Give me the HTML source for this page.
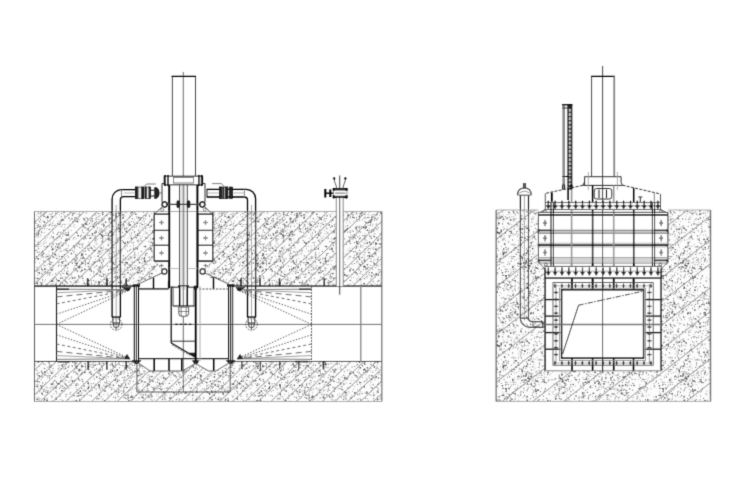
<!DOCTYPE html>
<html><head><meta charset="utf-8"><title>Gate valve sections</title>
<style>html,body{margin:0;padding:0;background:#fff;font-family:"Liberation Sans",sans-serif}svg{display:block}</style></head>
<body><svg width="751" height="484" viewBox="0 0 751 484" shape-rendering="geometricPrecision">
<rect width="751" height="484" fill="#fff"/>
<defs>
<clipPath id="cl"><path d="M34.5 211.5L154.3 211.5L154.3 261.2L163.0 269.5L162.0 273.0L134.3 286.0L34.5 286.0ZM212.7 211.5L381.8 211.5L381.8 286.0L232.7 286.0L205.0 273.0L204.0 269.5L212.7 261.2ZM34.5 361.5L136.5 361.5L150.0 371.0L182.5 371.0L195.5 363.5L208.5 371.0L216.0 371.0L231.0 361.5L381.8 361.5L381.8 401.5L34.5 401.5Z"/></clipPath>
<clipPath id="cr"><path clip-rule="evenodd" d="M496.2 210.0L710.5 210.0L710.5 401.4L496.2 401.4ZM538.4 210.0L667.9 210.0L667.9 262.0L661.2 269.0L661.2 370.8L545.0 370.8L545.0 269.0L538.4 262.0Z"/></clipPath>
<filter id="bl" x="0" y="0" width="100%" height="100%" filterUnits="userSpaceOnUse"><feConvolveMatrix order="3" kernelMatrix="0.019 0.1 0.019 0.1 0.524 0.1 0.019 0.1 0.019" divisor="1" edgeMode="duplicate" preserveAlpha="false"/></filter>
</defs>
<g filter="url(#bl)">
<defs>
<pattern id="dp1" width="181" height="103" patternUnits="userSpaceOnUse">
<path d="M143.5 9.7h0M118.4 63.4h0M2.7 54.4h0M34.4 24.9h0M119.9 47.1h0M128.1 32.5h0M72.5 87.2h0M173.4 87.3h0M38.0 93.8h0M177.4 40.9h0M113.9 80.2h0M137.2 12.2h0M32.2 57.6h0M34.5 75.4h0M116.5 12.0h0M59.5 30.5h0M16.3 60.0h0M108.8 38.3h0M156.8 18.8h0M164.4 84.2h0M109.2 43.4h0M7.0 99.2h0M108.0 30.2h0M130.4 7.1h0M50.7 94.5h0M3.0 27.7h0M10.9 18.2h0M103.6 13.6h0M125.1 60.2h0M126.9 99.2h0M57.7 102.9h0M163.1 89.7h0M79.7 86.4h0M46.3 1.2h0M122.7 20.9h0M163.9 68.0h0M165.5 90.7h0M105.5 32.6h0M128.7 97.9h0M30.6 46.4h0M177.7 46.6h0M5.7 89.9h0M128.3 58.8h0M143.3 2.0h0M43.0 14.5h0M123.9 20.5h0M32.3 1.1h0M129.3 18.4h0M111.2 77.9h0M143.3 93.3h0M168.8 74.4h0M144.2 97.3h0M63.1 8.5h0M5.1 83.3h0M144.8 17.8h0M142.6 14.5h0M171.8 8.9h0M101.4 32.1h0M153.0 92.8h0M91.1 62.3h0M175.5 53.1h0M48.7 48.7h0M86.3 32.7h0M111.8 95.3h0M141.1 2.3h0M41.1 70.8h0M64.3 63.8h0M79.1 38.7h0M95.8 16.5h0M163.4 32.5h0M160.6 13.8h0M131.5 26.7h0M165.0 99.7h0M124.1 19.5h0M93.2 58.6h0M179.2 95.5h0M11.2 98.0h0M138.4 33.7h0M73.4 20.1h0M140.8 83.9h0M138.9 78.8h0M130.8 7.3h0M84.9 1.1h0M115.6 64.3h0M171.0 68.6h0M46.5 41.4h0M35.4 38.7h0M8.2 95.8h0M53.6 1.4h0M13.3 93.3h0M86.4 100.2h0M82.5 21.0h0M95.6 12.8h0M120.9 46.9h0M132.9 24.6h0M136.4 19.6h0M7.2 6.3h0M77.0 64.2h0M98.0 7.5h0M67.5 49.3h0M112.9 79.2h0M166.7 44.0h0M17.6 90.1h0M125.6 29.1h0M64.8 74.8h0M79.3 82.7h0M161.9 25.6h0M66.2 37.4h0M159.4 29.0h0M94.4 78.8h0M128.2 94.2h0M128.5 82.6h0M179.4 38.7h0M37.0 43.8h0M175.5 6.1h0M32.5 6.4h0M105.7 93.7h0M19.7 19.0h0M40.5 19.1h0M31.2 78.0h0M99.2 84.2h0M87.4 22.8h0M171.5 82.5h0M95.5 53.1h0M179.2 67.7h0M2.0 48.7h0M28.5 16.2h0M115.3 102.3h0M148.8 8.5h0M75.5 94.4h0M56.4 32.0h0M65.1 70.8h0M150.2 67.4h0M68.3 73.1h0M102.1 47.2h0M179.5 82.3h0M111.5 29.9h0M97.7 30.7h0M71.0 68.7h0M36.2 75.3h0M60.0 85.2h0M128.2 18.5h0M151.5 61.1h0M41.0 16.2h0M138.8 84.6h0M60.0 42.5h0M3.4 34.1h0M117.8 10.9h0M163.4 56.5h0M113.5 20.4h0M59.6 95.7h0M101.5 57.7h0M52.2 92.4h0M103.8 85.6h0M99.2 7.9h0M145.5 1.7h0M84.7 14.7h0M47.7 58.5h0M154.8 42.1h0M12.6 12.8h0M91.0 40.9h0M125.8 54.2h0M55.4 40.7h0M120.5 89.2h0M102.6 93.1h0M172.1 0.1h0M54.2 33.5h0M162.0 84.0h0M64.5 60.3h0M5.6 92.5h0M85.5 21.3h0M167.0 92.4h0M151.7 36.5h0M36.6 65.1h0M159.3 5.2h0M157.4 73.5h0M126.0 96.6h0M14.3 23.0h0M128.6 20.2h0M106.8 23.6h0M167.7 68.7h0M8.2 61.8h0M45.4 82.7h0M51.6 77.8h0M50.5 56.5h0M162.4 101.7h0M83.6 77.3h0M168.2 51.5h0M100.6 66.4h0M94.2 98.0h0M142.4 81.5h0M32.6 15.6h0M89.8 44.8h0M47.6 82.2h0M143.3 24.5h0M56.3 4.4h0M112.4 54.1h0M31.1 26.2h0M11.1 42.3h0M39.2 100.0h0M25.6 40.5h0M76.8 7.9h0M110.6 4.1h0M117.6 6.0h0M160.4 47.6h0M39.0 35.8h0M99.5 16.9h0M38.8 48.2h0M156.2 21.1h0M13.2 71.2h0M49.7 1.9h0M129.4 27.7h0M27.8 96.5h0M3.7 33.2h0M15.1 90.9h0M139.5 53.5h0M71.3 24.5h0M27.3 61.3h0M24.6 72.8h0M131.3 68.6h0M40.9 30.1h0M39.1 4.2h0M42.5 65.1h0M77.4 40.4h0M50.6 16.3h0M43.4 9.6h0M4.2 40.3h0M11.4 41.6h0M89.7 60.3h0M58.9 26.1h0M47.4 68.8h0M74.4 42.8h0M150.2 90.6h0M164.6 3.9h0M91.8 31.8h0M176.8 15.4h0M41.4 70.1h0M0.2 56.0h0M150.4 99.8h0M62.7 91.3h0M174.5 84.9h0M96.7 24.4h0M22.8 6.5h0M18.5 72.6h0M45.6 73.7h0M150.0 58.4h0M145.0 12.9h0M121.2 23.8h0M75.9 65.0h0M168.9 101.8h0M129.1 12.2h0M21.7 34.0h0M98.2 49.8h0M138.5 101.0h0M26.6 18.0h0M21.8 33.3h0M66.2 26.7h0M11.7 91.9h0M118.9 64.2h0M31.8 2.8h0M21.5 7.7h0M143.4 75.7h0M72.8 72.6h0M41.1 40.0h0M118.9 83.5h0M115.5 36.5h0M163.8 33.1h0M60.6 76.4h0M32.1 10.9h0M63.4 44.4h0M91.0 41.5h0M97.2 98.1h0M19.6 101.7h0M174.2 22.6h0M127.8 18.3h0M122.6 97.6h0M26.8 65.4h0M91.4 58.5h0M151.6 71.1h0M120.4 43.2h0M168.6 15.6h0M179.7 76.0h0M133.4 101.9h0M45.4 83.1h0M97.1 89.2h0M50.6 66.3h0M144.2 15.6h0M18.2 3.8h0M156.5 85.9h0M111.7 92.9h0M158.7 74.9h0M121.0 44.4h0M84.4 13.3h0M170.3 62.8h0M133.3 37.1h0M76.9 84.5h0M62.7 72.5h0M82.3 96.2h0M134.5 61.9h0M11.6 43.2h0M79.8 98.3h0M125.8 69.2h0M45.5 43.3h0M16.0 37.4h0M130.9 68.9h0M162.5 97.8h0M114.6 48.3h0M12.0 47.6h0M37.9 38.1h0M71.4 76.4h0M132.3 79.9h0M171.0 92.3h0M20.1 81.3h0M53.2 80.1h0M74.9 5.6h0M81.8 57.5h0M174.4 42.6h0M5.2 11.4h0M8.3 42.9h0M90.7 93.1h0M54.2 76.2h0M66.6 44.2h0M64.9 44.3h0M9.0 86.1h0M95.5 56.4h0M40.3 10.2h0M56.9 49.9h0M135.7 50.2h0M73.6 99.5h0M107.4 99.0h0M108.2 38.0h0M110.3 60.7h0M9.6 9.6h0M48.9 82.0h0M155.7 41.4h0M150.5 33.8h0M10.3 78.6h0M136.2 59.7h0M178.0 94.4h0M68.4 46.1h0M120.6 56.5h0M101.4 95.0h0M22.3 90.0h0M5.7 44.5h0M19.0 76.5h0M106.0 20.8h0M87.0 101.0h0M126.2 24.1h0M132.2 59.2h0M11.6 85.0h0M82.5 50.1h0M136.3 10.5h0M102.8 56.8h0M131.6 27.3h0M3.7 55.3h0M53.0 26.0h0M87.8 28.1h0M140.3 26.8h0M42.3 46.6h0M102.4 35.9h0M18.5 58.2h0M11.1 68.6h0M33.4 54.3h0M75.5 50.0h0M101.6 13.9h0M155.4 96.3h0M173.2 2.5h0M176.5 85.8h0M60.7 35.7h0M31.8 15.4h0M86.7 80.7h0M43.1 67.4h0M33.4 23.9h0M143.0 55.6h0M138.2 25.2h0M75.0 101.9h0M2.5 51.4h0M11.8 94.2h0M82.1 38.3h0M49.4 96.7h0M33.5 35.8h0M55.6 18.8h0M14.7 23.0h0M91.2 16.5h0M153.1 47.9h0M170.9 100.7h0M138.0 41.3h0M38.3 2.0h0M84.2 18.8h0M55.1 4.3h0M112.0 38.0h0M112.9 32.7h0M160.0 59.8h0M97.8 47.4h0M154.4 90.8h0M92.1 101.4h0M30.9 74.5h0M167.0 53.0h0M0.3 51.1h0M103.9 65.1h0M116.1 99.9h0M88.7 49.7h0M152.2 51.8h0M146.5 82.5h0M147.5 31.2h0M11.7 68.7h0M177.8 89.7h0M178.3 64.2h0M89.0 39.6h0M125.7 53.1h0M124.2 97.0h0M167.8 93.9h0M140.1 34.3h0M94.6 50.2h0M156.1 55.2h0M134.8 25.7h0M105.1 24.9h0M12.7 5.4h0M75.0 41.9h0M85.8 98.8h0M180.5 54.4h0M138.7 5.9h0M117.2 72.7h0M78.3 11.0h0M172.8 91.5h0M79.2 13.2h0M103.7 76.7h0M8.4 73.2h0M9.9 48.8h0M13.2 40.3h0M88.1 60.5h0M178.0 12.4h0M81.2 37.7h0M176.7 80.9h0M121.5 76.3h0M47.0 63.2h0M72.1 102.3h0M148.7 86.2h0M135.1 59.6h0M161.7 68.3h0M145.9 43.3h0M63.8 78.2h0M149.9 39.2h0M64.9 55.3h0M67.8 67.7h0M45.2 18.3h0M61.0 90.5h0M85.8 32.3h0M178.6 23.0h0M61.8 45.3h0M41.0 37.5h0M105.6 9.8h0M156.1 6.5h0M3.8 71.8h0M58.4 48.1h0M101.6 36.7h0M45.0 30.1h0M84.9 52.7h0M142.7 91.9h0M4.0 31.0h0M144.1 63.9h0M151.2 7.7h0M2.4 15.3h0M107.1 60.0h0M18.3 65.6h0M25.4 20.8h0M69.3 84.8h0M175.3 24.7h0M166.1 69.5h0M33.8 24.4h0M121.2 64.7h0M129.8 50.8h0M67.2 34.0h0M107.2 94.2h0M102.3 24.6h0M6.1 19.5h0M137.7 74.4h0M149.4 15.2h0M69.0 8.9h0M6.8 11.6h0M34.6 11.6h0M115.9 17.3h0M96.9 38.7h0M102.8 52.3h0M35.0 34.6h0M160.7 60.5h0M98.1 96.8h0M69.4 72.9h0M127.9 93.5h0M134.0 89.2h0M23.8 80.4h0M113.8 28.8h0M109.8 19.7h0M155.2 101.6h0M66.2 71.5h0M61.4 0.1h0M0.4 33.8h0M179.4 65.7h0M76.2 32.7h0M56.6 76.4h0M29.3 3.6h0M122.1 99.7h0M17.8 3.7h0M155.0 38.3h0M116.1 2.6h0M5.4 16.6h0M149.2 35.5h0M122.6 100.4h0M140.2 65.2h0M1.9 49.1h0M87.6 41.0h0M64.7 103.0h0M27.3 15.4h0M109.0 78.7h0M87.4 13.6h0M161.2 77.2h0M122.2 22.0h0M37.7 66.3h0M137.4 34.7h0M126.1 74.9h0M21.4 9.9h0M66.0 38.0h0M176.4 62.4h0M67.8 42.3h0M117.2 36.3h0M45.5 32.5h0M144.5 94.9h0M68.5 12.1h0M115.5 91.9h0M46.1 78.2h0M158.9 36.3h0M36.5 29.9h0M50.4 75.1h0M115.6 82.7h0M34.7 12.4h0M143.4 62.1h0M82.0 61.7h0M6.3 43.4h0M157.1 59.2h0M17.6 9.5h0M149.4 9.5h0M56.0 45.2h0M0.2 56.4h0M160.0 7.1h0M74.8 53.6h0M19.3 14.2h0M96.5 59.9h0M178.7 86.0h0M169.6 21.5h0M164.7 48.8h0M130.3 79.9h0M82.7 48.2h0M59.1 58.4h0M8.2 39.9h0M5.9 8.2h0M170.6 86.3h0M57.3 38.0h0M69.1 18.2h0M2.7 78.8h0M131.0 81.4h0M133.4 31.2h0M31.0 102.1h0M145.6 12.5h0M92.3 5.2h0M107.7 84.4h0M44.4 75.3h0M41.2 6.5h0M74.6 56.3h0M102.3 30.0h0M68.4 27.8h0M53.7 30.7h0M5.3 49.5h0M159.1 37.1h0M95.1 2.5h0M131.4 69.4h0M148.3 88.4h0M164.4 5.1h0M67.9 97.7h0M88.5 75.7h0M159.9 0.7h0M95.5 3.5h0M169.2 12.8h0M49.5 69.2h0M60.4 42.3h0M41.3 25.2h0M116.4 62.4h0M179.5 32.2h0M152.2 4.3h0M175.8 73.8h0M58.7 65.8h0M175.7 21.8h0M151.3 86.3h0M161.8 102.0h0M66.5 65.9h0M83.7 21.1h0M123.2 56.5h0M0.7 41.0h0M41.0 22.8h0M132.4 63.2h0M83.7 92.4h0M2.0 33.6h0M179.6 40.7h0M125.0 10.0h0M76.6 82.6h0M41.0 1.5h0M11.8 36.0h0M47.0 22.5h0M16.2 59.9h0M17.9 97.7h0M129.8 54.3h0M148.2 51.1h0M5.0 72.1h0M74.9 54.2h0M52.0 91.6h0M139.6 37.8h0M177.7 60.7h0M112.6 98.4h0M42.2 22.8h0M5.2 50.9h0M66.6 98.0h0M149.7 54.8h0M9.1 72.3h0M12.1 30.4h0M159.4 36.4h0M64.5 21.0h0M111.5 67.8h0M96.7 5.8h0M50.9 57.0h0M125.6 42.9h0M37.8 0.4h0M24.8 31.3h0M145.9 22.2h0M10.2 78.7h0M178.5 29.8h0M159.7 95.1h0M172.4 52.1h0M103.0 6.7h0M133.8 87.9h0M103.1 42.0h0M83.0 6.5h0M14.4 43.8h0M100.2 16.4h0M114.5 5.0h0M107.0 26.7h0M37.4 21.1h0M52.4 78.2h0M46.6 66.6h0M25.7 77.7h0M130.4 23.2h0M100.0 24.3h0M15.4 23.5h0M36.8 19.9h0M110.9 30.4h0M99.3 79.1h0M112.5 39.6h0M111.5 80.6h0M30.1 52.7h0M29.9 91.5h0M81.2 65.7h0M29.6 36.6h0M88.3 29.7h0M42.0 45.1h0M79.1 70.4h0M171.9 76.5h0M178.8 1.6h0M148.1 28.4h0M3.6 17.0h0M43.4 38.3h0M49.5 60.5h0M60.3 102.6h0M92.2 18.3h0M116.8 10.6h0M15.2 55.9h0M47.7 79.0h0M44.9 80.3h0M23.2 52.3h0M166.8 70.8h0M95.0 36.7h0M45.9 41.5h0M19.0 50.7h0M53.9 97.7h0M21.4 22.8h0M33.5 7.0h0M94.9 61.4h0M109.9 44.2h0M57.7 32.3h0M175.9 46.2h0M65.9 1.1h0M86.2 98.0h0M32.3 52.0h0M52.4 68.6h0M106.1 73.4h0M158.1 18.5h0M46.3 48.5h0M63.7 59.8h0M45.8 12.2h0M95.1 76.0h0M51.8 92.6h0M28.2 39.7h0M60.6 37.3h0M64.0 73.4h0M74.8 61.1h0M1.4 77.7h0M42.6 63.6h0M173.0 46.3h0M56.1 98.6h0M170.2 8.2h0M122.1 9.5h0M32.1 31.3h0M51.9 11.8h0M94.9 78.1h0M17.1 75.0h0M25.4 50.5h0M70.5 85.2h0M78.2 55.6h0M108.8 49.2h0M7.6 30.3h0M138.1 49.3h0M141.4 53.6h0M71.0 0.2h0M123.4 10.8h0M62.1 67.4h0M175.3 39.9h0M136.6 2.6h0M74.5 18.4h0M143.8 53.1h0M32.6 98.0h0M92.0 47.4h0M48.3 19.2h0M45.5 98.0h0M135.4 61.8h0M112.6 65.6h0M66.1 75.5h0M114.0 23.7h0M37.4 77.3h0M138.0 27.6h0M91.0 100.6h0M106.4 96.9h0M162.3 90.5h0M79.4 22.3h0M11.4 29.0h0M53.8 84.9h0M2.6 46.5h0M94.6 31.4h0M28.2 49.8h0M106.0 69.4h0M178.5 81.6h0M48.2 64.5h0M96.2 35.1h0M68.8 79.8h0M175.3 8.3h0M61.2 69.8h0M30.9 14.7h0M8.8 78.2h0M18.7 95.1h0M107.7 60.2h0M13.7 43.6h0M168.7 64.0h0M56.4 72.4h0M152.3 46.2h0M52.7 64.7h0M165.1 22.8h0M115.8 14.7h0M109.3 24.7h0M154.8 21.9h0M100.1 24.1h0M1.0 39.5h0M55.9 6.9h0M90.4 82.6h0M136.3 80.1h0M134.0 36.2h0M71.7 70.0h0M179.1 89.8h0M180.6 7.4h0M143.2 100.6h0M131.3 28.9h0M58.4 15.3h0M124.1 83.9h0M93.0 101.0h0M96.8 83.5h0M172.4 15.4h0M119.4 5.3h0M106.0 74.6h0M16.4 32.4h0M60.3 17.5h0M24.8 45.1h0M21.3 63.9h0M96.0 9.6h0M167.8 34.5h0M37.9 76.0h0M38.3 19.8h0M85.3 59.9h0M74.1 74.6h0M82.2 26.0h0M7.3 24.5h0M160.7 13.7h0M151.1 88.6h0M4.9 34.7h0M1.1 36.1h0M158.2 21.7h0M31.7 87.4h0M79.6 22.7h0M115.0 23.4h0M180.7 84.1h0M178.2 63.1h0M134.0 68.2h0M166.3 86.0h0M154.3 18.0h0M58.1 4.9h0M86.7 6.3h0M139.8 30.2h0M77.3 59.6h0M73.7 102.1h0M130.4 58.4h0M127.7 22.4h0M160.0 20.0h0M19.0 92.9h0M77.8 16.2h0M57.1 34.2h0M53.6 78.2h0M100.6 73.6h0M110.7 47.8h0M97.6 89.1h0M37.7 64.0h0M158.3 87.4h0M116.0 64.9h0M16.4 33.9h0M164.9 0.1h0M84.7 82.3h0M64.2 82.3h0M112.8 40.1h0M3.2 53.6h0M20.9 12.4h0M86.0 22.5h0M165.4 14.1h0M159.1 1.6h0M103.5 2.6h0M169.1 77.9h0M127.0 89.6h0M2.2 32.9h0M117.6 93.7h0M150.6 16.2h0M128.0 84.0h0M154.0 78.0h0M28.9 93.5h0M150.8 97.4h0M80.3 42.4h0M6.2 91.5h0M131.0 97.8h0M107.0 42.6h0M6.5 16.8h0M147.8 2.4h0M12.7 48.4h0M123.2 19.9h0M49.2 98.0h0M123.9 64.9h0M140.1 21.3h0M155.5 51.8h0M67.4 8.6h0M96.4 17.1h0M123.0 53.1h0M45.3 60.0h0M111.8 52.3h0M132.2 20.3h0M98.9 100.2h0M110.5 52.6h0M98.4 60.9h0M164.2 85.8h0M163.2 69.7h0M161.2 49.5h0M129.4 68.7h0M30.2 30.7h0M127.8 85.2h0M115.8 11.6h0M81.9 70.1h0M84.8 100.0h0M45.5 65.3h0M80.0 59.6h0M11.9 54.7h0M66.9 3.9h0M65.7 54.3h0M55.2 48.9h0M103.8 76.2h0M38.5 97.1h0M55.0 42.9h0M38.2 88.7h0M99.0 62.8h0M157.4 6.9h0M155.4 78.3h0M128.2 53.2h0M42.6 80.0h0M69.3 56.6h0M137.4 67.8h0M35.9 24.5h0M177.8 26.9h0M69.3 102.0h0M3.1 11.0h0M133.5 76.2h0M159.8 16.8h0M124.8 59.2h0M102.0 97.1h0M59.8 31.7h0M139.6 66.8h0M127.5 90.5h0M99.6 52.1h0M139.2 52.4h0M12.9 53.6h0M87.4 85.3h0M96.8 37.4h0M48.9 45.8h0M13.9 37.6h0M52.8 74.5h0M166.7 4.3h0M159.7 70.9h0M156.5 95.3h0M93.8 67.8h0M136.8 11.0h0M144.2 15.2h0M132.4 67.3h0M97.0 1.4h0M101.2 11.9h0M132.3 12.7h0M168.7 42.1h0M32.2 56.3h0M22.2 94.0h0M177.4 70.5h0M120.0 48.3h0M72.6 56.6h0M52.8 39.3h0M7.1 22.1h0M7.7 101.5h0M150.3 36.9h0M110.5 36.7h0M62.0 53.1h0M74.5 94.2h0M76.8 93.6h0M147.1 55.0h0M130.4 67.3h0M130.5 73.1h0M136.3 16.9h0M103.8 29.6h0M165.4 16.6h0M40.7 6.6h0M52.3 19.4h0M169.9 89.5h0M30.3 76.1h0M6.6 67.8h0M79.0 4.9h0M169.3 17.1h0M67.6 33.0h0M24.1 32.3h0M77.8 101.9h0M85.0 98.0h0M95.2 41.7h0M103.4 8.5h0M59.6 8.9h0M66.3 42.5h0M42.1 46.3h0M125.0 37.8h0M7.2 85.1h0M93.9 18.3h0M160.1 52.1h0M6.9 8.8h0M31.8 30.5h0M154.0 37.0h0M144.8 20.0h0M152.5 44.9h0M134.8 13.8h0M48.3 81.8h0M37.5 69.1h0M44.3 80.2h0M80.6 51.6h0M27.9 18.2h0M134.0 67.2h0M103.1 13.7h0M31.8 10.1h0M155.2 55.3h0M64.5 65.0h0M115.6 2.4h0M150.3 87.2h0M168.0 83.8h0M160.2 1.4h0M8.3 99.5h0M101.7 46.4h0M144.7 64.7h0M116.8 74.1h0M139.8 88.6h0M102.3 67.4h0M115.3 88.1h0M30.4 43.2h0M19.1 17.9h0M49.1 28.7h0M125.1 67.6h0M130.1 52.4h0M79.0 2.6h0M141.5 11.5h0M61.8 99.7h0M75.3 54.8h0M101.9 7.2h0M58.4 102.7h0M54.2 33.9h0M63.8 23.6h0M142.5 30.7h0M178.6 72.8h0M98.3 64.5h0M179.6 45.9h0M3.5 16.6h0M180.9 100.8h0M126.2 16.9h0M113.9 7.8h0M145.9 98.7h0M24.6 21.1h0M29.8 65.8h0M34.7 80.6h0M32.0 71.8h0M152.2 91.5h0M48.3 94.1h0M130.3 40.2h0M32.0 64.5h0M64.5 10.2h0M83.1 48.4h0M43.2 19.2h0M98.5 26.6h0M79.4 46.6h0M127.0 6.9h0M49.7 49.6h0M19.5 13.2h0M47.6 31.5h0M43.8 95.0h0M132.0 50.5h0M64.2 52.4h0M93.2 2.6h0M21.6 39.1h0M66.5 55.5h0M163.1 88.0h0M121.6 0.6h0M112.3 84.5h0M150.4 4.6h0M155.9 31.3h0M156.9 95.9h0M39.8 15.1h0M169.8 24.3h0M75.0 6.3h0M99.8 25.3h0M4.5 12.3h0M23.4 15.7h0M14.0 47.3h0M85.2 100.7h0M100.8 94.4h0M117.7 2.4h0M68.8 2.5h0M75.0 21.2h0M70.4 83.4h0M147.2 4.5h0M108.2 48.9h0M128.3 25.2h0M79.7 90.0h0M87.7 27.3h0M104.6 12.8h0M117.4 23.9h0M54.6 79.8h0M15.5 91.6h0M31.5 72.1h0M109.5 45.8h0M172.8 71.4h0M139.7 17.5h0M94.3 45.4h0M178.5 12.6h0M154.1 2.8h0M95.7 24.4h0M4.6 68.9h0M39.4 57.1h0M5.3 1.0h0M125.7 57.3h0M151.0 54.5h0M168.0 79.3h0M99.8 22.0h0M46.2 101.4h0M121.5 31.8h0M129.4 61.6h0M143.9 89.7h0M147.9 86.8h0M158.4 84.7h0M162.6 9.6h0M145.9 17.8h0M142.8 85.5h0M113.7 35.7h0M103.6 54.2h0M29.1 88.5h0M174.4 97.3h0M89.1 64.2h0M107.4 9.8h0M132.8 23.6h0M159.6 73.5h0M13.0 77.8h0M144.2 80.6h0M107.8 45.8h0M167.8 82.5h0M164.7 20.3h0M157.4 100.5h0M108.8 39.7h0M66.0 50.9h0M63.0 55.5h0M151.4 77.9h0M97.8 33.2h0M167.4 8.3h0M3.9 15.4h0M8.4 48.1h0M37.5 36.3h0M58.1 31.3h0M17.6 41.9h0M169.4 26.6h0M11.5 83.7h0M44.6 86.5h0M45.4 56.0h0M46.2 19.4h0M136.0 75.4h0M115.8 82.8h0M57.6 53.1h0M73.1 91.3h0M178.9 67.3h0M153.6 60.1h0M23.1 101.9h0M79.6 62.7h0M142.4 77.3h0M142.6 21.7h0M32.3 93.5h0M34.8 88.5h0M15.0 84.1h0M23.8 0.4h0M107.6 76.3h0M52.5 37.0h0M180.2 39.5h0M15.6 87.3h0M150.0 24.7h0M87.9 79.0h0M179.3 91.3h0M76.4 54.1h0M56.1 37.4h0M99.5 46.1h0M16.2 65.8h0M85.3 21.8h0M40.0 23.1h0M18.4 87.2h0M38.4 79.6h0M66.5 0.1h0M169.7 50.9h0M106.7 9.2h0M156.1 65.0h0M156.1 30.0h0M142.1 87.8h0M177.8 21.6h0M84.6 80.3h0M46.1 36.6h0M88.5 36.2h0M99.4 87.0h0M46.1 85.4h0M53.0 61.6h0M140.1 12.8h0M79.7 6.2h0M8.8 55.4h0M6.8 93.6h0M39.6 99.1h0M91.2 93.6h0M166.3 20.0h0M149.0 42.3h0M45.7 62.6h0M134.4 56.0h0M83.4 86.3h0M50.0 14.8h0M124.1 56.8h0M74.6 59.9h0M135.8 86.6h0M51.0 86.5h0M178.8 20.0h0M1.9 12.2h0M173.8 77.8h0M71.8 56.5h0M10.4 19.7h0M90.6 69.1h0M71.5 67.6h0M132.6 79.9h0M61.4 60.1h0M25.9 21.9h0M51.2 8.2h0M60.5 30.5h0M91.5 77.1h0M178.1 64.1h0M66.2 28.6h0M54.8 51.7h0M105.5 45.4h0M56.2 32.7h0M62.7 94.4h0M130.1 78.2h0M32.2 56.6h0M175.7 66.8h0M176.3 85.4h0M113.3 20.1h0M143.1 95.9h0M36.9 17.5h0M30.8 27.1h0M38.4 10.5h0M61.2 14.4h0M73.0 7.3h0M8.1 76.1h0M176.2 72.6h0M150.9 43.8h0M108.4 27.8h0M42.0 94.4h0M18.7 69.2h0M50.2 32.2h0M45.1 34.3h0M168.3 60.8h0M43.5 54.9h0M42.6 64.5h0M164.3 2.8h0M38.1 6.4h0M120.2 76.6h0M143.9 28.2h0M37.4 65.1h0M83.4 37.8h0M106.8 74.7h0M102.0 53.3h0M58.3 37.5h0M49.6 18.9h0M15.0 14.2h0M25.8 0.5h0M170.2 6.7h0M50.8 2.8h0M103.6 40.2h0M112.3 97.9h0M4.0 65.7h0M34.5 38.3h0M99.3 75.9h0M89.7 57.9h0M147.2 27.0h0M44.7 26.7h0M155.5 73.4h0M118.4 17.1h0M149.9 67.4h0M22.4 50.2h0M123.0 50.0h0M139.3 19.9h0M21.1 17.8h0M49.7 98.2h0M18.7 88.2h0M144.5 95.1h0M62.9 30.6h0M80.2 102.8h0M65.9 71.6h0M116.5 62.1h0M83.7 51.5h0M171.7 24.6h0M145.7 97.5h0M21.5 22.3h0M150.9 85.3h0M63.1 96.7h0M37.3 52.4h0M164.6 82.6h0M26.5 60.0h0M77.2 37.2h0M73.9 53.0h0M6.5 49.9h0M31.3 47.2h0M25.2 60.6h0M22.7 55.1h0M108.3 0.3h0M77.1 49.4h0M77.9 65.9h0M90.0 93.0h0M45.9 16.4h0M56.1 11.3h0M172.5 80.4h0M42.5 51.1h0M138.8 28.9h0M142.6 59.3h0M141.2 65.5h0M138.7 46.9h0M94.2 78.7h0M42.7 26.6h0M130.2 51.6h0M176.6 37.5h0M40.3 28.6h0M92.5 43.2h0M168.5 37.2h0M37.6 84.4h0M52.6 87.3h0M127.3 40.5h0M171.2 88.5h0M23.9 57.2h0M171.2 33.7h0M73.7 46.9h0M165.1 101.2h0M37.1 8.9h0M148.6 35.7h0M35.4 72.2h0M151.8 12.2h0M38.4 52.7h0M162.4 21.6h0M89.2 82.0h0M151.4 85.9h0M169.6 95.5h0M99.7 89.7h0M75.8 54.5h0M132.3 55.1h0M170.1 28.6h0M158.2 16.9h0M61.7 36.7h0M49.5 37.3h0M44.3 6.0h0M106.0 67.8h0M75.2 63.0h0M3.0 83.8h0M145.3 25.8h0M31.1 23.3h0M30.5 87.6h0M124.3 89.0h0M87.0 52.7h0M3.5 61.2h0M120.6 26.5h0M12.6 69.3h0M109.7 72.6h0M69.9 44.1h0M14.6 95.4h0M125.3 58.5h0M159.2 40.3h0M116.5 3.0h0M11.3 51.0h0M114.4 63.3h0M76.9 91.7h0M68.5 25.0h0M27.2 75.5h0M65.9 79.4h0M22.8 80.6h0M116.1 73.5h0M1.1 29.9h0M159.7 27.8h0M37.8 75.3h0M84.3 77.6h0M40.9 52.8h0M131.7 83.8h0M9.1 38.4h0M94.7 60.6h0M53.5 15.2h0M116.7 84.3h0M151.9 90.5h0M150.8 85.5h0M35.3 56.5h0M151.9 96.5h0M32.1 34.9h0M135.5 41.5h0M155.0 37.2h0M60.7 95.4h0M178.9 74.4h0M70.0 78.9h0M25.8 43.8h0M177.0 63.4h0M102.5 4.3h0M84.4 86.5h0M8.9 55.4h0M44.2 99.5h0M150.5 32.0h0M167.5 30.8h0M76.0 78.6h0M159.6 60.7h0M166.3 7.2h0M137.7 63.1h0M9.3 78.8h0M144.1 61.8h0M17.0 45.6h0M10.1 50.0h0M131.3 91.3h0M156.1 34.1h0M161.1 53.2h0M108.5 74.5h0M28.2 33.5h0M25.8 29.0h0M165.2 74.1h0M70.8 83.4h0M128.2 74.0h0M2.5 31.8h0M120.3 7.9h0M67.3 34.6h0M19.7 48.3h0M136.8 92.1h0M9.8 42.1h0M109.1 92.0h0M97.8 47.6h0M34.8 46.5h0M44.1 21.8h0M93.4 65.7h0M76.9 49.5h0M13.5 36.5h0M36.5 51.7h0M61.8 65.5h0M124.5 101.7h0M123.3 82.1h0M110.6 78.4h0M145.9 73.4h0M89.6 77.0h0M25.2 14.3h0M100.0 9.3h0M170.9 8.0h0M48.2 66.6h0M76.3 86.9h0M117.8 95.4h0M88.9 21.4h0M46.8 78.1h0M177.9 21.3h0M115.6 12.8h0M177.8 38.0h0M170.3 71.6h0M68.3 21.9h0M2.5 30.4h0M117.4 94.8h0M67.5 44.7h0M174.0 51.6h0M29.9 42.2h0M33.7 37.3h0M152.7 1.1h0M175.3 7.1h0M145.1 0.4h0M59.7 84.9h0M148.9 72.0h0M176.6 67.9h0M41.4 9.3h0M95.9 75.1h0M37.9 88.1h0M168.6 44.8h0M70.9 71.7h0M2.1 72.9h0M70.1 99.8h0M102.7 54.1h0M116.6 84.2h0M64.7 51.8h0M147.4 32.6h0M66.5 68.1h0M123.9 52.9h0M23.2 25.7h0M97.7 97.5h0M35.1 54.7h0M0.9 52.1h0M117.9 52.5h0M79.7 9.5h0M83.9 94.1h0M88.0 22.6h0M83.2 74.5h0M11.6 75.9h0M98.9 78.9h0M68.5 68.3h0M52.2 20.3h0M77.1 47.4h0M134.7 25.9h0M140.1 2.2h0M74.7 1.9h0M62.5 101.0h0M55.9 49.8h0M32.9 5.9h0M45.4 7.1h0M33.4 6.0h0M151.6 43.8h0M156.8 17.7h0M7.9 86.3h0M93.6 2.6h0M171.5 30.1h0M65.5 26.8h0M166.1 14.3h0M88.2 53.1h0M100.5 32.2h0M84.3 87.4h0M38.6 37.9h0M16.3 82.4h0M166.9 34.9h0M62.5 29.3h0M14.4 17.8h0M116.1 70.5h0M30.9 35.1h0M86.2 7.5h0M180.5 0.8h0M73.0 101.7h0M158.5 71.0h0M163.3 93.5h0M160.1 68.0h0M171.3 42.3h0M58.8 52.3h0M146.3 32.3h0" stroke="#848484" stroke-width="0.85" stroke-linecap="round" fill="none"/>
<path d="M84.3 52.3h0M33.4 52.7h0M16.4 83.4h0M84.0 45.4h0M94.0 66.0h0M180.6 102.6h0M52.3 7.2h0M18.3 6.2h0M145.4 31.3h0M38.1 40.6h0M38.6 26.6h0M173.6 49.8h0M35.6 97.9h0M127.5 26.5h0M101.2 87.8h0M161.3 101.0h0M115.1 49.7h0M133.4 72.5h0M165.6 36.2h0M143.1 88.9h0M113.1 39.4h0M110.2 8.3h0M179.8 90.6h0M70.3 75.7h0M135.8 3.1h0M87.1 23.7h0M161.4 33.7h0M35.9 44.4h0M89.9 86.2h0M38.7 42.6h0M89.4 32.5h0M82.3 2.5h0M113.9 46.0h0M62.6 71.8h0M68.2 58.6h0M117.9 21.1h0M148.1 66.1h0M176.9 55.3h0M58.0 93.7h0M99.6 79.1h0M93.5 74.5h0M124.8 97.4h0M95.3 29.9h0M115.6 53.8h0M154.0 99.7h0M103.7 20.7h0M145.0 58.0h0M125.1 6.8h0M132.3 12.6h0M45.4 20.4h0M114.3 65.8h0M154.1 63.0h0M42.1 76.3h0M150.6 43.4h0M22.8 41.5h0M3.2 20.7h0M91.5 78.1h0M19.2 3.9h0M33.4 21.0h0M93.3 44.3h0M2.4 72.2h0M32.8 46.8h0M92.8 1.6h0M145.1 72.6h0M113.9 41.7h0M91.3 101.2h0M46.7 93.9h0M162.3 90.6h0M119.4 58.7h0M70.5 103.0h0M4.1 63.4h0M45.4 93.3h0M91.9 99.6h0M180.1 65.7h0M13.8 61.5h0M85.4 17.4h0M76.1 54.3h0M66.2 29.4h0M101.5 29.2h0M7.7 16.1h0M70.6 92.4h0M94.7 96.5h0M84.8 100.8h0M109.3 11.9h0M105.4 43.2h0M161.6 80.8h0M65.0 28.0h0M102.2 60.9h0M177.3 94.3h0M122.4 56.7h0M62.2 76.7h0M13.5 12.3h0M76.8 26.6h0M58.9 56.5h0M15.0 58.1h0M124.0 30.8h0M13.8 22.0h0M14.8 31.3h0M21.2 73.1h0M70.2 20.1h0M144.3 55.7h0M101.9 18.2h0M93.3 56.0h0M174.9 67.1h0M11.6 56.3h0M15.2 8.4h0M162.7 8.7h0M26.0 76.8h0M44.4 22.7h0M61.1 99.7h0M89.4 55.3h0M149.5 68.7h0M145.9 85.9h0M173.4 65.9h0M76.1 15.1h0M20.8 66.7h0M42.6 73.9h0M144.2 73.5h0M47.0 89.5h0M96.8 15.5h0M0.2 84.6h0M129.7 10.0h0M84.8 98.4h0M155.2 31.3h0M149.6 21.5h0M95.1 16.2h0M55.3 48.1h0M171.1 58.0h0M25.5 9.7h0M77.3 52.7h0M142.9 68.0h0M92.2 81.2h0M110.7 16.3h0M90.6 14.6h0M178.6 53.2h0M44.3 59.4h0M24.5 93.1h0M164.6 102.2h0M108.9 12.6h0M119.2 31.7h0M133.5 39.3h0M103.1 17.9h0M116.1 3.9h0M26.2 98.8h0M85.1 42.4h0M124.8 78.1h0M87.9 102.4h0M102.4 93.2h0M58.0 5.6h0M162.9 75.4h0M136.1 31.4h0M145.8 22.8h0M143.4 12.8h0M42.6 68.5h0M67.4 68.2h0M79.7 54.4h0M119.1 80.6h0M91.5 87.1h0M141.1 17.0h0M42.6 45.4h0M88.5 22.8h0M90.3 3.6h0M129.4 59.0h0M164.2 58.6h0M106.6 9.1h0M125.0 85.6h0M26.2 46.9h0M7.1 24.8h0M180.3 78.6h0M41.6 26.1h0M125.7 89.0h0M152.6 39.3h0M80.9 102.3h0M56.5 43.7h0M37.1 28.9h0M73.4 39.8h0M114.1 58.3h0M176.6 30.7h0M166.4 22.3h0M120.7 98.4h0M69.4 33.8h0M86.0 17.2h0M76.4 15.5h0M126.9 57.0h0M62.8 91.9h0M139.6 64.6h0M43.3 50.8h0M99.2 64.3h0M129.6 71.6h0M112.5 50.5h0M66.9 29.4h0M58.8 18.3h0M81.7 79.5h0M29.4 89.2h0M9.7 26.2h0M144.2 40.4h0M60.4 78.2h0M128.0 64.2h0M175.6 13.8h0M56.0 82.4h0M51.4 40.3h0M125.6 56.2h0M169.0 25.9h0M102.4 14.8h0M49.6 23.4h0M14.2 18.8h0M180.5 20.8h0M87.7 42.7h0M71.7 5.9h0M80.2 85.9h0M136.4 31.9h0M2.0 54.3h0M145.4 85.2h0M164.6 2.4h0M134.5 56.3h0M159.4 33.1h0M116.5 21.9h0M160.7 88.2h0M41.6 61.9h0M93.3 3.3h0M80.9 61.1h0M88.9 24.1h0M117.5 96.6h0M11.7 89.6h0M100.5 81.1h0M43.8 82.4h0M32.9 40.0h0M178.8 21.3h0M61.5 32.5h0M50.4 62.1h0M32.7 13.2h0M35.5 102.5h0M73.9 15.1h0M104.8 29.3h0M51.9 88.0h0M74.5 13.6h0M148.5 87.6h0M98.8 10.2h0M84.1 32.6h0M179.7 40.7h0M30.2 66.8h0M134.3 26.1h0M84.8 1.6h0M63.6 55.2h0M91.8 12.8h0M23.5 9.1h0M154.0 10.7h0M28.0 99.9h0M73.6 63.1h0M27.8 84.3h0M129.0 16.1h0M174.9 66.2h0M59.5 50.4h0M160.5 97.5h0M90.1 53.2h0M148.3 81.2h0M133.4 43.1h0M141.4 45.4h0M21.4 33.0h0M12.9 11.9h0M75.1 55.2h0M122.1 95.6h0M124.8 40.0h0M29.7 36.0h0M94.1 40.0h0M152.5 36.9h0M129.7 44.6h0M153.4 3.6h0M27.4 97.9h0M145.8 10.1h0M39.5 20.5h0M110.4 12.4h0M130.1 30.0h0M50.2 52.4h0M29.0 88.5h0M110.3 56.0h0M169.5 37.4h0M132.0 97.2h0M179.0 31.9h0M124.0 88.1h0M94.3 8.0h0M90.3 20.3h0M88.6 60.8h0M5.8 11.5h0M150.2 70.9h0M105.0 78.0h0M0.1 7.0h0M139.4 27.0h0M95.2 34.5h0M82.3 24.1h0M94.6 26.3h0M59.7 74.8h0M70.1 14.0h0M141.6 34.8h0M68.7 29.6h0M134.2 49.0h0M34.9 14.0h0M95.4 55.7h0M102.9 30.3h0M176.0 47.4h0M29.5 17.8h0M144.6 51.4h0M51.4 10.0h0M62.8 57.6h0M16.3 51.2h0M80.1 8.7h0M42.4 85.4h0M46.1 93.0h0M35.6 22.2h0M124.0 82.1h0M166.4 2.4h0M62.1 81.6h0M164.9 96.0h0M33.7 71.5h0M131.5 6.0h0M139.1 80.9h0M103.0 97.2h0M4.1 16.6h0M41.4 67.3h0M49.4 19.3h0M95.4 97.7h0M78.4 70.6h0M163.4 25.9h0M99.8 28.1h0M131.5 32.9h0M12.9 27.8h0M117.6 70.2h0M19.1 98.2h0M40.0 89.2h0M74.3 41.1h0M46.6 81.5h0M82.0 32.5h0M74.4 31.3h0M82.4 48.8h0M82.3 38.7h0M131.0 97.8h0M121.1 44.8h0M40.9 79.3h0M177.4 35.2h0M3.0 42.9h0M165.2 6.2h0M106.9 73.3h0M127.6 57.8h0M178.7 14.1h0M49.7 58.4h0M89.6 17.2h0M109.7 47.4h0M54.4 71.3h0M15.5 81.8h0M47.9 50.4h0M5.1 84.3h0M38.2 72.5h0M147.0 58.7h0M149.8 94.3h0M31.0 36.6h0M39.1 90.9h0M130.1 4.9h0M11.3 86.6h0M63.9 101.4h0M49.4 68.7h0M2.9 32.0h0M48.6 11.6h0M160.6 77.7h0M119.4 71.3h0M74.8 40.2h0M84.8 54.5h0M34.6 89.5h0M123.7 71.2h0M82.3 40.9h0M175.8 56.0h0M56.1 88.8h0M115.8 11.4h0M170.0 44.9h0M84.0 92.7h0M39.2 46.0h0M61.0 59.5h0M3.2 22.7h0M38.8 7.5h0M60.4 98.7h0M147.4 74.6h0M10.4 3.5h0M58.2 26.7h0M33.4 65.4h0M169.3 4.5h0M129.4 19.1h0M89.1 39.6h0M90.5 51.5h0M131.2 8.0h0M152.8 63.8h0M6.8 2.9h0M85.8 4.1h0M51.5 30.2h0M33.6 40.5h0M109.6 98.8h0M26.0 41.6h0M153.7 20.5h0M129.6 23.9h0M124.1 15.7h0M175.0 20.9h0M33.2 75.3h0M149.2 70.4h0M96.2 13.2h0M121.5 75.0h0M100.3 60.0h0M108.9 52.5h0M10.6 13.5h0M123.4 102.0h0M52.5 46.9h0M72.3 8.2h0M53.4 37.9h0M38.6 1.2h0M60.7 14.8h0M19.8 3.8h0M85.1 92.8h0M37.4 4.7h0M167.2 97.7h0M143.9 4.2h0M156.6 25.6h0M57.5 17.3h0M149.6 51.1h0M127.2 61.6h0M139.4 62.7h0M175.5 41.9h0M153.3 82.4h0M152.7 39.8h0M146.2 9.3h0M28.3 102.2h0M162.4 98.5h0M116.9 48.7h0M121.2 16.3h0M74.8 53.1h0M124.7 58.7h0M102.2 28.8h0M60.0 87.1h0M139.1 60.9h0M83.7 26.5h0M32.2 77.9h0M63.8 24.8h0M82.4 70.6h0M24.8 60.8h0M34.2 32.5h0M64.3 48.6h0M80.0 86.4h0M36.9 92.5h0M122.1 34.6h0M142.1 57.3h0M62.2 77.4h0M143.4 86.1h0M96.5 59.6h0M136.1 63.5h0M101.9 14.9h0M132.7 90.5h0M49.8 8.3h0M61.2 10.7h0M168.6 93.5h0M16.4 21.6h0M43.9 81.0h0M135.2 79.0h0M49.1 54.1h0M152.3 87.4h0M102.6 7.7h0M11.1 75.3h0M122.3 68.5h0M162.9 74.5h0M125.8 94.0h0M3.7 89.4h0M61.4 7.4h0M120.9 62.4h0M83.2 1.5h0M115.6 88.9h0M65.8 0.5h0M113.1 101.5h0M71.5 12.8h0M176.9 20.2h0M162.1 30.0h0M94.8 27.4h0M147.6 79.3h0M107.7 89.2h0M10.0 13.4h0M152.0 101.9h0M28.6 58.4h0M69.6 7.2h0M109.9 32.9h0M163.9 102.1h0M166.8 26.1h0M143.6 6.3h0M95.2 95.3h0M21.1 74.3h0M59.6 79.5h0M0.3 99.2h0M29.6 5.1h0M5.4 62.8h0M124.4 85.8h0M165.7 95.1h0M146.2 27.0h0M44.2 40.5h0M0.7 57.1h0M129.4 97.6h0M40.5 20.5h0M21.8 96.3h0M15.1 82.8h0M86.2 11.8h0M24.8 13.8h0M116.5 82.5h0M88.9 2.9h0M123.4 83.3h0M165.1 86.0h0M156.8 99.8h0M111.6 6.5h0M14.5 43.0h0M79.8 5.7h0M149.7 62.8h0M152.0 60.2h0M5.2 83.2h0M27.8 1.6h0M135.2 28.8h0M157.4 69.9h0M62.6 98.3h0M20.5 4.1h0M43.8 10.3h0M65.8 96.1h0M151.1 101.0h0M169.3 64.1h0M58.6 39.1h0M44.7 66.1h0M66.4 44.7h0M99.0 53.3h0M100.1 69.8h0M53.1 59.2h0M82.2 18.4h0M94.8 17.7h0M108.6 64.3h0M124.6 22.2h0M106.0 100.4h0M67.4 44.5h0M3.1 60.9h0M134.3 62.2h0M99.3 68.7h0M16.4 69.5h0M77.5 99.9h0M128.9 17.5h0M180.4 9.1h0M157.4 11.8h0M85.3 56.9h0M108.4 27.9h0M157.0 4.8h0M108.9 27.8h0M85.7 81.9h0M42.9 100.6h0M60.6 26.2h0M155.7 27.2h0M79.4 41.3h0M94.6 56.4h0M31.9 51.0h0M9.7 32.5h0M175.3 66.8h0M106.9 93.8h0M19.9 95.2h0M36.2 50.6h0M43.7 19.3h0M124.5 23.4h0M112.6 45.8h0M127.2 86.3h0M81.9 79.2h0M72.3 12.8h0M139.9 0.7h0M92.7 15.1h0M108.1 44.4h0M77.0 80.7h0M133.7 16.1h0M66.6 1.3h0M120.0 4.7h0M12.2 24.0h0M138.9 24.1h0M144.9 62.2h0M115.1 58.1h0M74.4 86.7h0M159.3 101.6h0M139.8 71.1h0M44.8 10.5h0M44.9 63.1h0M55.0 71.8h0M77.7 65.1h0M139.0 83.3h0M117.9 32.3h0M75.6 57.4h0M163.4 100.2h0M50.6 2.0h0M121.9 84.8h0M68.6 51.1h0M46.4 6.0h0M169.6 74.4h0M84.6 21.2h0M113.7 88.0h0M163.3 62.7h0M123.6 18.4h0M72.4 9.6h0M176.4 90.6h0M66.0 33.8h0M76.5 50.0h0M114.5 15.2h0M43.9 55.1h0M130.9 51.0h0M142.1 52.1h0M67.7 2.9h0M181.0 56.1h0M116.2 45.6h0M6.7 99.1h0M98.5 96.9h0M110.6 42.1h0M88.6 44.1h0M10.0 25.0h0M110.4 75.6h0M49.1 57.3h0M155.9 52.2h0M111.4 50.5h0M111.3 85.6h0M7.4 66.5h0M82.6 95.5h0M84.3 76.9h0M55.8 7.2h0M134.7 18.1h0M7.0 42.6h0M151.5 86.8h0M6.4 16.6h0M102.5 8.8h0M117.5 85.6h0M80.7 65.6h0M5.2 61.9h0M173.7 57.5h0M137.5 17.4h0M65.6 75.7h0M58.0 5.7h0M136.4 86.1h0M5.2 62.4h0M98.1 7.2h0M109.9 26.6h0M36.9 61.2h0M32.0 9.7h0M70.1 94.9h0M9.5 11.4h0M14.2 8.9h0M170.5 94.3h0M16.5 80.1h0M141.6 65.3h0M63.3 14.5h0M67.3 61.9h0M83.0 1.5h0M12.6 14.2h0M97.4 21.9h0M33.8 18.4h0M125.7 89.5h0M108.6 63.4h0M15.3 5.9h0M26.5 99.5h0M3.1 46.2h0M41.9 95.2h0M75.9 11.7h0M45.6 51.3h0M108.3 93.6h0M125.4 76.3h0M166.3 61.2h0M54.3 19.6h0M56.4 73.6h0M0.4 21.5h0M16.6 63.5h0M110.9 52.1h0M147.2 68.8h0M41.0 50.0h0M130.8 60.4h0M52.7 63.3h0M31.3 26.7h0M158.0 79.8h0M11.1 8.5h0M83.3 81.3h0M116.8 98.2h0M166.4 13.1h0M66.0 87.2h0M101.4 23.1h0M64.3 0.8h0M22.9 27.7h0M10.3 79.5h0M81.5 56.1h0M151.4 45.1h0M61.2 20.4h0M32.8 85.9h0M56.7 52.4h0M180.0 73.6h0M98.6 50.1h0M37.6 98.7h0M169.6 30.7h0M97.6 50.3h0M0.4 99.8h0M68.2 57.3h0M98.6 17.8h0M159.9 13.4h0M173.6 36.6h0M56.7 84.0h0M171.1 7.0h0M161.7 80.4h0M60.2 45.1h0M16.9 74.4h0M83.8 98.1h0M52.9 51.3h0M179.4 93.8h0M176.6 75.6h0M16.4 42.0h0M44.1 8.4h0M60.9 97.7h0M124.6 63.0h0M10.0 23.8h0M132.0 36.6h0M18.5 32.7h0M18.5 7.6h0M159.6 79.5h0M114.4 67.5h0M132.2 61.7h0M106.8 71.7h0M52.7 23.4h0M15.9 12.1h0M179.2 80.5h0M134.2 21.3h0M152.8 32.7h0M137.9 81.0h0M157.7 73.0h0M169.6 44.5h0M39.4 67.7h0M51.9 41.3h0M133.6 102.1h0M96.0 76.2h0M94.2 70.0h0M28.0 67.8h0M151.9 50.8h0M68.4 39.8h0M155.4 24.7h0M64.7 78.9h0M83.2 57.2h0M72.8 53.5h0M159.2 99.4h0M66.8 76.7h0M172.4 51.6h0M102.9 44.1h0M46.4 99.0h0M81.4 99.4h0M89.3 42.2h0M107.3 5.0h0M137.7 99.3h0M105.7 27.3h0M84.0 33.2h0M79.8 38.2h0M40.8 7.7h0M164.8 88.0h0M29.9 45.6h0M100.3 101.1h0M134.8 43.4h0M92.2 28.8h0M50.8 58.3h0M116.0 66.6h0M70.7 44.1h0M40.5 13.4h0M62.7 18.5h0M97.1 55.3h0M111.6 80.1h0M173.7 29.8h0M169.4 10.9h0M172.1 45.2h0M33.1 53.4h0M78.0 13.7h0M20.5 47.3h0M67.7 97.3h0M126.1 86.3h0M162.8 87.0h0M90.5 31.2h0M76.9 51.9h0M93.8 0.7h0M6.8 61.2h0M103.4 54.9h0M55.9 92.9h0M3.4 62.0h0M102.6 94.0h0M135.0 48.0h0M54.4 100.8h0M160.7 56.3h0M78.7 97.0h0M57.4 28.0h0M116.3 37.1h0M49.7 55.6h0M153.2 26.4h0M102.7 90.0h0M73.5 99.8h0M96.1 80.1h0M68.4 0.9h0M166.9 11.1h0M95.9 19.4h0M1.9 93.3h0M47.8 67.0h0M117.7 36.0h0M66.1 85.4h0M39.5 15.6h0M109.3 76.9h0M118.6 44.4h0M76.8 39.1h0M23.6 69.9h0M179.8 26.1h0M180.6 9.4h0M135.5 4.5h0M156.7 42.0h0M125.9 51.7h0M87.7 12.4h0M151.1 1.4h0M63.5 37.4h0M129.9 71.7h0M152.7 2.0h0M72.9 94.6h0M99.9 48.1h0M11.2 37.0h0M59.6 37.9h0M164.5 98.1h0M160.7 18.6h0M56.0 79.8h0M136.2 0.6h0M83.7 96.7h0M34.1 65.5h0M131.1 52.2h0M60.2 97.7h0M172.1 32.7h0M101.4 56.6h0M153.4 18.7h0M164.6 101.9h0M23.9 98.0h0M87.8 18.2h0M147.5 55.3h0M81.8 84.1h0M41.8 63.4h0M142.0 18.6h0M102.6 31.1h0M90.9 51.3h0M174.0 83.5h0M166.7 19.5h0M101.7 70.4h0M74.9 11.7h0M47.5 10.9h0M56.9 28.5h0M113.4 28.8h0M150.6 0.5h0M98.8 13.5h0M5.1 70.2h0M37.8 21.6h0M101.5 51.1h0M178.9 47.8h0M29.6 37.0h0M8.3 18.8h0M46.9 50.4h0M94.3 18.1h0M113.6 9.1h0M41.8 102.2h0M29.3 32.5h0M153.5 99.8h0M12.5 86.1h0M3.1 29.6h0M38.4 18.6h0M3.7 22.1h0M173.6 11.9h0M56.7 38.6h0M112.6 15.4h0M140.1 66.8h0M176.7 85.4h0M11.6 4.4h0M63.2 27.7h0M90.6 32.5h0M39.7 82.7h0M120.6 78.1h0M125.5 36.9h0M89.7 37.9h0M73.7 86.1h0M72.4 57.5h0M142.4 4.5h0M29.0 89.5h0M37.6 100.8h0M4.3 0.9h0M82.3 56.9h0M178.1 1.3h0M7.9 29.7h0M82.4 72.5h0M107.4 20.4h0M89.6 29.2h0M20.9 49.3h0M164.9 89.9h0M80.5 30.4h0M33.6 86.2h0M98.6 45.7h0M66.5 32.7h0M120.4 63.9h0M125.5 75.1h0M34.0 22.4h0M180.6 51.5h0M110.6 100.7h0M65.1 18.5h0M156.5 55.0h0M49.1 23.5h0M145.8 49.6h0M175.6 11.5h0M147.0 81.0h0M99.5 77.0h0M58.4 59.9h0M55.3 40.7h0M168.3 5.1h0M117.4 33.9h0M177.9 57.7h0M13.2 96.9h0M51.9 56.4h0M167.0 78.9h0M0.3 68.5h0M124.2 68.4h0M132.2 56.3h0M28.2 48.5h0M15.8 75.6h0M161.0 99.5h0M108.9 34.8h0M98.9 44.8h0M128.3 86.1h0M21.8 8.7h0M14.0 48.8h0M162.8 66.4h0M52.4 10.5h0M35.1 30.5h0M11.1 50.5h0M52.7 17.3h0M68.4 26.6h0M75.2 62.7h0M128.7 96.0h0M75.5 48.5h0M78.1 75.8h0M82.9 72.3h0M39.7 20.9h0M121.8 76.9h0M33.9 63.0h0M40.3 76.6h0M2.7 55.4h0M160.6 100.2h0M9.4 5.1h0M28.2 60.0h0M151.5 3.1h0M115.6 55.8h0M91.1 51.2h0M175.3 3.0h0M20.2 51.3h0M14.2 59.6h0M115.3 55.7h0M115.1 81.7h0M133.7 3.4h0M37.1 28.6h0M166.1 48.1h0M13.2 93.0h0M87.4 29.5h0M2.8 11.7h0M81.0 52.8h0M104.7 73.2h0M137.7 28.0h0M34.1 55.9h0M124.3 70.7h0M109.1 15.8h0M50.8 0.6h0M176.4 48.1h0M112.8 3.8h0M96.0 32.9h0M110.1 5.6h0M19.1 89.9h0M102.8 6.4h0M16.4 68.7h0M10.8 63.1h0M3.0 8.6h0M83.5 51.1h0M14.7 0.3h0M76.9 74.5h0M175.8 23.9h0M65.4 34.2h0M155.0 4.2h0M142.8 81.8h0M19.4 69.7h0M68.0 65.1h0M68.0 90.6h0M159.6 58.0h0M108.0 92.4h0M175.4 66.6h0M21.7 25.9h0M93.1 57.9h0M78.7 69.6h0M42.3 85.6h0M102.0 78.9h0M121.1 82.0h0M120.9 65.5h0M63.0 79.8h0M148.9 43.5h0M173.0 6.1h0M106.9 99.6h0M47.4 14.3h0M33.1 21.1h0M85.8 48.4h0M125.0 15.4h0M38.2 31.0h0M23.2 28.1h0M32.0 102.1h0M30.6 0.3h0M7.8 69.0h0M85.5 44.7h0M173.2 28.5h0M175.7 40.9h0M140.9 32.2h0M85.5 58.3h0M37.3 46.1h0M28.1 31.2h0M85.5 55.0h0M65.2 74.7h0M50.7 18.3h0M34.9 95.5h0M3.0 37.4h0M110.6 34.3h0M30.7 77.9h0M93.9 100.8h0M158.5 41.4h0M87.9 73.1h0M118.2 81.8h0M109.0 32.2h0M119.3 55.4h0M27.4 3.4h0M141.1 73.2h0M26.7 36.1h0M84.9 14.1h0M35.3 17.0h0M15.1 78.6h0M63.7 67.2h0M127.7 45.1h0M72.7 44.2h0M124.1 95.7h0M99.1 45.9h0M59.8 18.2h0M109.5 21.1h0M29.4 88.5h0M68.1 33.3h0M79.0 8.0h0M76.3 12.1h0M38.0 19.7h0M4.6 82.9h0M128.9 74.9h0M37.5 95.9h0M1.5 63.6h0M21.7 94.2h0M27.6 48.6h0M112.2 49.7h0M92.0 14.8h0M52.9 1.3h0M23.3 63.3h0M100.7 44.9h0M32.3 97.5h0M156.6 33.3h0M65.1 43.3h0M129.2 81.1h0M101.4 92.2h0M108.1 39.5h0M175.6 48.8h0M67.4 77.0h0M127.9 88.3h0M123.3 81.1h0M149.9 72.6h0M32.6 98.3h0M42.3 5.6h0M78.2 29.2h0M25.3 5.3h0M154.2 5.1h0M133.9 95.0h0M176.3 68.4h0M36.1 77.2h0M92.8 9.6h0M64.9 10.1h0M13.1 68.8h0M49.8 66.9h0M11.8 94.1h0M123.0 11.2h0M146.2 47.5h0M157.7 43.7h0M103.2 80.9h0M26.7 19.4h0M38.9 38.4h0M4.8 17.5h0M11.3 94.0h0M27.0 45.8h0M81.6 86.5h0M0.5 6.5h0M78.4 37.4h0M109.9 94.5h0M117.5 66.3h0M95.5 7.7h0M141.5 97.1h0M82.5 47.6h0M13.9 36.6h0M102.9 32.9h0M137.3 34.7h0M156.0 95.3h0M53.3 27.0h0M142.1 64.9h0M2.5 53.9h0M112.1 28.9h0M102.6 59.0h0M147.1 47.5h0M69.1 11.9h0M73.3 1.8h0M136.2 20.7h0M72.8 15.9h0M151.2 36.1h0M92.5 97.6h0M10.0 50.3h0M23.0 72.2h0M148.6 94.7h0M79.4 35.8h0M27.0 10.6h0M74.2 45.7h0M43.0 94.4h0M98.6 89.8h0M73.3 32.7h0M157.1 31.2h0M68.3 97.2h0M68.7 1.3h0M130.8 43.3h0M77.0 57.1h0M86.9 15.8h0M38.2 29.0h0M22.2 52.0h0M4.0 84.3h0M158.2 4.3h0M81.6 47.8h0M18.2 27.7h0M24.0 52.5h0M153.4 80.4h0M128.8 89.8h0M174.6 32.4h0M53.3 72.9h0M179.1 58.9h0M22.8 88.7h0M152.4 78.6h0M104.0 24.9h0M39.5 73.1h0M39.4 0.7h0M172.3 9.0h0M178.8 73.4h0M91.1 74.7h0M79.9 71.2h0M36.8 39.7h0M44.1 36.8h0M111.6 27.9h0M53.7 99.6h0M142.7 18.6h0M139.0 89.0h0M21.7 6.5h0M178.4 33.1h0M178.1 25.5h0M58.5 1.8h0M9.0 55.5h0M163.8 83.2h0M153.7 98.2h0M97.8 63.3h0M8.9 32.1h0M142.1 101.4h0M59.5 18.5h0M133.8 42.0h0M152.0 27.1h0M29.4 17.3h0M33.1 8.8h0M149.6 10.4h0M128.6 88.1h0M108.1 86.5h0M167.0 93.4h0M33.6 35.0h0M0.7 29.2h0M176.5 50.5h0M55.8 67.6h0M82.4 44.5h0M11.6 25.1h0M92.9 29.5h0M149.7 88.3h0M17.8 63.7h0M120.7 95.6h0M32.0 8.8h0M92.6 12.7h0M40.7 80.7h0M6.9 11.2h0M77.3 27.3h0M9.1 30.2h0M82.5 97.9h0M145.3 96.6h0M122.6 26.3h0M162.4 48.0h0M8.8 59.2h0M175.8 7.3h0M20.3 24.9h0M143.2 94.6h0M81.2 29.1h0M157.0 76.7h0M145.4 48.3h0M118.2 87.6h0M111.9 16.9h0M6.9 26.2h0M130.6 4.1h0M103.1 70.5h0M76.5 64.0h0M122.1 30.3h0M131.6 86.6h0M96.9 11.6h0M114.7 61.8h0M9.0 52.7h0M41.9 46.6h0M158.4 54.8h0M128.2 53.1h0M154.7 11.1h0M172.2 25.2h0M50.2 79.1h0M8.1 19.2h0M60.5 68.3h0M106.7 29.5h0M139.6 3.2h0M38.9 63.7h0M138.6 35.8h0M123.7 49.8h0M10.3 10.7h0M108.1 44.2h0M53.5 50.7h0M132.9 4.2h0M175.2 29.3h0M121.3 2.5h0M107.1 43.7h0M99.8 54.8h0M58.1 40.9h0M109.4 50.8h0M9.3 82.0h0M119.2 23.5h0M13.7 99.8h0M178.8 84.6h0M14.5 13.5h0M132.7 63.2h0M94.8 32.8h0M45.2 65.7h0M114.3 13.9h0M169.9 62.2h0M45.9 2.6h0M108.1 67.7h0M174.2 45.6h0M80.4 1.7h0M0.2 13.8h0M126.4 21.8h0M11.3 100.2h0M105.0 52.7h0M163.2 82.5h0M126.1 22.3h0M178.4 44.1h0M168.9 50.3h0M131.3 15.5h0M96.8 89.9h0M123.9 78.9h0M111.3 84.7h0M19.4 26.7h0M134.5 46.3h0M65.7 53.7h0M24.7 47.4h0M130.8 64.1h0M52.3 50.0h0M148.4 94.2h0M168.6 31.6h0M140.9 85.7h0M165.3 38.2h0M160.5 80.5h0M140.3 11.7h0M100.3 69.8h0M44.1 91.6h0" stroke="#4a4a4a" stroke-width="1.1" stroke-linecap="round" fill="none"/>
<path d="M81.9 57.7h0M7.6 101.2h0M15.8 34.3h0M38.5 27.8h0M116.2 10.3h0M34.4 76.2h0M6.3 1.8h0M98.8 75.9h0M90.0 63.3h0M118.6 83.2h0M82.1 64.4h0M38.6 92.7h0M74.9 98.6h0M78.5 84.0h0M167.0 22.5h0M126.9 78.5h0M110.6 6.0h0M9.1 101.8h0M96.1 102.8h0M66.8 67.3h0M166.3 96.8h0M57.5 41.2h0M47.1 91.4h0M61.9 56.4h0M71.4 47.6h0M73.6 7.5h0M72.5 72.1h0M151.2 20.3h0M83.8 12.8h0M32.6 101.7h0M95.0 44.5h0M12.4 93.9h0M90.2 96.2h0M31.1 90.6h0M131.4 32.2h0M115.8 9.3h0M88.6 78.4h0M43.7 47.5h0M65.9 34.7h0M47.5 40.5h0M138.6 74.5h0M84.9 63.4h0M65.6 59.3h0M2.5 60.3h0M51.8 75.3h0M169.9 89.1h0M1.9 21.6h0M178.5 10.4h0M33.2 36.8h0M157.0 13.0h0M144.4 52.7h0M139.5 56.6h0M82.7 52.2h0M109.6 100.0h0M117.6 72.2h0M118.7 22.5h0M47.2 11.5h0M123.1 8.8h0M113.1 56.9h0M115.6 2.3h0M21.4 31.9h0M101.3 100.5h0M105.4 92.6h0M124.8 37.5h0M96.8 68.0h0M171.9 11.4h0M118.9 7.4h0M5.4 58.8h0M88.1 57.4h0M60.7 72.3h0M176.7 97.8h0M110.9 63.2h0M15.6 53.5h0M64.5 93.8h0M37.2 90.4h0M168.6 35.2h0M25.7 73.6h0M159.7 74.8h0M138.0 54.3h0M56.0 78.3h0M165.4 24.0h0M105.6 16.2h0M77.1 57.2h0M145.4 100.8h0M172.3 63.8h0M100.5 66.0h0M58.8 74.8h0M179.4 58.7h0M56.3 89.9h0M112.2 15.5h0M159.4 102.1h0M179.3 7.8h0M29.6 48.8h0M152.9 72.2h0M8.8 2.9h0M153.2 62.0h0M142.0 72.0h0M138.6 11.6h0M104.5 91.7h0M151.9 67.6h0M130.8 88.2h0M145.5 40.6h0M109.5 5.2h0M85.1 31.0h0M58.0 74.6h0M25.3 56.3h0M176.0 37.1h0M8.5 16.5h0M28.7 85.1h0M29.8 23.8h0M47.4 83.5h0M108.8 98.8h0M52.9 43.1h0M132.4 6.2h0M78.8 61.4h0M47.7 10.5h0M173.8 97.9h0M9.8 70.2h0M173.7 83.7h0M154.3 79.5h0M109.4 13.8h0M92.4 27.7h0M44.3 16.1h0M9.3 38.0h0M159.5 40.1h0M30.8 74.8h0M78.1 87.0h0M101.1 42.1h0M44.6 63.3h0M79.6 91.3h0M130.2 19.1h0M177.8 51.0h0M1.1 100.7h0M108.5 33.3h0M106.1 77.3h0M26.6 70.0h0M101.6 29.2h0M78.4 84.0h0M4.5 93.5h0M12.4 30.7h0M99.8 61.7h0M122.9 4.8h0M153.0 25.1h0M152.2 94.1h0M13.4 96.4h0M30.1 49.1h0M14.3 67.9h0M31.2 33.0h0M154.6 99.9h0M144.7 54.7h0M54.0 0.9h0M117.2 2.5h0M78.2 29.8h0M13.1 47.0h0M15.6 90.3h0M99.5 55.0h0M20.2 71.0h0M42.0 84.3h0M167.2 9.4h0M53.2 31.6h0M113.4 76.2h0M62.1 50.6h0M111.1 94.2h0M64.3 100.7h0M135.8 8.2h0M91.6 42.3h0M69.0 100.3h0M18.1 38.1h0M5.3 37.1h0M67.9 28.7h0M22.0 97.8h0M117.5 99.3h0M169.5 92.7h0M76.5 59.0h0M126.9 56.6h0M153.2 33.0h0M81.6 49.4h0M117.3 60.9h0M100.3 27.7h0M91.3 65.0h0M37.4 77.6h0M159.4 6.7h0M62.1 13.6h0M5.3 24.3h0M132.2 88.0h0M108.4 29.2h0M120.2 9.8h0M149.1 75.8h0M130.0 0.2h0M110.7 6.2h0M76.1 91.6h0M123.1 12.0h0M145.0 55.6h0M168.9 64.7h0M7.4 49.9h0M128.7 91.7h0M31.8 37.2h0M104.0 19.4h0M123.5 36.2h0M46.8 102.6h0M102.2 99.2h0M126.2 25.3h0M86.1 18.2h0M122.2 3.0h0M65.2 1.3h0M79.4 60.8h0M127.9 66.8h0M33.4 67.9h0M151.6 13.9h0M20.0 7.1h0M9.9 66.7h0M147.1 76.7h0M85.6 97.4h0M40.8 95.4h0M161.7 36.1h0M119.6 1.2h0M55.1 48.6h0M118.7 76.5h0M102.1 26.0h0M29.4 72.5h0M12.4 57.9h0M52.5 75.0h0M39.3 24.8h0M105.1 82.1h0M119.4 25.5h0M161.5 0.3h0M31.2 83.5h0M103.8 68.6h0M102.5 35.3h0M134.5 51.6h0M69.3 101.3h0M165.1 83.8h0M74.7 71.7h0M117.5 101.3h0M88.1 79.5h0M138.1 66.6h0M115.3 71.3h0M178.5 53.3h0M27.6 26.3h0M154.2 32.0h0M148.3 19.1h0M4.3 20.9h0M175.6 35.5h0M13.8 38.2h0M109.9 26.3h0M163.8 68.9h0M38.3 52.9h0M7.6 36.4h0M41.6 78.0h0M14.3 37.7h0M93.1 94.4h0M1.7 60.8h0M48.5 52.8h0M29.9 36.1h0M137.3 42.7h0M64.0 6.2h0M26.2 82.9h0M6.8 100.4h0M151.0 42.3h0M173.0 31.3h0M93.8 21.2h0M127.6 36.0h0M14.2 3.1h0M62.5 39.5h0M77.5 15.5h0M37.5 72.5h0M142.4 88.4h0M180.8 6.3h0M143.7 100.7h0M150.5 95.5h0M165.7 69.7h0M99.3 85.4h0M138.1 61.7h0M131.2 95.7h0M19.9 67.8h0M96.1 26.1h0M13.5 43.3h0M51.5 64.0h0M112.6 61.9h0M23.3 44.4h0M124.0 102.4h0M9.0 14.9h0M39.2 66.8h0M172.6 2.4h0M102.5 30.5h0M175.2 22.1h0M52.2 43.8h0M88.3 74.4h0M99.3 77.3h0M83.5 19.7h0M71.7 4.4h0M140.2 13.5h0M34.1 82.5h0M154.8 60.6h0M68.8 98.8h0M102.9 0.9h0M170.7 102.6h0M20.2 55.3h0M30.7 82.0h0M44.6 90.3h0M42.3 49.0h0M112.1 55.1h0M61.7 81.8h0M93.0 20.2h0M80.4 82.1h0M7.0 46.6h0M116.1 7.6h0M86.0 95.5h0M60.7 98.7h0M19.6 66.3h0M155.4 93.4h0M164.2 24.8h0M76.1 76.2h0M2.1 77.6h0M111.2 25.3h0M118.5 19.0h0M137.7 29.4h0" stroke="#202020" stroke-width="1.6" stroke-linecap="round" fill="none"/>
</pattern>
<pattern id="dp2" width="157" height="113" patternUnits="userSpaceOnUse">
<path d="M22.4 1.2h0M22.8 49.7h0M11.7 77.6h0M63.5 95.2h0M17.7 47.8h0M49.1 70.2h0M109.4 5.8h0M128.1 45.3h0M93.6 53.9h0M153.3 75.0h0M17.9 26.6h0M4.4 93.0h0M81.5 25.1h0M61.0 87.2h0M5.8 31.2h0M100.0 5.9h0M32.8 31.9h0M26.3 104.4h0M53.7 27.3h0M156.8 56.9h0M74.9 70.9h0M148.6 101.1h0M45.7 98.7h0M110.6 24.2h0M20.7 100.2h0M151.0 85.9h0M91.1 39.3h0M115.5 63.7h0M123.9 42.9h0M61.9 27.8h0M50.8 77.4h0M53.6 26.9h0M148.2 0.9h0M43.9 22.8h0M109.6 18.3h0M95.2 95.2h0M55.0 82.7h0M78.5 40.8h0M64.8 69.8h0M63.9 42.9h0M62.7 91.2h0M137.1 92.8h0M115.3 34.5h0M135.8 94.1h0M138.1 2.8h0M2.0 19.3h0M112.4 33.5h0M150.1 77.1h0M131.7 14.6h0M17.0 9.5h0M1.3 28.2h0M66.5 61.4h0M146.5 40.9h0M155.4 54.8h0M98.0 60.6h0M117.0 28.5h0M90.6 42.8h0M55.7 112.7h0M78.9 52.0h0M62.8 23.2h0M11.6 75.9h0M105.8 19.4h0M44.4 95.1h0M72.0 105.9h0M96.7 80.7h0M66.1 35.5h0M65.0 5.9h0M18.3 34.7h0M19.1 94.0h0M17.0 69.8h0M56.4 45.2h0M85.4 95.7h0M57.0 32.4h0M22.1 68.1h0M151.7 60.2h0M44.8 85.4h0M49.5 105.9h0M110.9 23.1h0M150.7 7.4h0M156.8 88.1h0M143.1 35.8h0M75.4 23.0h0M10.6 10.6h0M106.4 66.7h0M74.0 50.6h0M31.7 46.5h0M107.4 58.4h0M22.6 61.2h0M50.9 66.3h0M139.7 18.0h0M77.8 102.7h0M43.2 62.0h0M135.0 29.5h0M137.9 75.7h0M6.5 94.0h0M1.3 83.0h0M46.9 23.5h0M13.8 19.9h0M124.7 103.5h0M52.5 108.5h0M41.3 81.5h0M116.6 99.3h0M143.5 112.8h0M40.3 86.8h0M0.6 9.6h0M135.5 103.5h0M14.5 100.4h0M129.7 35.3h0M49.5 44.3h0M112.0 19.7h0M155.3 0.7h0M55.8 35.0h0M17.0 47.9h0M115.9 25.6h0M97.8 10.3h0M117.8 39.8h0M67.1 21.0h0M69.8 12.8h0M26.0 47.7h0M11.4 97.2h0M51.8 81.4h0M11.4 16.6h0M138.4 48.3h0M93.8 46.5h0M28.0 77.1h0M145.1 111.2h0M9.8 101.8h0M60.3 70.3h0M70.2 90.2h0M32.6 55.2h0M98.3 61.1h0M59.0 13.8h0M8.9 25.0h0M52.0 0.1h0M80.8 73.1h0M74.8 77.8h0M28.0 92.1h0M16.4 51.4h0M106.7 13.2h0M21.3 94.1h0M22.2 78.1h0M101.4 36.6h0M140.7 80.9h0M140.4 29.9h0M135.9 29.0h0M31.1 83.8h0M126.8 83.5h0M128.6 92.3h0M51.0 52.2h0M82.1 52.5h0M101.6 50.4h0M122.9 41.4h0M152.0 70.0h0M14.2 64.8h0M141.1 81.0h0M63.9 9.8h0M87.7 99.7h0M151.1 28.9h0M131.8 42.7h0M69.8 69.1h0M21.0 56.0h0M100.2 25.5h0M35.6 63.1h0M122.9 107.9h0M119.5 102.1h0M32.5 1.0h0M3.6 111.9h0M53.2 57.4h0M103.9 3.4h0M102.3 51.6h0M1.9 63.2h0M15.1 57.4h0M125.7 56.7h0M116.4 100.1h0M103.9 63.4h0M43.3 39.2h0M124.6 7.2h0M155.9 110.7h0M116.8 37.4h0M70.9 96.4h0M141.4 84.3h0M17.3 8.3h0M35.6 89.4h0M7.5 91.7h0M34.4 27.5h0M112.0 89.0h0M80.7 28.6h0M77.1 88.5h0M36.5 110.4h0M50.4 38.5h0M135.4 50.3h0M156.7 78.7h0M101.3 12.4h0M52.5 92.1h0M97.6 22.6h0M130.4 34.8h0M27.0 43.9h0M20.4 16.3h0M116.5 50.3h0M104.0 0.1h0M48.7 30.6h0M48.1 57.9h0M1.4 11.1h0M147.2 59.4h0M115.2 105.2h0M8.1 91.2h0M19.9 5.5h0M52.3 2.5h0M64.2 29.1h0M101.5 31.4h0M113.5 83.5h0M108.8 42.4h0M142.5 30.0h0M48.3 12.7h0M82.4 83.5h0M142.1 80.8h0M98.9 76.9h0M59.1 100.5h0M95.9 5.3h0M90.7 54.7h0M87.5 14.6h0M88.6 72.4h0M61.6 12.9h0M155.9 75.7h0M82.4 17.6h0M110.0 81.7h0M91.0 1.0h0M97.3 0.8h0M55.4 98.3h0M32.2 76.8h0M97.1 20.5h0M45.0 94.2h0M104.5 4.7h0M38.8 105.9h0M104.6 81.6h0M44.1 49.3h0M62.2 62.7h0M40.1 62.5h0M34.4 73.1h0M5.7 27.3h0M12.4 106.9h0M144.2 6.3h0M147.9 71.7h0M34.7 7.2h0M135.5 97.7h0M34.7 97.5h0M63.6 100.3h0M55.5 22.5h0M114.6 102.2h0M117.0 77.8h0M15.6 40.7h0M88.1 59.5h0M147.0 103.4h0M42.8 108.2h0M111.7 54.7h0M99.2 91.0h0M100.9 47.4h0M130.0 44.7h0M28.5 92.5h0M22.5 63.6h0M121.7 100.0h0M40.8 94.0h0M18.0 57.0h0M99.5 45.7h0M118.0 100.7h0M33.4 56.5h0M151.0 49.3h0M31.4 24.6h0M95.5 99.4h0M65.3 92.1h0M15.7 26.4h0M134.3 28.7h0M149.3 37.8h0M122.2 36.1h0M151.6 37.3h0M152.4 94.6h0M144.9 111.8h0M45.1 111.2h0M156.0 47.7h0M155.5 64.5h0M87.8 14.7h0M137.9 85.3h0M146.8 24.8h0M9.0 55.2h0M104.2 109.6h0M56.5 44.1h0M113.6 54.9h0M43.8 42.9h0M0.6 77.7h0M78.4 91.4h0M132.0 10.1h0M145.3 87.1h0M95.0 71.6h0M113.1 73.1h0M141.0 41.5h0M123.9 25.8h0M133.4 51.1h0M88.7 8.0h0M18.9 20.0h0M26.9 103.9h0M138.9 62.2h0M113.8 29.4h0M84.5 50.4h0M122.8 75.5h0M4.9 82.3h0M16.1 42.5h0M105.4 29.2h0M21.4 42.4h0M79.1 98.8h0M10.0 94.6h0M83.8 58.0h0M10.3 40.3h0M85.0 14.8h0M112.9 58.9h0M95.6 38.1h0M98.4 101.4h0M28.9 10.5h0M154.4 64.3h0M64.2 20.1h0M45.4 33.5h0M45.7 80.4h0M8.1 74.3h0M135.6 27.0h0M33.2 75.1h0M53.5 32.7h0M20.2 38.9h0M31.8 99.2h0M61.0 12.5h0M94.3 17.9h0M88.2 25.7h0M17.0 12.7h0M143.1 101.4h0M83.1 6.1h0M128.8 50.6h0M4.4 23.9h0M71.1 16.4h0M6.5 80.2h0M70.5 82.9h0M103.9 30.5h0M35.5 23.8h0M70.3 43.4h0M94.0 50.5h0M13.4 71.3h0M98.6 12.6h0M49.9 96.7h0M139.0 36.2h0M28.2 105.9h0M128.9 100.4h0M58.0 68.2h0M36.8 69.2h0M14.5 108.3h0M47.6 8.6h0M100.3 36.2h0M46.0 75.6h0M25.7 2.8h0M146.5 82.7h0M67.7 98.6h0M42.1 105.4h0M51.4 91.0h0M116.9 104.9h0M108.0 93.5h0M99.3 34.0h0M12.4 61.8h0M66.8 72.9h0M108.8 23.3h0M1.2 73.2h0M143.9 50.9h0M82.8 55.3h0M62.8 30.9h0M76.2 23.0h0M68.2 45.7h0M144.9 101.0h0M112.1 111.4h0M79.9 99.0h0M8.8 59.0h0M10.2 34.5h0M130.4 18.7h0M16.4 24.5h0M99.3 55.7h0M5.0 85.0h0M139.7 29.6h0M98.2 50.7h0M156.6 91.4h0M104.0 83.5h0M17.6 61.2h0M67.8 74.3h0M112.0 19.7h0M111.0 103.5h0M59.1 37.7h0M97.6 77.1h0M17.2 83.3h0M40.0 83.9h0M17.3 69.7h0M6.7 46.4h0M68.4 34.6h0M43.4 106.8h0M64.9 45.5h0M108.2 32.8h0M52.0 58.3h0M122.5 82.6h0M149.2 62.5h0M96.7 85.7h0M107.2 42.8h0M146.2 51.4h0M53.2 1.5h0M129.1 108.8h0M154.9 36.2h0M86.7 28.9h0M51.3 70.4h0M134.7 42.2h0M53.1 7.7h0M96.9 2.9h0M39.7 88.8h0M37.5 111.7h0M51.1 34.7h0M72.3 73.4h0M68.3 111.3h0M56.7 32.8h0M74.1 4.5h0M124.9 72.6h0M126.0 98.1h0M88.2 98.2h0M143.3 95.8h0M1.5 103.1h0M88.5 59.8h0M79.8 81.6h0M125.0 70.0h0M47.4 61.4h0M93.6 40.9h0M147.5 42.2h0M136.2 5.2h0M133.6 90.1h0M96.0 94.4h0M105.2 9.6h0M152.8 63.0h0M13.3 42.1h0M152.8 34.4h0M12.4 49.2h0M129.3 45.7h0M88.2 23.1h0M95.3 22.8h0M133.3 49.4h0M34.1 29.6h0M137.4 10.3h0M4.9 33.1h0M143.1 49.9h0M51.9 71.3h0M41.5 41.3h0M134.0 25.3h0M40.8 92.8h0M106.1 22.5h0M18.4 109.2h0M149.3 104.2h0M41.5 79.6h0M32.6 97.2h0M140.5 44.9h0M34.2 62.2h0M45.5 68.6h0M88.1 58.0h0M144.9 88.1h0M34.2 19.1h0M37.4 64.6h0M68.5 105.4h0M59.8 48.0h0M151.1 27.2h0M138.1 84.6h0M119.9 78.8h0M3.8 92.0h0M3.2 98.2h0M147.2 58.3h0M38.3 31.0h0M125.8 111.7h0M140.1 40.5h0M16.1 40.8h0M25.1 70.6h0M110.5 86.0h0M38.4 73.2h0M149.5 111.2h0M21.7 15.1h0M133.2 54.0h0M78.8 104.7h0M16.2 30.9h0M2.9 18.3h0M102.7 82.3h0M85.9 92.9h0M29.7 96.2h0M44.8 43.5h0M88.3 47.4h0M29.0 83.5h0M52.0 71.0h0M118.9 56.0h0M30.1 7.4h0M134.5 49.4h0M80.0 0.0h0M84.5 103.1h0M43.1 105.8h0M22.3 99.5h0M101.4 84.2h0M17.5 42.9h0M89.9 11.2h0M79.4 97.6h0M9.3 57.3h0M147.1 83.1h0M136.9 47.8h0M36.2 78.2h0M37.6 55.4h0M29.3 28.1h0M20.7 31.0h0M85.9 43.9h0M108.6 57.2h0M11.7 47.4h0M112.7 72.9h0M60.5 108.9h0M156.9 21.4h0M111.9 38.6h0M62.7 106.0h0M48.7 4.7h0M4.5 40.4h0M32.0 14.5h0M15.9 80.6h0M92.4 85.4h0M1.3 45.9h0M32.1 55.4h0M132.1 93.3h0M24.0 66.9h0M65.4 41.7h0M93.5 3.9h0M16.1 72.8h0M142.8 88.5h0M60.7 81.1h0M126.4 95.4h0M4.2 58.6h0M155.9 106.7h0M143.3 2.6h0M117.1 42.0h0M6.0 94.9h0M43.6 21.3h0M60.7 34.7h0M79.8 34.9h0M53.7 5.4h0M128.8 85.5h0M3.5 40.0h0M143.5 55.7h0M62.3 20.0h0M0.1 19.5h0M102.1 91.9h0M99.6 109.1h0M113.6 32.9h0M59.6 97.3h0M49.8 10.1h0M64.7 49.6h0M113.6 9.4h0M49.3 39.1h0M136.6 92.8h0M82.1 8.1h0M143.8 17.1h0M2.0 97.4h0M108.8 58.7h0M44.0 50.5h0M70.6 49.1h0M108.5 13.9h0M146.3 103.8h0M156.1 58.1h0M103.4 18.0h0M25.4 44.9h0M147.8 61.6h0M154.0 89.0h0M113.6 32.5h0M75.6 26.9h0M6.1 2.0h0M120.1 35.4h0M69.6 10.2h0M11.9 45.5h0M132.5 60.8h0M32.8 80.4h0M62.2 53.6h0M36.1 54.7h0M50.5 64.0h0M122.7 87.2h0M20.5 15.8h0M143.1 92.9h0M119.0 98.4h0M151.4 10.1h0M127.2 40.7h0M59.5 21.2h0M57.9 103.0h0M145.4 84.3h0M88.1 0.5h0M21.6 6.4h0M55.1 27.5h0M129.1 23.5h0M48.8 3.0h0M47.2 68.1h0M66.0 66.4h0M25.5 38.1h0M87.3 69.6h0M81.1 98.3h0M61.4 54.3h0M133.9 68.3h0M80.6 75.8h0M20.1 111.6h0M11.4 81.5h0M106.7 20.1h0M15.9 1.7h0M154.4 51.5h0M121.7 72.3h0M6.4 46.9h0M151.1 69.6h0M41.6 42.2h0M98.3 81.1h0M126.6 61.8h0M45.7 108.8h0M146.7 35.6h0M75.8 104.8h0M42.9 103.5h0M106.1 93.9h0M6.7 109.7h0M51.9 88.1h0M126.2 79.5h0M82.3 102.4h0M144.9 49.0h0M40.3 18.5h0M13.0 66.8h0M0.7 22.6h0M47.3 62.5h0M26.6 30.0h0M37.6 36.0h0M152.4 50.7h0M102.5 5.8h0M6.3 85.9h0M1.2 22.2h0M91.7 1.3h0M50.0 71.9h0M84.2 48.4h0M57.4 73.9h0M123.2 26.0h0M115.5 9.0h0M148.2 9.7h0M110.1 25.3h0M16.3 107.5h0M153.0 40.2h0M80.3 22.0h0M95.6 45.8h0M32.4 30.8h0M134.5 0.6h0M32.5 62.4h0M40.9 46.0h0M139.2 95.1h0M17.3 11.5h0M119.6 69.9h0M65.1 110.7h0M126.0 51.3h0M140.9 55.1h0M107.5 44.0h0M120.5 30.4h0M131.6 13.0h0M156.0 34.1h0M154.2 106.4h0M36.9 101.6h0M52.1 15.9h0M154.6 83.3h0M56.5 93.6h0M51.3 86.2h0M55.5 23.3h0M52.8 97.8h0M145.9 50.9h0M156.4 35.4h0M3.3 111.6h0M145.3 73.5h0M47.0 46.4h0M96.9 37.9h0M68.2 36.6h0M2.6 101.7h0M5.7 67.7h0M22.9 111.2h0M3.0 87.0h0M23.9 70.8h0M10.2 25.4h0M21.5 110.1h0M32.1 101.9h0M95.8 9.9h0M112.8 88.1h0M15.0 7.2h0M47.9 32.6h0M23.2 36.6h0M63.2 52.7h0M22.0 28.8h0M132.3 56.7h0M6.8 0.5h0M19.2 16.0h0M155.2 71.7h0M54.4 105.9h0M81.1 87.4h0M20.1 70.2h0M53.2 87.2h0M55.9 32.8h0M25.9 58.0h0M114.6 101.7h0M60.4 38.4h0M81.3 32.8h0M104.3 20.6h0M68.4 56.8h0M87.9 9.0h0M144.0 93.7h0M29.1 77.7h0M77.3 42.1h0M137.1 108.9h0M41.8 40.0h0M22.6 100.8h0M152.9 83.4h0M49.4 77.9h0M103.8 20.2h0M13.0 32.2h0M60.3 34.4h0M40.3 55.4h0M56.3 44.4h0M117.7 58.7h0M104.5 67.8h0M58.3 4.5h0M156.7 30.8h0M62.7 57.7h0M40.8 103.7h0M29.3 66.9h0M68.7 24.0h0M20.5 96.8h0M91.4 65.2h0M47.0 80.6h0M134.4 108.5h0M136.8 65.3h0M56.8 33.5h0M111.0 58.4h0M44.4 57.5h0M126.6 34.9h0M67.4 64.0h0M19.0 9.1h0M79.5 83.1h0M8.6 55.7h0M1.2 69.5h0M6.3 64.3h0M20.1 23.6h0M119.0 5.7h0M118.9 104.6h0M123.8 37.1h0M47.3 37.7h0M78.8 55.8h0M146.1 45.0h0M65.9 32.2h0M14.0 15.9h0M109.1 26.5h0M17.6 47.7h0M125.2 88.0h0M54.1 87.2h0M8.8 67.8h0M43.0 41.3h0M16.1 93.1h0M65.6 99.4h0M58.9 82.9h0M127.2 72.1h0M52.1 72.9h0M62.1 65.9h0M75.4 23.9h0M38.7 93.3h0M79.3 66.0h0M38.8 63.2h0M5.7 58.3h0M100.3 102.1h0M152.2 41.5h0M123.9 106.6h0M35.3 89.5h0M151.8 13.5h0M75.5 76.3h0M89.2 23.0h0M111.4 55.8h0M89.7 60.7h0M52.0 72.1h0M147.6 34.7h0M73.8 5.6h0M139.5 47.0h0M50.8 106.8h0M86.8 24.1h0M114.7 85.5h0M83.7 29.5h0M55.2 59.6h0M72.4 8.1h0M112.4 110.0h0M66.2 108.1h0M95.8 10.1h0M98.1 70.5h0M96.8 64.8h0M15.5 56.7h0M122.7 86.9h0M89.7 85.9h0M111.3 25.3h0M112.4 103.1h0M13.1 97.6h0M18.0 7.1h0M144.5 81.9h0M129.9 30.4h0M78.4 73.0h0M143.9 59.9h0M100.0 69.7h0M151.5 55.5h0M80.3 76.7h0M80.7 16.6h0M97.2 7.4h0M132.5 103.8h0M16.1 48.8h0M91.0 77.9h0M42.1 32.5h0M72.6 53.4h0M42.9 22.8h0M37.3 59.4h0M16.6 27.6h0M62.5 62.7h0M21.3 88.1h0M135.1 84.7h0M105.4 73.0h0M116.6 40.9h0M88.4 112.4h0M26.0 30.1h0M20.4 93.2h0M58.6 3.6h0M51.3 21.3h0M134.0 27.3h0M61.4 104.4h0M28.0 60.5h0M155.7 94.1h0M65.6 75.4h0M125.6 62.4h0M42.1 9.6h0M104.4 29.8h0M121.5 57.7h0M47.2 14.8h0M97.7 111.8h0M22.5 18.9h0M87.2 103.3h0M95.4 63.8h0M150.5 48.7h0M41.3 65.4h0M117.7 3.0h0M114.4 99.5h0M30.6 20.7h0M117.9 94.4h0M89.0 82.0h0M155.5 54.9h0M113.5 33.4h0M90.7 64.9h0M109.3 24.3h0M87.1 75.9h0M73.6 40.9h0M53.7 14.8h0M139.0 96.4h0M138.2 20.8h0M104.4 19.9h0M83.8 70.6h0M101.6 24.9h0M32.8 104.2h0M23.4 12.4h0M84.7 56.7h0M40.7 70.5h0M55.8 52.0h0M2.4 71.3h0M92.3 43.7h0M47.4 19.2h0M54.3 27.5h0M103.4 80.1h0M147.7 90.1h0M125.9 111.4h0M129.9 101.4h0M36.6 24.0h0M88.8 48.0h0M42.6 67.3h0M155.5 51.8h0M23.9 39.4h0M111.9 87.5h0M0.1 56.8h0M147.9 67.2h0M61.7 94.1h0M31.0 105.1h0M6.5 23.5h0M18.2 86.2h0M76.2 88.7h0M72.1 89.0h0M128.9 45.1h0M60.5 18.8h0M117.6 90.4h0M37.5 24.3h0M2.9 66.7h0M120.4 40.5h0M34.9 21.5h0M138.9 60.9h0M11.7 85.9h0M50.0 36.0h0M54.9 32.8h0M111.9 84.7h0M75.3 9.1h0M40.9 112.0h0M73.6 20.3h0M27.0 112.2h0M22.3 75.5h0M87.6 24.3h0M48.4 0.8h0M64.9 52.9h0M142.5 8.4h0M107.7 103.0h0M114.7 11.8h0M55.6 84.0h0M111.6 65.1h0M69.5 62.9h0M98.2 4.3h0M60.3 43.8h0M107.9 59.5h0M82.1 40.9h0M32.9 93.6h0M80.8 77.3h0M55.6 34.6h0M24.2 102.9h0M55.9 6.4h0M84.8 88.9h0M96.7 55.4h0M7.1 21.3h0M94.4 62.9h0M92.3 14.4h0M101.7 18.6h0M39.1 101.1h0M5.8 22.2h0M59.3 98.6h0M90.7 33.9h0M53.2 51.0h0M92.5 53.4h0M151.3 70.2h0M137.1 84.2h0M50.2 103.3h0M26.5 2.0h0M121.5 54.8h0M11.9 21.8h0M127.9 2.3h0M81.5 86.3h0M110.4 27.5h0M100.2 16.3h0M86.8 112.0h0M140.4 107.1h0M47.4 100.0h0M156.8 44.1h0M70.6 91.2h0M102.3 8.9h0M39.0 86.8h0M17.7 40.2h0M18.9 65.6h0M7.4 65.1h0M139.0 103.3h0M63.1 25.6h0M79.0 10.6h0M107.7 91.3h0M155.4 100.3h0M51.4 65.7h0M17.2 65.8h0M16.0 96.7h0M37.8 72.2h0M23.5 99.3h0M40.7 4.8h0M81.8 53.9h0M83.6 100.3h0M15.2 99.6h0M13.4 48.9h0M135.1 4.6h0M107.9 68.2h0M68.8 112.1h0M73.3 6.5h0M86.4 106.3h0M81.3 77.8h0M126.7 35.3h0M26.3 7.0h0M130.5 38.0h0M58.2 62.7h0M74.2 49.3h0M0.8 1.4h0M114.5 69.7h0M23.5 42.4h0M129.3 54.5h0M89.9 50.3h0M23.9 78.0h0M140.3 64.3h0M71.1 109.8h0M28.3 43.0h0M66.9 99.2h0M103.8 1.8h0M95.5 57.4h0M141.5 17.7h0M141.4 86.7h0M3.5 2.2h0M133.6 89.0h0M18.3 2.1h0M124.4 31.3h0M111.6 110.4h0M76.9 87.8h0M21.3 88.4h0M14.8 35.6h0M148.3 106.3h0M7.6 107.6h0M20.2 110.0h0M4.9 87.0h0M91.0 7.5h0M18.6 75.1h0M11.3 37.9h0M63.5 98.3h0M27.3 111.6h0M91.0 33.0h0M137.1 48.6h0M152.6 104.0h0M35.2 23.2h0M87.7 51.2h0M133.6 6.6h0M49.8 71.2h0M147.6 86.1h0M22.3 108.8h0M153.4 39.4h0M53.9 37.7h0M12.6 52.6h0M150.5 102.8h0M92.8 70.5h0M73.3 35.2h0M112.8 79.4h0M69.0 90.1h0M26.9 103.8h0M99.0 12.5h0M113.8 85.6h0M101.8 4.9h0M143.9 21.5h0M37.9 69.4h0M122.3 46.3h0M108.9 104.5h0M4.7 15.3h0M90.0 78.1h0M29.1 84.4h0M64.3 60.0h0M83.2 65.0h0M153.6 71.5h0M44.6 27.3h0M146.6 28.1h0M150.2 64.7h0M127.4 41.8h0M49.8 13.1h0M31.6 91.5h0M107.4 30.8h0M124.1 20.9h0M148.2 37.5h0M111.2 15.5h0M105.3 67.8h0M88.6 81.3h0M64.3 42.1h0M25.0 18.3h0M41.4 18.6h0M23.5 6.7h0M14.6 32.7h0M123.1 111.7h0M62.1 92.3h0M60.9 64.4h0M82.9 88.6h0M64.4 40.0h0M88.8 37.1h0M100.7 72.3h0M2.7 65.4h0M7.0 24.1h0M80.4 110.7h0M12.0 33.3h0M47.3 18.4h0M11.0 37.0h0M53.4 12.0h0M110.7 78.7h0M57.2 6.8h0M127.4 93.8h0M100.3 41.9h0M143.2 54.7h0M38.4 50.7h0M149.7 54.9h0M25.2 20.7h0M83.3 112.8h0M26.9 33.5h0M10.6 32.3h0M42.7 17.9h0M65.4 99.9h0M146.6 49.9h0M119.3 48.9h0M5.0 61.3h0M30.4 10.3h0M78.1 89.6h0M156.7 89.6h0M9.8 101.9h0M38.0 87.5h0M117.4 110.8h0M146.5 9.0h0M36.2 105.7h0M58.0 83.4h0M13.1 4.1h0M24.6 68.1h0M73.9 100.3h0M137.7 20.3h0M71.7 100.7h0M132.8 81.6h0M69.7 64.7h0M40.9 86.8h0M94.1 48.7h0M106.9 20.9h0M149.6 93.4h0M60.9 92.1h0M138.6 20.3h0M67.7 43.5h0M19.8 107.6h0M116.0 39.2h0M71.5 81.1h0M0.6 29.2h0M47.4 23.9h0M33.8 106.7h0M112.4 44.2h0M5.4 5.7h0M81.2 103.5h0M4.9 94.5h0M132.0 111.4h0M43.4 0.8h0M75.4 38.3h0M63.6 36.8h0M94.2 1.5h0M96.1 73.2h0M30.2 30.9h0M3.3 111.8h0M62.9 71.1h0M14.3 27.3h0M60.9 105.7h0M49.3 17.8h0M9.7 23.3h0M116.5 93.0h0M22.5 109.3h0M88.7 18.9h0M144.9 56.7h0M31.7 25.1h0M111.0 82.6h0M26.4 28.8h0M88.9 42.8h0M143.8 61.4h0M86.9 55.1h0M141.3 10.8h0M99.1 34.8h0M19.4 41.3h0M63.7 111.6h0M101.4 64.7h0M84.5 23.5h0M117.4 99.0h0M133.8 69.3h0M1.7 0.5h0M107.3 68.7h0M11.8 33.2h0M96.3 104.0h0M28.4 69.6h0M63.1 8.0h0M18.9 83.0h0M48.9 80.0h0M1.1 42.1h0M91.3 8.0h0M57.9 10.1h0M155.3 11.6h0M123.6 66.2h0M45.8 99.2h0M86.3 89.2h0M72.3 41.4h0M116.5 109.8h0M137.0 12.6h0M40.7 46.2h0M94.9 53.2h0M15.2 34.1h0M133.8 42.8h0M124.8 59.3h0M55.5 45.4h0M107.7 103.9h0M44.9 92.0h0M57.6 34.4h0M50.9 79.0h0M114.1 6.9h0M141.4 109.3h0M66.5 6.7h0M13.8 106.4h0M69.6 106.4h0M98.3 48.1h0M74.3 29.6h0M8.1 7.0h0M61.1 71.3h0M33.9 58.3h0M106.9 37.3h0M137.1 5.8h0M41.8 64.4h0M69.2 21.3h0M7.0 32.4h0M94.6 93.3h0M11.8 97.6h0M56.9 91.5h0M81.1 20.4h0M141.2 70.3h0M145.1 6.5h0M98.8 37.4h0M33.4 76.1h0M69.8 75.0h0M134.1 100.8h0M105.2 83.6h0M81.1 112.5h0M81.4 4.2h0M61.2 50.3h0M29.9 11.6h0M14.6 2.7h0M107.4 64.3h0M121.8 71.5h0M96.6 109.0h0M82.0 96.4h0M44.5 45.4h0M135.3 87.4h0M103.2 89.1h0M49.7 47.4h0M123.7 42.8h0M137.4 33.4h0M67.5 74.8h0M85.5 99.4h0M106.6 72.9h0M72.7 17.2h0M47.3 112.7h0M154.7 91.0h0M11.7 90.3h0M154.6 111.5h0M31.4 52.9h0M81.2 75.6h0M35.2 45.1h0M34.8 14.6h0M88.3 26.8h0M17.5 45.6h0M11.7 60.7h0M145.2 83.5h0M50.0 13.1h0M23.8 98.7h0M62.5 40.1h0M49.8 24.4h0M147.1 90.9h0M99.4 47.9h0M88.3 75.2h0M92.0 109.6h0M32.3 91.6h0M25.7 75.5h0M71.2 10.0h0M30.5 36.9h0M113.6 57.2h0M75.2 69.4h0M121.9 9.3h0M48.9 91.8h0M14.3 56.3h0M144.0 63.9h0M134.5 37.0h0M32.9 54.7h0M49.9 48.2h0M135.7 29.7h0M100.7 18.5h0M65.4 90.5h0M99.7 64.7h0M89.7 105.1h0M13.1 111.6h0M10.4 10.3h0M30.9 10.6h0M88.7 52.5h0M28.1 60.4h0M135.2 43.3h0M84.9 110.8h0M22.9 10.0h0M97.1 92.2h0M63.6 112.5h0M43.8 34.2h0M134.8 9.7h0M61.5 11.3h0M31.7 104.0h0M143.8 18.8h0M152.0 0.9h0M94.5 45.6h0M85.8 17.5h0M102.1 5.2h0M139.3 101.2h0M103.3 111.4h0M44.0 85.4h0M88.3 107.7h0M141.6 12.0h0M150.4 46.4h0M33.2 10.0h0M154.5 61.1h0M14.4 18.3h0M150.1 24.9h0M65.7 74.8h0M64.3 44.0h0M117.8 82.5h0M56.3 76.7h0M138.9 19.4h0M59.0 28.4h0M52.6 40.7h0M132.3 33.8h0M148.1 80.0h0M118.4 24.0h0M18.4 2.4h0M72.9 33.7h0M17.9 53.1h0M125.0 48.8h0M104.3 47.1h0M154.4 53.5h0M47.1 25.9h0M90.8 88.2h0M32.1 108.3h0M106.2 80.7h0M52.1 43.4h0M85.5 92.2h0M128.6 66.6h0M28.1 61.0h0M132.0 107.4h0M13.5 18.8h0M61.3 109.4h0M10.3 95.3h0M151.0 83.8h0M35.9 0.0h0M96.0 34.0h0M97.5 31.0h0M101.8 99.0h0M60.3 20.2h0M104.5 29.7h0M156.2 90.3h0M46.6 39.7h0M108.7 72.6h0M66.2 18.5h0M37.3 92.3h0M100.6 72.0h0M19.3 108.8h0M118.6 28.1h0M1.1 8.1h0M14.7 22.0h0M48.4 78.6h0M64.9 13.4h0M124.3 108.3h0M16.6 25.6h0M34.6 49.8h0M128.2 79.9h0M111.0 94.7h0M63.0 103.9h0M88.8 57.3h0M143.4 80.3h0M42.6 19.5h0M139.1 89.6h0M148.0 63.4h0M136.3 51.1h0M75.5 104.3h0M93.8 96.2h0M27.7 107.4h0M105.6 91.4h0M26.8 48.0h0M36.7 77.0h0M28.1 8.5h0M36.6 110.5h0M11.6 36.0h0M78.2 36.1h0M113.1 27.8h0M77.5 9.1h0M80.4 105.4h0M137.1 90.2h0M81.3 70.7h0M12.8 50.1h0M121.4 106.8h0M87.2 71.8h0M86.2 68.1h0M64.8 101.7h0M26.0 13.8h0M151.9 15.8h0M31.5 62.3h0M39.7 43.3h0M47.6 40.5h0M72.8 41.8h0M124.4 58.9h0M2.4 38.5h0M137.2 60.0h0M40.0 80.4h0M96.9 83.4h0M0.9 73.4h0M11.4 33.7h0M54.2 80.0h0" stroke="#848484" stroke-width="0.85" stroke-linecap="round" fill="none"/>
<path d="M74.5 74.3h0M43.0 91.6h0M94.4 63.1h0M142.2 6.6h0M9.5 103.4h0M57.0 78.0h0M80.3 91.5h0M86.3 20.1h0M1.0 30.3h0M50.6 89.0h0M100.4 25.9h0M148.2 58.2h0M40.0 77.2h0M92.4 101.8h0M111.5 102.1h0M140.9 102.9h0M108.2 61.2h0M19.6 60.4h0M14.2 35.3h0M57.4 3.4h0M69.7 20.3h0M34.6 103.8h0M72.2 96.6h0M35.7 60.8h0M62.1 76.1h0M152.7 62.6h0M21.3 25.5h0M39.5 5.2h0M44.8 105.8h0M61.1 98.7h0M50.4 14.2h0M132.3 68.8h0M82.1 6.0h0M28.9 35.3h0M95.3 11.6h0M84.2 50.7h0M102.3 90.5h0M99.8 52.8h0M61.0 46.9h0M77.2 96.7h0M63.7 68.7h0M74.6 23.3h0M38.0 9.9h0M149.6 111.5h0M145.0 67.8h0M2.0 25.8h0M114.8 93.3h0M53.3 43.1h0M36.2 43.5h0M16.1 83.3h0M27.1 61.9h0M46.6 37.6h0M62.4 58.3h0M30.8 72.1h0M73.1 40.6h0M118.0 27.0h0M114.1 56.7h0M48.1 2.8h0M141.7 17.1h0M22.9 25.8h0M142.8 105.3h0M120.2 62.3h0M131.5 94.8h0M68.4 2.4h0M144.5 59.0h0M132.2 101.3h0M141.4 2.8h0M34.5 46.0h0M117.2 59.2h0M106.3 98.2h0M35.1 45.5h0M44.4 64.3h0M118.0 93.1h0M26.6 2.3h0M56.2 10.6h0M65.1 36.8h0M142.0 33.8h0M49.9 105.3h0M67.6 92.6h0M150.6 99.6h0M140.7 105.3h0M105.7 52.9h0M110.9 111.3h0M143.4 73.5h0M36.6 82.5h0M147.3 68.8h0M31.4 49.2h0M144.7 94.9h0M12.5 30.0h0M103.3 19.1h0M42.9 78.7h0M35.9 105.4h0M109.3 74.0h0M69.9 77.7h0M114.2 5.3h0M10.4 14.8h0M112.8 111.1h0M154.5 77.4h0M22.5 89.5h0M21.5 20.1h0M74.3 5.8h0M122.2 65.5h0M75.6 96.4h0M86.0 45.8h0M92.1 106.2h0M75.6 59.4h0M97.3 19.3h0M154.7 56.1h0M123.8 29.0h0M88.4 51.1h0M71.7 74.3h0M0.9 72.2h0M136.1 60.6h0M22.8 22.1h0M16.4 75.7h0M43.9 63.0h0M122.1 96.9h0M90.1 48.9h0M130.5 56.1h0M78.8 69.6h0M13.6 109.7h0M139.8 50.4h0M118.4 19.8h0M97.8 95.8h0M124.6 47.4h0M124.2 84.3h0M91.6 13.9h0M42.1 54.3h0M106.7 96.3h0M23.3 99.7h0M97.6 1.2h0M117.8 57.1h0M18.5 51.7h0M58.6 84.0h0M112.8 46.8h0M140.4 69.3h0M80.5 14.8h0M16.7 67.5h0M88.0 18.1h0M67.5 61.3h0M145.6 98.4h0M63.8 93.2h0M53.7 3.6h0M131.2 77.3h0M66.8 64.4h0M72.1 104.8h0M82.5 91.6h0M57.2 38.3h0M129.6 66.8h0M82.6 25.3h0M24.8 37.0h0M3.4 46.6h0M94.1 52.5h0M61.3 56.4h0M130.8 112.7h0M83.5 48.6h0M97.4 1.2h0M105.0 40.5h0M46.7 10.0h0M87.4 55.9h0M12.5 38.8h0M3.8 19.2h0M8.4 34.7h0M57.3 45.7h0M152.4 62.8h0M80.8 75.7h0M135.3 13.0h0M33.6 59.8h0M20.3 68.6h0M61.8 15.8h0M108.6 20.8h0M127.0 79.9h0M88.1 39.6h0M80.9 93.2h0M90.8 47.2h0M86.2 15.5h0M58.8 33.9h0M80.0 73.3h0M156.4 61.8h0M18.0 88.9h0M130.4 109.0h0M77.5 41.0h0M118.6 73.0h0M60.4 86.2h0M71.1 21.0h0M84.0 40.1h0M155.7 86.4h0M34.7 50.1h0M127.3 6.1h0M110.9 58.4h0M145.1 36.6h0M96.2 72.2h0M23.9 30.9h0M65.9 3.7h0M52.4 29.1h0M98.8 102.9h0M11.1 92.7h0M112.2 49.6h0M32.8 64.3h0M11.3 22.3h0M114.4 97.9h0M7.7 90.1h0M39.5 47.7h0M96.9 7.7h0M48.3 37.9h0M14.0 23.4h0M53.4 40.9h0M146.8 108.3h0M133.0 42.6h0M133.3 21.5h0M148.8 84.1h0M28.3 42.1h0M126.4 26.9h0M25.1 41.3h0M9.0 59.7h0M98.4 49.9h0M51.5 7.8h0M87.9 49.2h0M92.2 26.3h0M15.6 90.3h0M61.7 41.8h0M86.3 108.1h0M59.6 98.5h0M17.1 90.4h0M28.6 85.0h0M132.4 107.2h0M14.3 96.0h0M90.2 60.1h0M73.4 38.3h0M142.2 49.7h0M156.9 58.4h0M147.4 15.1h0M32.0 36.6h0M12.1 103.5h0M145.5 95.7h0M36.1 80.0h0M42.0 76.8h0M104.6 18.4h0M16.2 11.9h0M141.7 77.9h0M45.2 50.8h0M73.1 100.7h0M59.8 19.6h0M138.8 35.1h0M130.9 13.0h0M32.9 96.8h0M25.2 62.2h0M0.3 17.6h0M53.4 11.9h0M31.5 27.0h0M41.3 53.6h0M19.7 112.9h0M40.3 7.4h0M122.8 67.6h0M47.2 23.6h0M132.5 7.3h0M156.1 90.4h0M129.5 104.5h0M50.6 37.6h0M127.4 44.9h0M38.8 57.1h0M43.1 2.9h0M56.0 79.9h0M130.7 99.9h0M142.2 68.8h0M100.4 36.2h0M114.6 80.9h0M15.8 40.2h0M136.2 22.1h0M78.9 17.7h0M101.4 97.0h0M109.2 28.4h0M144.6 67.5h0M16.7 111.3h0M39.7 77.3h0M10.3 22.1h0M92.6 70.8h0M134.3 69.4h0M45.6 21.7h0M104.4 88.7h0M29.5 88.0h0M22.8 112.8h0M123.5 64.4h0M108.0 105.8h0M77.2 100.0h0M149.9 72.9h0M128.0 64.4h0M70.5 96.1h0M35.4 3.7h0M56.2 72.1h0M145.5 105.6h0M38.6 37.9h0M99.1 64.0h0M60.6 45.1h0M24.7 90.8h0M53.5 93.7h0M26.7 22.2h0M153.1 99.1h0M119.4 23.1h0M150.3 5.5h0M64.3 46.2h0M67.3 78.4h0M19.0 16.7h0M117.4 107.9h0M141.6 100.8h0M142.3 45.3h0M107.1 109.9h0M44.1 59.9h0M38.5 11.1h0M151.0 81.3h0M91.6 95.4h0M51.5 111.2h0M87.6 25.9h0M38.9 111.0h0M141.4 76.8h0M88.9 38.6h0M113.7 79.3h0M127.6 50.2h0M149.4 24.6h0M79.3 107.2h0M50.5 18.9h0M128.3 19.5h0M22.4 28.3h0M117.5 74.8h0M130.4 12.3h0M27.7 91.2h0M77.5 83.2h0M112.1 45.2h0M88.0 53.9h0M111.0 106.5h0M21.2 30.7h0M118.4 68.8h0M60.9 106.3h0M120.3 84.0h0M73.6 111.1h0M17.6 98.0h0M15.0 76.7h0M1.4 35.2h0M42.1 7.8h0M116.1 0.9h0M13.1 105.2h0M64.7 82.6h0M85.9 29.3h0M98.1 88.6h0M141.3 21.3h0M84.7 9.0h0M141.3 47.7h0M128.2 48.0h0M22.2 112.8h0M117.5 19.8h0M145.5 106.9h0M53.6 6.2h0M70.1 111.6h0M17.5 60.7h0M63.4 44.4h0M150.3 22.6h0M37.5 99.4h0M76.6 17.9h0M134.4 82.3h0M1.5 49.5h0M119.2 47.6h0M4.0 88.2h0M29.8 9.6h0M91.0 7.2h0M5.9 6.4h0M31.9 95.7h0M35.8 91.4h0M22.6 97.8h0M65.5 42.1h0M10.2 17.1h0M74.8 78.5h0M124.1 20.0h0M148.5 81.9h0M119.2 3.0h0M15.9 49.8h0M50.7 6.2h0M66.8 110.7h0M141.4 30.8h0M26.2 5.3h0M87.0 27.2h0M141.6 30.6h0M18.8 104.7h0M73.0 80.0h0M84.5 92.3h0M44.2 83.9h0M116.5 90.2h0M55.3 2.0h0M112.9 53.6h0M86.2 46.6h0M143.3 111.3h0M26.7 105.5h0M152.0 13.5h0M51.5 3.5h0M93.2 75.0h0M37.8 72.7h0M135.1 35.1h0M32.6 71.5h0M98.7 97.1h0M86.3 90.7h0M68.5 26.0h0M59.3 37.8h0M90.0 21.1h0M140.4 102.9h0M39.5 9.2h0M12.4 67.5h0M73.8 21.2h0M22.9 90.2h0M3.0 72.0h0M154.8 76.5h0M56.0 41.7h0M99.9 52.5h0M34.6 30.6h0M141.7 94.4h0M153.7 26.3h0M34.6 95.3h0M12.1 32.8h0M135.2 56.1h0M108.8 103.7h0M154.1 14.1h0M118.9 83.0h0M43.0 24.3h0M37.4 45.6h0M91.8 48.2h0M141.4 26.5h0M111.0 89.9h0M107.7 25.0h0M131.2 38.8h0M90.7 63.4h0M116.9 43.9h0M93.9 82.6h0M115.4 65.0h0M55.0 29.0h0M19.6 62.2h0M84.6 28.9h0M145.1 22.2h0M36.8 63.4h0M151.3 53.7h0M120.8 94.3h0M86.9 102.5h0M69.1 101.8h0M108.7 8.3h0M106.9 88.2h0M34.4 43.1h0M24.2 14.2h0M38.9 56.0h0M130.1 65.0h0M80.8 95.0h0M39.8 84.1h0M127.4 88.3h0M0.3 103.6h0M85.2 59.2h0M57.6 106.2h0M51.8 97.7h0M127.9 11.2h0M134.9 49.5h0M137.5 109.1h0M84.7 6.2h0M117.3 106.0h0M49.7 55.1h0M73.7 2.6h0M92.6 67.8h0M90.0 39.7h0M84.1 110.5h0M49.5 56.2h0M119.7 80.1h0M99.2 68.1h0M45.7 7.0h0M126.2 51.4h0M20.5 110.6h0M20.7 76.7h0M3.0 89.2h0M29.5 83.1h0M145.2 7.2h0M43.1 100.1h0M118.6 90.6h0M143.4 108.8h0M83.1 45.0h0M64.9 100.2h0M55.0 34.5h0M146.5 54.0h0M136.3 58.4h0M14.0 5.5h0M108.5 103.8h0M76.5 13.5h0M142.5 65.4h0M117.9 64.6h0M35.0 49.2h0M130.1 69.7h0M113.5 105.5h0M128.2 37.5h0M142.6 44.5h0M126.9 88.9h0M46.2 0.0h0M109.7 24.8h0M22.5 100.2h0M100.0 105.3h0M67.4 50.7h0M38.6 5.4h0M142.7 20.7h0M48.8 29.3h0M6.7 64.6h0M84.5 85.5h0M142.5 18.4h0M24.3 100.5h0M6.3 73.8h0M72.9 71.3h0M155.1 43.4h0M112.3 105.7h0M78.0 54.7h0M58.3 21.1h0M110.5 84.5h0M30.9 56.4h0M24.4 88.3h0M13.1 48.8h0M113.0 104.1h0M149.7 26.3h0M144.4 65.3h0M145.0 65.6h0M113.9 95.2h0M116.9 91.2h0M135.1 93.2h0M20.3 35.7h0M107.9 77.8h0M97.9 72.6h0M68.6 24.0h0M137.5 96.1h0M28.0 15.3h0M0.7 84.6h0M3.9 64.9h0M147.3 50.9h0M114.6 51.3h0M42.6 99.9h0M99.4 15.0h0M117.1 112.3h0M90.9 96.1h0M54.3 12.0h0M113.0 40.4h0M122.9 83.5h0M141.6 75.6h0M80.5 20.3h0M119.4 55.5h0M129.2 31.9h0M4.2 98.0h0M69.8 38.8h0M145.3 57.5h0M107.2 18.6h0M120.9 65.0h0M105.7 4.8h0M32.2 12.7h0M152.8 95.7h0M89.8 10.5h0M116.4 0.4h0M151.6 85.2h0M28.2 38.4h0M87.6 23.7h0M132.4 47.7h0M102.9 74.6h0M53.3 70.0h0M107.3 36.3h0M153.8 50.5h0M147.5 72.1h0M17.4 89.1h0M132.3 83.9h0M21.4 24.8h0M6.6 65.5h0M117.5 59.8h0M115.1 13.0h0M131.9 105.3h0M95.9 49.5h0M70.5 106.4h0M156.4 25.6h0M80.9 40.7h0M38.0 91.3h0M96.6 26.3h0M103.6 38.7h0M86.3 14.5h0M2.0 50.0h0M57.0 71.0h0M99.9 63.0h0M0.8 101.7h0M154.8 17.8h0M83.8 12.9h0M125.7 88.9h0M92.2 84.8h0M77.6 23.3h0M145.4 70.3h0M37.4 109.9h0M72.3 87.4h0M115.5 38.3h0M100.8 80.2h0M35.3 90.8h0M96.4 51.5h0M12.0 15.2h0M57.5 37.0h0M39.2 61.4h0M42.4 106.9h0M27.1 99.8h0M123.6 16.8h0M92.1 79.3h0M76.8 72.9h0M28.8 102.9h0M133.7 52.5h0M41.3 88.4h0M117.6 109.0h0M80.2 22.2h0M34.8 21.5h0M81.8 91.7h0M75.6 43.6h0M105.7 74.4h0M76.3 70.0h0M43.1 52.4h0M80.4 11.6h0M155.7 51.6h0M56.2 99.1h0M156.8 35.7h0M74.4 50.1h0M79.1 96.2h0M116.6 53.3h0M31.6 110.9h0M36.4 104.9h0M125.4 78.7h0M72.1 60.8h0M149.5 101.3h0M61.6 64.1h0M22.9 84.0h0M133.8 22.3h0M32.5 92.8h0M84.7 80.7h0M88.2 36.1h0M108.3 111.4h0M100.7 7.1h0M68.2 31.3h0M127.7 57.3h0M90.9 36.0h0M118.5 43.0h0M3.8 79.8h0M59.4 59.6h0M54.7 105.9h0M65.2 69.5h0M26.6 46.7h0M121.2 86.7h0M72.6 69.2h0M121.6 31.3h0M37.6 15.9h0M64.1 100.7h0M116.6 11.5h0M64.7 41.4h0M71.3 27.3h0M118.6 3.4h0M76.3 79.0h0M71.2 12.9h0M69.3 9.8h0M116.6 90.9h0M62.4 87.7h0M33.1 40.5h0M7.5 100.8h0M148.2 52.6h0M48.1 109.0h0M70.2 34.8h0M104.8 88.6h0M118.0 14.6h0M79.3 61.3h0M146.0 25.3h0M112.2 57.4h0M91.2 42.3h0M97.7 42.3h0M4.1 35.3h0M79.3 105.2h0M59.7 75.4h0M86.9 104.1h0M108.5 34.9h0M110.3 69.8h0M86.2 45.1h0M68.0 93.4h0M131.8 81.3h0M153.1 65.3h0M40.9 32.4h0M60.2 0.2h0M8.5 27.2h0M27.5 24.5h0M85.4 13.1h0M23.9 21.2h0M109.7 1.1h0M66.3 92.7h0M1.0 110.8h0M47.7 88.3h0M64.3 2.5h0M120.2 100.2h0M0.7 43.1h0M105.8 107.1h0M24.0 68.8h0M89.0 82.7h0M47.9 26.5h0M42.3 30.6h0M140.1 86.1h0M14.3 24.5h0M154.0 81.9h0M57.7 71.2h0M134.3 92.6h0M155.8 40.1h0M134.6 19.1h0M7.1 40.5h0M81.3 79.0h0M18.7 78.5h0M46.9 67.8h0M112.4 56.1h0M129.2 76.8h0M14.5 47.8h0M124.3 57.4h0M20.2 3.5h0M27.4 109.9h0M13.1 25.6h0M109.7 46.9h0M114.7 9.6h0M72.5 57.0h0M53.0 45.7h0M29.0 36.0h0M117.1 66.8h0M66.9 38.7h0M24.8 105.8h0M68.1 20.7h0M140.0 41.1h0M48.1 66.5h0M139.1 45.6h0M116.1 90.7h0M18.4 33.6h0M6.2 46.6h0M155.5 76.0h0M52.3 71.0h0M141.1 81.7h0M87.0 104.8h0M156.1 88.7h0M14.3 109.0h0M75.6 31.3h0M32.9 49.2h0M62.3 86.4h0M113.2 31.1h0M36.3 28.7h0M77.3 32.1h0M111.8 44.1h0M112.9 0.2h0M144.8 23.1h0M129.5 3.1h0M4.6 110.7h0M73.2 17.6h0M135.3 100.1h0M9.7 66.2h0M122.4 82.6h0M141.4 37.3h0M22.3 22.1h0M10.0 58.0h0M88.3 50.1h0M49.7 104.6h0M46.7 26.0h0M153.9 27.5h0M142.4 16.1h0M33.4 72.8h0M6.2 14.9h0M17.2 88.4h0M152.3 51.0h0M105.8 4.6h0M58.7 69.7h0M65.3 54.8h0M123.8 79.2h0M143.7 41.2h0M131.4 70.5h0M94.5 25.3h0M88.2 37.7h0M119.6 108.5h0M44.8 85.4h0M146.0 69.0h0M137.7 93.7h0M152.2 22.3h0M146.4 22.7h0M52.9 68.1h0M146.1 93.5h0M75.5 100.1h0M122.4 24.3h0M46.4 89.3h0M129.9 58.7h0M143.4 96.7h0M21.0 25.4h0M42.9 76.4h0M107.7 0.2h0M6.2 94.7h0M131.1 40.3h0M79.1 12.9h0M46.3 99.8h0M49.4 3.6h0M147.1 95.6h0M13.0 21.4h0M6.5 19.9h0M106.1 87.5h0M93.1 8.3h0M84.6 18.9h0M39.7 61.6h0M152.1 55.3h0M137.3 18.8h0M53.7 83.3h0M112.3 75.5h0M18.9 48.3h0M76.5 35.4h0M88.0 70.5h0M11.6 10.1h0M42.3 43.5h0M38.1 55.3h0M15.3 33.4h0M154.7 87.7h0M134.1 11.3h0M42.8 98.2h0M143.3 78.4h0M5.7 46.1h0M86.6 6.3h0M27.2 63.3h0M15.5 75.5h0M88.9 45.0h0M129.7 46.0h0M20.9 96.4h0M123.0 39.4h0M0.8 93.1h0M20.9 17.9h0M67.8 28.4h0M46.6 48.9h0M8.7 15.0h0M95.3 100.9h0M88.6 103.9h0M71.5 14.6h0M140.4 111.8h0M121.2 104.6h0M124.4 37.0h0M46.0 88.0h0M77.0 5.0h0M113.2 43.5h0M59.1 35.5h0M30.5 44.5h0M151.0 72.9h0M50.4 30.1h0M137.4 43.3h0M10.0 110.2h0M131.1 39.0h0M96.4 18.2h0M103.2 66.3h0M149.6 17.8h0M85.4 17.0h0M81.0 29.1h0M67.6 106.2h0M5.6 12.9h0M152.0 19.1h0M44.5 80.1h0M94.0 33.8h0M87.3 68.2h0M117.7 36.0h0M32.3 3.8h0M1.3 107.5h0M52.4 28.1h0M133.8 7.9h0M91.0 85.1h0M60.4 30.9h0M70.3 74.4h0M32.5 49.3h0M52.8 82.1h0M11.1 54.3h0M54.9 0.6h0M3.5 34.1h0M110.6 19.2h0M71.9 40.3h0M24.5 86.1h0M26.7 39.2h0M18.9 19.3h0M119.0 17.5h0M66.5 70.0h0M45.7 94.0h0M70.3 32.8h0M139.5 14.9h0M50.8 102.8h0M153.3 56.4h0M17.6 103.7h0M119.6 28.4h0M4.4 35.9h0M82.4 98.4h0M23.2 7.8h0M134.3 62.5h0M59.2 65.4h0M57.2 48.9h0M119.4 46.7h0M151.5 112.1h0M33.6 12.8h0M147.0 36.1h0M55.6 79.3h0M10.8 95.0h0M1.9 8.9h0M62.6 51.8h0M145.1 70.1h0M49.3 16.1h0M143.3 83.6h0M118.9 63.0h0M111.3 61.9h0M127.2 80.6h0M82.8 10.9h0M53.6 56.4h0M19.4 111.9h0M37.5 79.5h0M61.3 78.8h0M132.5 107.9h0M49.9 52.9h0M97.4 25.0h0M106.7 25.1h0M44.2 8.5h0M127.8 86.3h0M129.6 19.9h0M33.6 92.5h0M36.5 3.0h0M59.4 25.0h0M156.7 46.4h0M25.5 14.6h0M128.2 37.6h0M79.1 95.0h0M119.1 37.5h0M44.1 18.8h0M37.3 22.4h0M87.4 101.1h0M132.6 14.5h0M149.6 13.6h0M49.4 94.1h0M43.8 30.6h0M42.7 82.6h0M78.6 84.1h0M108.6 18.8h0M102.6 18.8h0M127.0 57.7h0M113.8 69.2h0M16.3 17.3h0M118.7 71.1h0M120.9 48.2h0M115.5 14.8h0M21.8 68.4h0M14.5 86.6h0M74.3 43.7h0M152.7 80.5h0M24.5 74.2h0M58.1 65.0h0M17.6 1.4h0M99.7 45.2h0M108.5 2.2h0M47.4 36.9h0M119.0 48.3h0M142.9 54.9h0M89.9 26.6h0M51.2 81.1h0M130.7 92.5h0M141.2 54.9h0M69.6 75.9h0M44.9 78.6h0M33.1 64.3h0M12.1 5.9h0M66.4 80.6h0M56.6 44.6h0M40.3 1.4h0M149.3 110.1h0M12.3 87.1h0M138.6 17.6h0M111.9 21.0h0M17.3 25.6h0M78.0 109.5h0M128.4 60.2h0M64.6 41.3h0M94.4 46.5h0M5.0 44.4h0M68.2 100.5h0M150.5 78.8h0M62.7 5.9h0M123.6 63.8h0M85.6 102.9h0M93.5 102.2h0M111.6 105.6h0M109.6 28.6h0M139.8 57.2h0M73.4 52.3h0M75.8 86.9h0M40.2 35.1h0M41.6 13.9h0M125.8 13.8h0M119.2 111.9h0M131.4 2.8h0M74.3 66.2h0M72.7 105.0h0M40.8 30.2h0M50.2 62.5h0M133.0 14.9h0M86.6 29.2h0M118.0 33.2h0M100.1 10.8h0M104.9 87.6h0M129.7 6.1h0M42.0 98.1h0M77.8 15.9h0M146.1 2.3h0M134.0 23.2h0M70.2 13.8h0M141.2 92.8h0M136.3 91.8h0M92.3 101.2h0M56.2 57.4h0M130.3 12.4h0M151.7 75.8h0M13.9 57.1h0M145.5 14.2h0M10.2 53.3h0M110.9 93.3h0M12.5 7.7h0M136.7 33.3h0M62.6 87.5h0M112.2 2.1h0M45.2 112.0h0M58.9 69.4h0M141.0 43.2h0M136.7 22.5h0M68.3 60.5h0M39.2 70.0h0M126.7 15.8h0M14.1 54.8h0M61.1 67.7h0M141.5 38.1h0M107.9 107.5h0M56.6 39.4h0M15.1 11.7h0M63.4 10.3h0M39.5 87.0h0M143.1 3.8h0M70.9 91.5h0M152.9 33.2h0M6.1 102.3h0M123.8 102.6h0M15.8 13.6h0M25.1 100.2h0M99.1 83.5h0M146.1 90.1h0M45.6 72.6h0M96.7 6.5h0M66.1 6.4h0M27.1 88.1h0M77.0 87.1h0M109.0 7.3h0M77.6 65.7h0M96.4 62.5h0M128.3 14.8h0M129.5 85.3h0M42.6 45.2h0M144.1 68.9h0M144.3 108.1h0M0.8 53.7h0M43.1 76.3h0M19.1 22.2h0M155.7 105.8h0M116.9 42.3h0M35.2 57.7h0M22.6 4.0h0M76.7 28.8h0M96.6 103.3h0M15.3 68.8h0M58.2 4.6h0M128.5 43.7h0M56.4 50.9h0M119.7 94.6h0M52.8 49.2h0M71.4 42.5h0M149.1 89.3h0M18.3 10.3h0M17.1 11.2h0M83.5 70.5h0M117.0 13.8h0M116.9 69.5h0M112.0 4.4h0M152.8 95.9h0M23.3 7.3h0M96.5 67.2h0M134.2 73.8h0M3.3 22.8h0M120.3 86.5h0M19.7 50.0h0M45.7 74.8h0M65.1 57.3h0M119.1 109.0h0M104.7 56.9h0M73.7 0.0h0M28.9 80.0h0M129.0 32.4h0M138.1 111.2h0M124.5 4.4h0M33.5 2.7h0M119.7 15.3h0M14.2 40.1h0M61.2 34.8h0M17.5 69.9h0M3.4 78.8h0M86.2 66.9h0M74.8 67.0h0M27.0 105.6h0M84.7 39.8h0M39.5 59.0h0M85.7 55.1h0M46.1 111.3h0M118.8 16.3h0M92.9 93.1h0M138.1 95.8h0M118.7 18.8h0M38.3 99.4h0M128.2 42.6h0M142.2 108.7h0M141.2 33.3h0M1.3 38.1h0M154.2 26.4h0M153.4 64.0h0M38.4 104.0h0M115.4 95.2h0M142.0 84.1h0M146.0 109.8h0M98.0 79.3h0M25.5 87.3h0M9.0 13.1h0M65.1 32.9h0M116.3 53.4h0M41.9 85.7h0M92.2 0.3h0M56.5 14.0h0M12.3 48.8h0M135.2 97.3h0M60.3 37.1h0M120.1 104.3h0M0.5 56.5h0M6.0 29.4h0M151.4 43.2h0M84.8 74.4h0M97.8 15.1h0M121.3 81.7h0M70.1 4.8h0M104.0 38.8h0M35.3 72.5h0M52.5 53.4h0M88.8 59.5h0M47.0 56.3h0M71.0 36.6h0M114.3 72.1h0M117.6 72.9h0M153.5 91.4h0M23.9 27.5h0M143.1 40.8h0M152.9 1.1h0M83.3 30.7h0M128.1 12.7h0M116.2 104.8h0M85.9 71.7h0M100.9 4.9h0M38.8 94.7h0M92.2 68.0h0M142.1 43.4h0M154.7 81.4h0M65.8 111.0h0M40.4 26.2h0M56.4 24.4h0M12.2 74.2h0M142.5 23.1h0M62.6 99.7h0M135.9 5.9h0M97.3 59.1h0M105.4 57.1h0M27.5 16.3h0M76.0 78.1h0M56.8 25.4h0M44.4 101.8h0M34.4 73.2h0M73.8 78.5h0M99.4 13.7h0M102.7 108.8h0M10.4 72.5h0M104.3 40.5h0M47.7 82.8h0M4.7 51.1h0M67.6 51.5h0M137.6 6.5h0M50.6 105.5h0M8.3 1.8h0M41.1 89.9h0M137.6 22.0h0M45.6 28.4h0M25.7 19.2h0M63.9 79.1h0M104.1 67.1h0M80.7 106.6h0M74.5 107.7h0M64.2 12.6h0M36.4 38.2h0M146.6 38.6h0M109.5 17.1h0M28.5 10.6h0M118.6 107.2h0M95.5 1.2h0M31.8 13.7h0M89.9 4.0h0M55.7 90.3h0M24.1 11.5h0M149.0 47.2h0M103.4 59.9h0M73.8 32.1h0M18.7 24.6h0M146.7 86.9h0M58.2 76.8h0M131.9 87.3h0M137.4 33.9h0M64.2 97.1h0M29.3 94.1h0M25.9 30.9h0M95.7 61.6h0M112.3 58.7h0M149.0 69.7h0M114.3 85.0h0M94.9 15.0h0M129.4 106.1h0M108.4 40.4h0M17.7 101.2h0M72.9 26.8h0M88.6 30.0h0M61.9 27.8h0M144.5 72.0h0M9.2 1.1h0M120.0 62.4h0M130.7 20.8h0M69.2 33.8h0M76.4 83.0h0M26.1 60.9h0M85.2 57.4h0M48.5 65.1h0M14.9 71.1h0M4.6 99.7h0M147.9 39.4h0M25.1 97.5h0M146.9 30.3h0M130.3 41.0h0M124.1 82.1h0M11.9 26.9h0M69.4 52.6h0M9.9 27.0h0M29.2 61.4h0M46.1 5.4h0M53.0 42.7h0M116.1 35.6h0M54.2 81.7h0M91.0 42.0h0M23.2 103.6h0M6.7 19.5h0M75.8 72.1h0M130.9 48.2h0M55.5 91.3h0M81.3 84.0h0" stroke="#4a4a4a" stroke-width="1.1" stroke-linecap="round" fill="none"/>
<path d="M14.3 111.5h0M4.8 82.1h0M150.5 54.4h0M29.7 84.6h0M6.3 70.0h0M37.9 49.2h0M87.9 70.6h0M55.4 35.3h0M119.3 74.5h0M32.2 28.8h0M112.3 31.5h0M107.6 69.6h0M150.8 84.4h0M4.4 25.8h0M19.9 61.1h0M57.6 39.5h0M39.3 91.5h0M92.6 54.1h0M124.0 44.1h0M77.0 67.9h0M57.6 21.3h0M40.9 60.3h0M82.9 70.3h0M19.4 4.8h0M129.8 97.2h0M84.6 59.9h0M98.0 37.1h0M61.5 22.6h0M87.3 16.8h0M25.6 30.7h0M28.7 7.1h0M154.6 45.9h0M9.4 15.2h0M13.8 23.8h0M120.5 79.7h0M154.3 76.4h0M9.4 101.0h0M145.6 11.7h0M27.6 6.7h0M32.7 27.6h0M76.0 13.4h0M23.4 1.2h0M88.4 90.4h0M133.0 44.9h0M47.2 81.0h0M17.4 65.5h0M80.9 77.2h0M104.3 11.5h0M136.8 91.2h0M114.7 43.3h0M127.7 44.3h0M155.1 101.5h0M91.0 15.0h0M91.2 73.7h0M87.4 19.0h0M140.8 14.2h0M22.9 21.9h0M16.2 105.3h0M96.7 95.2h0M28.2 57.8h0M29.1 104.9h0M6.8 34.4h0M153.8 104.2h0M127.5 91.9h0M154.5 21.3h0M56.2 2.3h0M63.1 10.9h0M134.3 75.6h0M71.9 98.0h0M10.1 97.4h0M30.3 5.6h0M46.0 76.8h0M57.9 42.3h0M92.0 62.7h0M90.9 35.5h0M29.2 32.9h0M126.3 84.8h0M52.6 36.9h0M135.2 84.7h0M114.6 64.0h0M123.3 28.0h0M83.5 92.1h0M145.5 109.1h0M125.6 16.8h0M113.7 70.6h0M26.3 66.1h0M59.0 67.2h0M10.8 110.0h0M46.8 78.0h0M156.8 74.7h0M32.4 106.3h0M125.3 86.9h0M83.8 30.7h0M77.1 86.6h0M0.5 29.9h0M77.2 21.5h0M115.8 91.3h0M73.3 42.9h0M105.6 79.0h0M26.5 6.2h0M22.6 32.0h0M127.5 88.8h0M127.2 15.5h0M121.6 89.8h0M76.9 61.5h0M51.3 31.4h0M46.4 88.2h0M154.0 37.9h0M60.2 16.9h0M59.7 87.3h0M142.2 75.5h0M137.0 56.2h0M101.0 100.4h0M31.4 46.7h0M82.0 106.6h0M66.9 64.3h0M129.9 21.3h0M102.3 45.5h0M155.7 86.3h0M22.6 97.5h0M149.1 16.5h0M77.4 88.9h0M142.0 17.1h0M18.2 43.9h0M122.3 62.3h0M122.5 54.2h0M30.8 103.6h0M81.3 1.2h0M103.1 5.0h0M11.4 35.8h0M31.6 85.2h0M66.6 42.3h0M131.5 68.4h0M84.2 89.7h0M58.9 40.1h0M66.9 51.2h0M131.7 3.1h0M36.7 58.8h0M55.1 74.3h0M33.9 78.7h0M11.2 49.7h0M51.4 32.8h0M91.9 42.8h0M100.3 109.9h0M111.6 54.1h0M83.5 103.2h0M77.4 15.6h0M141.8 34.2h0M139.8 39.1h0M33.6 17.9h0M134.0 109.9h0M54.9 85.7h0M27.0 6.7h0M96.4 6.3h0M111.6 28.1h0M34.3 6.6h0M126.1 42.3h0M66.9 84.1h0M151.8 46.6h0M104.8 77.8h0M111.9 75.5h0M116.5 75.6h0M145.8 67.4h0M64.6 50.8h0M72.0 101.4h0M39.9 73.5h0M16.6 18.3h0M38.0 89.7h0M70.4 95.1h0M32.7 23.1h0M24.1 90.3h0M44.0 86.9h0M110.0 2.5h0M93.8 44.4h0M87.7 3.5h0M140.5 78.4h0M137.2 9.6h0M41.8 40.9h0M155.5 27.6h0M60.0 45.3h0M102.3 78.7h0M89.4 8.2h0M87.2 11.1h0M39.8 107.1h0M156.0 54.0h0M26.5 2.5h0M53.2 71.7h0M83.6 75.7h0M87.5 63.3h0M99.4 85.5h0M136.3 93.9h0M96.5 8.8h0M34.9 84.1h0M120.1 0.8h0M3.0 16.2h0M15.3 27.1h0M148.3 46.5h0M128.7 56.3h0M51.1 11.3h0M11.7 70.9h0M35.3 52.4h0M25.1 12.3h0M11.9 90.7h0M71.5 80.6h0M86.8 105.5h0M56.1 62.2h0M65.2 52.4h0M56.4 61.3h0M24.2 73.7h0M94.4 109.6h0M119.8 104.1h0M53.7 12.3h0M134.4 111.1h0M54.8 41.0h0M93.1 48.2h0M95.1 41.4h0M30.2 4.2h0M105.6 82.0h0M124.1 33.4h0M97.0 40.4h0M79.4 13.4h0M110.7 74.8h0M104.6 7.4h0M98.2 106.4h0M91.1 35.6h0M83.6 18.3h0M156.5 81.9h0M89.9 39.6h0M102.4 32.5h0M129.9 8.5h0M31.2 96.4h0M92.0 54.2h0M82.5 101.5h0M152.3 38.3h0M139.1 49.5h0M60.6 37.3h0M33.0 81.3h0M91.7 41.1h0M8.7 89.9h0M98.1 27.7h0M88.0 14.7h0M28.0 110.4h0M44.9 21.7h0M116.6 32.3h0M118.3 43.1h0M124.8 106.7h0M55.8 27.1h0M40.3 6.0h0M146.6 2.6h0M56.1 57.8h0M25.0 71.0h0M35.2 26.3h0M104.0 32.6h0M136.5 14.2h0M51.0 3.0h0M88.3 4.5h0M86.6 73.2h0M10.2 72.2h0M23.5 6.8h0M124.3 89.1h0M138.6 87.0h0M35.4 50.1h0M11.1 16.9h0M44.2 54.9h0M20.3 16.5h0M150.1 51.4h0M32.0 56.5h0M77.0 33.8h0M115.1 40.2h0M16.8 112.9h0M125.4 67.0h0M99.7 66.2h0M113.6 107.3h0M117.9 2.8h0M137.3 74.5h0M133.3 14.0h0M78.7 77.2h0M51.0 41.5h0M33.0 26.3h0M54.9 36.9h0M111.6 29.1h0M17.7 6.6h0M141.1 86.2h0M134.9 39.1h0M105.2 40.8h0M63.1 47.6h0M59.8 87.8h0M98.8 16.3h0M42.1 69.1h0M1.2 33.6h0M120.3 20.1h0" stroke="#202020" stroke-width="1.6" stroke-linecap="round" fill="none"/>
</pattern>
</defs>
<g clip-path="url(#cl)">
<rect x="34" y="211" width="348" height="191" fill="#fcfcfc"/>
<rect x="34" y="211" width="348" height="191" fill="url(#dp1)"/>
<path d="M34.0 223.1L382.0 -111.0M34.0 235.4L382.0 -98.7M34.0 247.7L382.0 -86.4M34.0 260.0L382.0 -74.1M34.0 272.3L382.0 -61.8M34.0 284.6L382.0 -49.5M34.0 296.9L382.0 -37.2M34.0 309.2L382.0 -24.9M34.0 321.5L382.0 -12.6M34.0 333.8L382.0 -0.3M34.0 346.1L382.0 12.0M34.0 358.4L382.0 24.3M34.0 370.7L382.0 36.6M34.0 383.0L382.0 48.9M34.0 395.3L382.0 61.2M34.0 407.5L382.0 73.5M34.0 419.8L382.0 85.8M34.0 432.1L382.0 98.1M34.0 444.4L382.0 110.4M34.0 456.7L382.0 122.7M34.0 469.0L382.0 135.0M34.0 481.3L382.0 147.3M34.0 493.6L382.0 159.6M34.0 505.9L382.0 171.8M34.0 518.2L382.0 184.1M34.0 530.5L382.0 196.4M34.0 542.8L382.0 208.7M34.0 555.1L382.0 221.0M34.0 567.4L382.0 233.3M34.0 579.7L382.0 245.6M34.0 592.0L382.0 257.9M34.0 604.3L382.0 270.2M34.0 616.6L382.0 282.5M34.0 628.9L382.0 294.8M34.0 641.2L382.0 307.1M34.0 653.5L382.0 319.4M34.0 665.8L382.0 331.7M34.0 678.1L382.0 344.0M34.0 690.4L382.0 356.3M34.0 702.7L382.0 368.6M34.0 715.0L382.0 380.9M34.0 727.3L382.0 393.2" stroke="#868686" stroke-width="0.95" fill="none"/>
</g>
<g clip-path="url(#cr)">
<rect x="496" y="209" width="215" height="193" fill="#fcfcfc"/>
<rect x="496" y="209" width="215" height="193" fill="url(#dp2)"/>
<path d="M496.0 215.8L711.0 49.2M496.0 239.6L711.0 73.0M496.0 263.4L711.0 96.8M496.0 287.2L711.0 120.6M496.0 311.0L711.0 144.4M496.0 334.8L711.0 168.1M496.0 358.6L711.0 191.9M496.0 382.4L711.0 215.7M496.0 406.1L711.0 239.5M496.0 429.9L711.0 263.3M496.0 453.7L711.0 287.1M496.0 477.5L711.0 310.9M496.0 501.3L711.0 334.7M496.0 525.1L711.0 358.5M496.0 548.9L711.0 382.3" stroke="#868686" stroke-width="0.95" fill="none"/>
</g>
<path d="M34.5 211.5H381.8" stroke="#acacac" stroke-width="1" fill="none" />
<path d="M381.8 211.5V401.5" stroke="#6e6e6e" stroke-width="1.2" fill="none" />
<path d="M34.5 401.5H381.8" stroke="#acacac" stroke-width="1" fill="none" />
<path d="M34.5 211.5V401.5" stroke="#595959" stroke-width="1.0" fill="none" />
<path d="M496.2 210H538.4M667.9 210H710.5M496.2 401.4H710.5" stroke="#acacac" stroke-width="1" fill="none" />
<line x1="710.5" y1="210.0" x2="710.5" y2="401.4" stroke="#6e6e6e" stroke-width="1.4" />
<line x1="496.2" y1="210.0" x2="496.2" y2="401.4" stroke="#6e6e6e" stroke-width="1.3" />
<g fill="none" stroke-linecap="butt">
<line x1="183.3" y1="72.0" x2="183.3" y2="392.0" stroke="#444444" stroke-width="0.8" />
<line x1="34.5" y1="324.4" x2="381.8" y2="324.4" stroke="#707070" stroke-width="1.0" />
<path d="M172.4 176.5V76.4H195.5V176.5" stroke="#494949" stroke-width="1" fill="none" />
<line x1="171.5" y1="76.4" x2="196.0" y2="76.4" stroke="#060606" stroke-width="1.2" />
<rect x="164.2" y="176.2" width="38.4" height="8.6" stroke="#1b1b1b" stroke-width="1" fill="#fff" />
<rect x="173.5" y="177.5" width="20.0" height="5.5" stroke="#595959" stroke-width="0.8" fill="none" />
<line x1="165.2" y1="175.0" x2="165.2" y2="186.0" stroke="#000000" stroke-width="1.6" />
<line x1="168.0" y1="175.0" x2="168.0" y2="186.0" stroke="#000000" stroke-width="1.6" />
<line x1="198.8" y1="175.0" x2="198.8" y2="186.0" stroke="#000000" stroke-width="1.6" />
<line x1="201.6" y1="175.0" x2="201.6" y2="186.0" stroke="#000000" stroke-width="1.6" />
<path d="M162 183.5V202M205 183.5V202" stroke="#303030" stroke-width="1" fill="none" />
<path d="M162 183.5H164.2M202.6 183.5H205" stroke="#303030" stroke-width="1" fill="none" />
<line x1="169.2" y1="185.0" x2="169.2" y2="288.0" stroke="#060606" stroke-width="1.9" />
<line x1="197.4" y1="185.0" x2="197.4" y2="288.0" stroke="#060606" stroke-width="1.9" />
<line x1="179.6" y1="185.0" x2="179.6" y2="306.0" stroke="#444444" stroke-width="1" />
<line x1="187.3" y1="185.0" x2="187.3" y2="306.0" stroke="#444444" stroke-width="1" />
<line x1="182.0" y1="185.0" x2="182.0" y2="290.0" stroke="#acacac" stroke-width="0.7" />
<line x1="184.7" y1="185.0" x2="184.7" y2="290.0" stroke="#acacac" stroke-width="0.7" />
<line x1="166.0" y1="204.3" x2="201.0" y2="204.3" stroke="#444444" stroke-width="1.2" />
<rect x="176.9" y="200.8" width="2.6" height="6.8" stroke="#000000" stroke-width="0.5" fill="#222" rx="1"/>
<rect x="187.3" y="200.8" width="2.6" height="6.8" stroke="#000000" stroke-width="0.5" fill="#222" rx="1"/>
<circle cx="164.6" cy="204.5" r="2.4" stroke="#000000" stroke-width="1.5" fill="#fff" />
<circle cx="202.4" cy="204.5" r="2.4" stroke="#000000" stroke-width="1.5" fill="#fff" />
<path d="M163.3 205.8L154.3 214.3M203.7 205.8L212.7 214.3" stroke="#444444" stroke-width="0.9" fill="none" />
<circle cx="162.2" cy="209.8" r="1.5" stroke="#595959" stroke-width="0.7" fill="none" />
<circle cx="204.8" cy="209.8" r="1.5" stroke="#595959" stroke-width="0.7" fill="none" />
<rect x="154.3" y="214.3" width="14.4" height="46.7" stroke="#1b1b1b" stroke-width="1" fill="#fff" />
<line x1="154.3" y1="214.3" x2="168.7" y2="214.3" stroke="#1b1b1b" stroke-width="1.3" />
<line x1="154.3" y1="230.4" x2="168.7" y2="230.4" stroke="#1b1b1b" stroke-width="1.3" />
<line x1="154.3" y1="245.3" x2="168.7" y2="245.3" stroke="#1b1b1b" stroke-width="1.3" />
<line x1="154.3" y1="260.9" x2="168.7" y2="260.9" stroke="#1b1b1b" stroke-width="1.3" />
<line x1="154.3" y1="212.0" x2="154.3" y2="261.2" stroke="#1b1b1b" stroke-width="1.1" />
<path d="M159.1 222.5H163.9M161.5 220.1V224.9" stroke="#595959" stroke-width="0.9" fill="none" />
<polygon points="159.9,222.5 161.5,221.1 163.1,222.5 161.5,223.9" stroke="#6e6e6e" stroke-width="0.5" fill="#999" />
<path d="M159.1 238H163.9M161.5 235.6V240.4" stroke="#595959" stroke-width="0.9" fill="none" />
<polygon points="159.9,238.0 161.5,236.6 163.1,238.0 161.5,239.4" stroke="#6e6e6e" stroke-width="0.5" fill="#999" />
<path d="M159.1 253H163.9M161.5 250.6V255.4" stroke="#595959" stroke-width="0.9" fill="none" />
<polygon points="159.9,253.0 161.5,251.6 163.1,253.0 161.5,254.4" stroke="#6e6e6e" stroke-width="0.5" fill="#999" />
<line x1="154.3" y1="261.2" x2="162.8" y2="269.5" stroke="#595959" stroke-width="0.9" stroke-dasharray="2 1.2"/>
<circle cx="164.3" cy="271.4" r="2.5" stroke="#060606" stroke-width="1.3" fill="#fff" />
<path d="M159.5 265.5H163.5M161.5 263.8V267.2" stroke="#6e6e6e" stroke-width="0.9" fill="none" />
<line x1="162.0" y1="273.0" x2="134.3" y2="286.0" stroke="#444444" stroke-width="0.9" />
<line x1="153.5" y1="277.5" x2="153.5" y2="288.8" stroke="#000000" stroke-width="1.4" />
<rect x="198.3" y="214.3" width="14.4" height="46.7" stroke="#1b1b1b" stroke-width="1" fill="#fff" />
<line x1="198.3" y1="214.3" x2="212.7" y2="214.3" stroke="#1b1b1b" stroke-width="1.3" />
<line x1="198.3" y1="230.4" x2="212.7" y2="230.4" stroke="#1b1b1b" stroke-width="1.3" />
<line x1="198.3" y1="245.3" x2="212.7" y2="245.3" stroke="#1b1b1b" stroke-width="1.3" />
<line x1="198.3" y1="260.9" x2="212.7" y2="260.9" stroke="#1b1b1b" stroke-width="1.3" />
<line x1="212.7" y1="212.0" x2="212.7" y2="261.2" stroke="#1b1b1b" stroke-width="1.1" />
<path d="M203.1 222.5H207.9M205.5 220.1V224.9" stroke="#595959" stroke-width="0.9" fill="none" />
<polygon points="203.9,222.5 205.5,221.1 207.1,222.5 205.5,223.9" stroke="#6e6e6e" stroke-width="0.5" fill="#999" />
<path d="M203.1 238H207.9M205.5 235.6V240.4" stroke="#595959" stroke-width="0.9" fill="none" />
<polygon points="203.9,238.0 205.5,236.6 207.1,238.0 205.5,239.4" stroke="#6e6e6e" stroke-width="0.5" fill="#999" />
<path d="M203.1 253H207.9M205.5 250.6V255.4" stroke="#595959" stroke-width="0.9" fill="none" />
<polygon points="203.9,253.0 205.5,251.6 207.1,253.0 205.5,254.4" stroke="#6e6e6e" stroke-width="0.5" fill="#999" />
<line x1="212.7" y1="261.2" x2="204.2" y2="269.5" stroke="#595959" stroke-width="0.9" stroke-dasharray="2 1.2"/>
<circle cx="202.7" cy="271.4" r="2.5" stroke="#060606" stroke-width="1.3" fill="#fff" />
<path d="M203.5 265.5H207.5M205.5 263.8V267.2" stroke="#6e6e6e" stroke-width="0.9" fill="none" />
<line x1="205.0" y1="273.0" x2="232.7" y2="286.0" stroke="#444444" stroke-width="0.9" />
<line x1="213.5" y1="277.5" x2="213.5" y2="288.8" stroke="#000000" stroke-width="1.4" />
<circle cx="214.2" cy="262.2" r="1.4" stroke="#444444" stroke-width="0.7" fill="#fff" />
<line x1="210.5" y1="277.3" x2="217.0" y2="277.3" stroke="#303030" stroke-width="0.9" />
<line x1="170.0" y1="268.5" x2="179.0" y2="268.5" stroke="#acacac" stroke-width="0.8" />
<line x1="188.0" y1="268.5" x2="197.0" y2="268.5" stroke="#acacac" stroke-width="0.8" />
<path d="M135.3 189.6H121.5A9.4 9.4 0 0 0 112.1 199V317.2" stroke="#060606" stroke-width="1.3" fill="none" />
<path d="M135.3 196.6H123.6A3.2 3.2 0 0 0 120.4 199.8V317.2" stroke="#060606" stroke-width="1.3" fill="none" />
<line x1="116.2" y1="205.0" x2="116.2" y2="317.0" stroke="#838383" stroke-width="0.7" />
<line x1="124.0" y1="193.0" x2="135.0" y2="193.0" stroke="#979797" stroke-width="0.7" />
<path d="M207 189.3H246.2A9.4 9.4 0 0 1 255.6 198.7V317.2" stroke="#060606" stroke-width="1.3" fill="none" />
<path d="M207 197H244.3A3.2 3.2 0 0 1 247.5 200.2V317.2" stroke="#060606" stroke-width="1.3" fill="none" />
<line x1="207.0" y1="188.8" x2="207.0" y2="197.5" stroke="#060606" stroke-width="1" />
<line x1="251.5" y1="205.0" x2="251.5" y2="317.0" stroke="#838383" stroke-width="0.7" />
<line x1="208.0" y1="193.0" x2="244.0" y2="193.0" stroke="#979797" stroke-width="0.7" />
<path d="M244.4 189.3V197" stroke="#6e6e6e" stroke-width="0.8" fill="none" />
<path d="M121.5 189.6V196.6" stroke="#6e6e6e" stroke-width="0.8" fill="none" />
<rect x="135.3" y="187.0" width="8.7" height="11.6" stroke="#000000" stroke-width="0.6" fill="#e8e8e8" />
<rect x="135.3" y="187.0" width="2.8" height="11.6" stroke="#000000" stroke-width="0.3" fill="#222" />
<rect x="141.2" y="187.0" width="2.8" height="11.6" stroke="#000000" stroke-width="0.3" fill="#222" />
<rect x="145.2" y="187.0" width="5.2" height="11.6" stroke="#000000" stroke-width="0.6" fill="#e8e8e8" />
<rect x="145.2" y="187.0" width="1.6" height="11.6" stroke="#000000" stroke-width="0.3" fill="#222" />
<rect x="148.8" y="187.0" width="1.6" height="11.6" stroke="#000000" stroke-width="0.3" fill="#222" />
<line x1="150.4" y1="190.2" x2="154.6" y2="190.2" stroke="#060606" stroke-width="0.9" />
<line x1="150.4" y1="196.0" x2="154.6" y2="196.0" stroke="#060606" stroke-width="0.9" />
<path d="M154.6 187.6H156.3Q159.2 188.8 159.2 193T156.3 198.4H154.6Z" stroke="#000000" stroke-width="0.5" fill="#222" />
<line x1="159.2" y1="193.0" x2="162.0" y2="193.0" stroke="#595959" stroke-width="0.8" />
<path d="M144 187L146.5 184H155.8" stroke="#6e6e6e" stroke-width="0.9" fill="none" />
<rect x="219.6" y="187.0" width="8.3" height="11.6" stroke="#000000" stroke-width="0.6" fill="#e8e8e8" />
<rect x="219.6" y="187.0" width="2.9" height="11.6" stroke="#000000" stroke-width="0.3" fill="#222" />
<rect x="225.0" y="187.0" width="2.9" height="11.6" stroke="#000000" stroke-width="0.3" fill="#222" />
<rect x="229.4" y="187.0" width="3.3" height="11.6" stroke="#000000" stroke-width="0.5" fill="#222" />
<line x1="223.6" y1="187.0" x2="223.6" y2="198.6" stroke="#000000" stroke-width="1.2" />
<path d="M212 183.6H221.5L224.6 187.3" stroke="#6e6e6e" stroke-width="0.9" fill="none" />
<rect x="112.9" y="317.2" width="6.6" height="5.8" stroke="#1b1b1b" stroke-width="1" fill="#fff" />
<line x1="112.1" y1="317.2" x2="120.3" y2="317.2" stroke="#060606" stroke-width="1.2" />
<path d="M113.6 323V326.5Q116.2 329.5 118.8 326.5V323" stroke="#303030" stroke-width="0.9" fill="none" />
<line x1="116.2" y1="319.0" x2="116.2" y2="330.0" stroke="#444444" stroke-width="0.7" />
<circle cx="116.2" cy="324.4" r="5.8" stroke="#303030" stroke-width="0.8" fill="none" stroke-dasharray="1.6 1.2"/>
<rect x="248.2" y="317.2" width="6.6" height="5.8" stroke="#1b1b1b" stroke-width="1" fill="#fff" />
<line x1="247.4" y1="317.2" x2="255.6" y2="317.2" stroke="#060606" stroke-width="1.2" />
<path d="M248.9 323V326.5Q251.5 329.5 254.1 326.5V323" stroke="#303030" stroke-width="0.9" fill="none" />
<line x1="251.5" y1="319.0" x2="251.5" y2="330.0" stroke="#444444" stroke-width="0.7" />
<circle cx="251.5" cy="324.4" r="5.8" stroke="#303030" stroke-width="0.8" fill="none" stroke-dasharray="1.6 1.2"/>
<line x1="34.5" y1="286.0" x2="134.3" y2="286.0" stroke="#1b1b1b" stroke-width="1.4" />
<line x1="232.7" y1="286.0" x2="381.8" y2="286.0" stroke="#303030" stroke-width="1.3" />
<line x1="34.5" y1="361.5" x2="136.5" y2="361.5" stroke="#303030" stroke-width="1.2" />
<line x1="231.0" y1="361.5" x2="381.8" y2="361.5" stroke="#444444" stroke-width="1.1" />
<line x1="56.5" y1="286.0" x2="56.5" y2="361.5" stroke="#1b1b1b" stroke-width="1.1" />
<line x1="311.5" y1="286.0" x2="311.5" y2="361.5" stroke="#444444" stroke-width="0.8" stroke-dasharray="2 1"/>
<line x1="360.8" y1="286.0" x2="360.8" y2="361.5" stroke="#838383" stroke-width="1.3" />
<line x1="56.5" y1="289.2" x2="130.0" y2="289.6" stroke="#595959" stroke-width="0.8" />
<line x1="56.5" y1="292.7" x2="130.0" y2="289.6" stroke="#979797" stroke-width="0.9" />
<line x1="56.5" y1="296.9" x2="130.0" y2="289.6" stroke="#595959" stroke-width="0.9" stroke-dasharray="6 4"/>
<line x1="56.5" y1="303.9" x2="130.0" y2="289.6" stroke="#595959" stroke-width="0.9" stroke-dasharray="3 2.5"/>
<line x1="56.5" y1="314.2" x2="130.0" y2="289.6" stroke="#444444" stroke-width="0.9" stroke-dasharray="1.4 1.6"/>
<line x1="56.5" y1="324.4" x2="130.0" y2="289.6" stroke="#444444" stroke-width="0.9" stroke-dasharray="1.4 1.6"/>
<line x1="56.5" y1="324.4" x2="130.0" y2="358.8" stroke="#444444" stroke-width="0.9" stroke-dasharray="1.4 1.6"/>
<line x1="56.5" y1="334.8" x2="130.0" y2="358.8" stroke="#444444" stroke-width="0.9" stroke-dasharray="1.4 1.6"/>
<line x1="56.5" y1="344.0" x2="130.0" y2="358.8" stroke="#595959" stroke-width="0.9" stroke-dasharray="3 2.5"/>
<line x1="56.5" y1="351.4" x2="130.0" y2="358.8" stroke="#595959" stroke-width="0.9" stroke-dasharray="6 4"/>
<line x1="56.5" y1="355.6" x2="130.0" y2="358.8" stroke="#979797" stroke-width="0.9" />
<line x1="56.5" y1="359.4" x2="130.0" y2="358.8" stroke="#595959" stroke-width="0.8" />
<line x1="311.5" y1="289.2" x2="237.0" y2="289.6" stroke="#595959" stroke-width="0.8" />
<line x1="311.5" y1="292.7" x2="237.0" y2="289.6" stroke="#979797" stroke-width="0.9" />
<line x1="311.5" y1="296.9" x2="237.0" y2="289.6" stroke="#595959" stroke-width="0.9" stroke-dasharray="6 4"/>
<line x1="311.5" y1="303.9" x2="237.0" y2="289.6" stroke="#595959" stroke-width="0.9" stroke-dasharray="3 2.5"/>
<line x1="311.5" y1="314.2" x2="237.0" y2="289.6" stroke="#444444" stroke-width="0.9" stroke-dasharray="1.4 1.6"/>
<line x1="311.5" y1="324.4" x2="237.0" y2="289.6" stroke="#444444" stroke-width="0.9" stroke-dasharray="1.4 1.6"/>
<line x1="311.5" y1="324.4" x2="237.0" y2="358.8" stroke="#444444" stroke-width="0.9" stroke-dasharray="1.4 1.6"/>
<line x1="311.5" y1="334.8" x2="237.0" y2="358.8" stroke="#444444" stroke-width="0.9" stroke-dasharray="1.4 1.6"/>
<line x1="311.5" y1="344.0" x2="237.0" y2="358.8" stroke="#595959" stroke-width="0.9" stroke-dasharray="3 2.5"/>
<line x1="311.5" y1="351.4" x2="237.0" y2="358.8" stroke="#595959" stroke-width="0.9" stroke-dasharray="6 4"/>
<line x1="311.5" y1="355.6" x2="237.0" y2="358.8" stroke="#979797" stroke-width="0.9" />
<line x1="311.5" y1="359.4" x2="237.0" y2="358.8" stroke="#595959" stroke-width="0.8" />
<line x1="56.5" y1="289.2" x2="69.0" y2="289.2" stroke="#1b1b1b" stroke-width="1.3" />
<line x1="299.0" y1="289.2" x2="311.5" y2="289.2" stroke="#303030" stroke-width="1.3" />
<line x1="58.0" y1="361.8" x2="70.0" y2="361.8" stroke="#1b1b1b" stroke-width="1.3" />
<line x1="295.0" y1="361.6" x2="308.0" y2="361.6" stroke="#1b1b1b" stroke-width="1.5" />
<polygon points="124.5,358.6 127.0,354.5 129.5,358.6" stroke="#000000" stroke-width="0.5" fill="#222" />
<polygon points="237.5,358.6 240.0,354.5 242.5,358.6" stroke="#000000" stroke-width="0.5" fill="#222" />
<polygon points="122.0,287.5 131.0,287.5 128.0,291.0" stroke="#000000" stroke-width="0.5" fill="#222" />
<polygon points="236.0,287.5 245.0,287.5 239.0,291.0" stroke="#000000" stroke-width="0.5" fill="#222" />
<line x1="87.6" y1="278.3" x2="87.6" y2="286.0" stroke="#000000" stroke-width="1.5" />
<line x1="107.0" y1="278.3" x2="107.0" y2="286.0" stroke="#000000" stroke-width="1.5" />
<line x1="126.3" y1="278.3" x2="126.3" y2="286.0" stroke="#000000" stroke-width="1.5" />
<line x1="241.0" y1="278.3" x2="241.0" y2="286.0" stroke="#000000" stroke-width="1.5" />
<line x1="260.0" y1="278.3" x2="260.0" y2="286.0" stroke="#000000" stroke-width="1.5" />
<line x1="279.5" y1="278.3" x2="279.5" y2="286.0" stroke="#000000" stroke-width="1.5" />
<line x1="324.3" y1="278.3" x2="324.3" y2="286.0" stroke="#000000" stroke-width="1.5" />
<line x1="88.2" y1="361.5" x2="88.2" y2="369.5" stroke="#000000" stroke-width="1.4" />
<line x1="106.8" y1="361.5" x2="106.8" y2="369.5" stroke="#000000" stroke-width="1.4" />
<line x1="126.3" y1="361.5" x2="126.3" y2="369.5" stroke="#000000" stroke-width="1.4" />
<line x1="241.8" y1="361.5" x2="241.8" y2="369.0" stroke="#303030" stroke-width="1.3" />
<line x1="260.4" y1="361.5" x2="260.4" y2="369.0" stroke="#303030" stroke-width="1.3" />
<line x1="279.6" y1="361.5" x2="279.6" y2="369.0" stroke="#303030" stroke-width="1.3" />
<line x1="298.8" y1="361.5" x2="298.8" y2="369.0" stroke="#303030" stroke-width="1.3" />
<line x1="323.5" y1="361.5" x2="323.5" y2="369.0" stroke="#303030" stroke-width="1.3" />
<line x1="323.5" y1="361.5" x2="323.5" y2="369.5" stroke="#000000" stroke-width="1.4" />
<line x1="134.3" y1="285.0" x2="134.3" y2="362.5" stroke="#060606" stroke-width="1.0" />
<line x1="136.4" y1="285.0" x2="136.4" y2="362.5" stroke="#303030" stroke-width="1.0" />
<line x1="138.5" y1="285.0" x2="138.5" y2="362.5" stroke="#060606" stroke-width="1.0" />
<line x1="228.6" y1="285.0" x2="228.6" y2="362.5" stroke="#060606" stroke-width="1.0" />
<line x1="230.7" y1="285.0" x2="230.7" y2="362.5" stroke="#060606" stroke-width="1.0" />
<line x1="232.7" y1="285.0" x2="232.7" y2="362.5" stroke="#303030" stroke-width="1.0" />
<rect x="133.0" y="284.2" width="6.8" height="2.2" stroke="#000000" stroke-width="0.4" fill="#222" />
<path d="M131.9 360.6H140.9L137.6 364H135.2Z" stroke="#000000" stroke-width="0.4" fill="#222" />
<rect x="227.3" y="284.2" width="6.8" height="2.2" stroke="#000000" stroke-width="0.4" fill="#222" />
<path d="M226.2 360.6H235.2L231.9 364H229.5Z" stroke="#000000" stroke-width="0.4" fill="#222" />
<line x1="138.5" y1="288.9" x2="168.5" y2="288.9" stroke="#1b1b1b" stroke-width="1.3" />
<line x1="199.0" y1="289.0" x2="228.6" y2="289.0" stroke="#444444" stroke-width="0.9" stroke-dasharray="2.2 1.2"/>
<line x1="138.5" y1="358.7" x2="228.6" y2="358.7" stroke="#303030" stroke-width="1.2" />
<line x1="171.2" y1="286.5" x2="171.2" y2="343.0" stroke="#060606" stroke-width="1.2" />
<line x1="195.7" y1="286.5" x2="195.7" y2="362.0" stroke="#000000" stroke-width="1.8" />
<line x1="200.0" y1="286.0" x2="200.0" y2="361.0" stroke="#acacac" stroke-width="1.0" />
<path d="M168.4 281V289M171.2 287.2H178.5V285.8H188.5V287.2H195" stroke="#1b1b1b" stroke-width="1" fill="none" />
<line x1="173.0" y1="286.5" x2="173.0" y2="306.0" stroke="#303030" stroke-width="0.9" />
<line x1="194.0" y1="286.5" x2="194.0" y2="306.0" stroke="#303030" stroke-width="0.9" />
<line x1="173.0" y1="306.0" x2="194.5" y2="306.0" stroke="#1b1b1b" stroke-width="1.1" />
<line x1="179.6" y1="286.0" x2="179.6" y2="306.0" stroke="#060606" stroke-width="1.3" />
<line x1="187.3" y1="286.0" x2="187.3" y2="306.0" stroke="#060606" stroke-width="1.3" />
<rect x="194.2" y="286.0" width="2.8" height="3.4" stroke="#000000" stroke-width="0.4" fill="#222" />
<path d="M178.8 307H188.6V313.5Q188.6 316.3 185.5 316.3H181.9Q178.8 316.3 178.8 313.5Z" stroke="#303030" stroke-width="0.9" fill="#fff" />
<path d="M181.2 307V316M186.2 307V316M178.8 311.5H188.6" stroke="#595959" stroke-width="0.8" fill="none" />
<line x1="171.2" y1="341.2" x2="195.0" y2="341.2" stroke="#303030" stroke-width="1.0" />
<line x1="171.2" y1="343.0" x2="194.6" y2="356.8" stroke="#060606" stroke-width="1.1" />
<line x1="172.0" y1="345.0" x2="190.0" y2="355.6" stroke="#595959" stroke-width="0.8" stroke-dasharray="2 1.2"/>
<polygon points="189.0,353.0 195.0,353.0 195.0,357.4" stroke="#000000" stroke-width="0.4" fill="#222" />
<path d="M192.5 360.6H199L197 364H194.5Z" stroke="#000000" stroke-width="0.4" fill="#222" />
<line x1="175.0" y1="324.4" x2="193.0" y2="324.4" stroke="#1b1b1b" stroke-width="1.1" stroke-dasharray="3 1.5"/>
<path d="M136.5 361.8L150 371H182.5L195.5 363.5L208.5 371H216L231 361.8" stroke="#444444" stroke-width="0.9" fill="none" />
<line x1="154.2" y1="358.7" x2="154.2" y2="371.0" stroke="#000000" stroke-width="1.5" />
<line x1="169.0" y1="358.7" x2="169.0" y2="371.0" stroke="#000000" stroke-width="1.5" />
<line x1="181.8" y1="358.7" x2="181.8" y2="371.0" stroke="#000000" stroke-width="1.5" />
<line x1="213.7" y1="358.7" x2="213.7" y2="371.0" stroke="#000000" stroke-width="1.5" />
<path d="M136.9 362V392H230.2V362" stroke="#515151" stroke-width="1.0" fill="none" />
<line x1="160.0" y1="388.6" x2="172.0" y2="388.6" stroke="#979797" stroke-width="0.8" stroke-dasharray="1 1"/>
<line x1="202.0" y1="388.6" x2="214.0" y2="388.6" stroke="#979797" stroke-width="0.8" stroke-dasharray="1 1"/>
<rect x="336.3" y="198.0" width="6.9" height="88.0" stroke="none" stroke-width="0" fill="#fff" />
<line x1="336.3" y1="198.0" x2="336.3" y2="286.0" stroke="#838383" stroke-width="1.0" />
<line x1="343.2" y1="198.0" x2="343.2" y2="286.0" stroke="#838383" stroke-width="1.0" />
<line x1="339.7" y1="175.5" x2="339.7" y2="294.7" stroke="#303030" stroke-width="0.9" />
<rect x="333.3" y="188.4" width="13.7" height="9.4" stroke="#000000" stroke-width="0.5" fill="#fff" />
<line x1="333.3" y1="189.4" x2="347.0" y2="189.4" stroke="#000000" stroke-width="2.0" />
<line x1="333.3" y1="196.8" x2="347.0" y2="196.8" stroke="#000000" stroke-width="2.0" />
<line x1="335.0" y1="193.1" x2="345.5" y2="193.1" stroke="#595959" stroke-width="0.9" />
<rect x="332.9" y="188.2" width="1.8" height="2.6" stroke="#000000" stroke-width="0.3" fill="#111" />
<rect x="332.9" y="195.6" width="1.8" height="2.6" stroke="#000000" stroke-width="0.3" fill="#111" />
<rect x="345.6" y="188.2" width="1.8" height="2.6" stroke="#000000" stroke-width="0.3" fill="#111" />
<rect x="345.6" y="195.6" width="1.8" height="2.6" stroke="#000000" stroke-width="0.3" fill="#111" />
<path d="M325.3 189V197.6M330.3 189.6V197" stroke="#000000" stroke-width="2.0" fill="none" />
<line x1="325.3" y1="193.2" x2="333.3" y2="193.2" stroke="#060606" stroke-width="1.4" />
<path d="M336.6 188.4C336.4 184 334.2 183 334.2 178.6M343 188.4C343.2 184 345.4 183 345.4 178.6" stroke="#444444" stroke-width="0.9" fill="none" />
<circle cx="334.2" cy="178.4" r="0.9" stroke="#000000" stroke-width="0.5" fill="#222" />
<circle cx="345.4" cy="178.4" r="0.9" stroke="#000000" stroke-width="0.5" fill="#222" />
</g>
<g fill="none">
<line x1="602.6" y1="66.0" x2="602.6" y2="373.0" stroke="#303030" stroke-width="0.9" />
<path d="M591.6 176.7V76.4H614.3V176.7" stroke="#494949" stroke-width="1" fill="none" />
<line x1="591.0" y1="76.4" x2="615.0" y2="76.4" stroke="#060606" stroke-width="1.2" />
<line x1="614.3" y1="76.4" x2="614.3" y2="176.7" stroke="#838383" stroke-width="1.6" />
<path d="M584.6 185.4V176.7H621.1V182.5L622.6 185.4" stroke="#303030" stroke-width="1" fill="none" />
<path d="M584.6 182L582.7 185.4" stroke="#303030" stroke-width="1" fill="none" />
<line x1="582.7" y1="185.4" x2="622.6" y2="185.4" stroke="#303030" stroke-width="1.0" />
<line x1="588.3" y1="172.0" x2="588.3" y2="190.0" stroke="#979797" stroke-width="0.8" />
<line x1="617.4" y1="172.0" x2="617.4" y2="190.0" stroke="#979797" stroke-width="0.8" />
<line x1="582.7" y1="185.4" x2="545.3" y2="193.4" stroke="#303030" stroke-width="1.0" stroke-dasharray="3 1.3"/>
<line x1="622.5" y1="185.2" x2="660.5" y2="194.0" stroke="#303030" stroke-width="1.0" stroke-dasharray="3 1.3"/>
<line x1="545.3" y1="193.4" x2="545.3" y2="202.6" stroke="#595959" stroke-width="1.0" />
<line x1="660.5" y1="194.0" x2="660.5" y2="202.6" stroke="#595959" stroke-width="1.0" />
<rect x="594.2" y="188.5" width="17.6" height="10.5" stroke="#303030" stroke-width="1.0" fill="none" rx="2.5"/>
<line x1="599.0" y1="189.5" x2="599.0" y2="198.0" stroke="#1b1b1b" stroke-width="1.0" />
<line x1="606.5" y1="189.5" x2="606.5" y2="198.0" stroke="#1b1b1b" stroke-width="1.0" />
<line x1="592.6" y1="185.4" x2="592.6" y2="289.5" stroke="#000000" stroke-width="1.5" />
<line x1="633.7" y1="188.0" x2="633.7" y2="289.5" stroke="#000000" stroke-width="1.5" />
<line x1="571.6" y1="188.0" x2="571.6" y2="289.5" stroke="#979797" stroke-width="1.6" />
<line x1="613.7" y1="185.4" x2="613.7" y2="289.5" stroke="#979797" stroke-width="1.6" />
<line x1="551.8" y1="192.6" x2="551.8" y2="201.8" stroke="#060606" stroke-width="1.8" />
<line x1="654.3" y1="192.6" x2="654.3" y2="202.0" stroke="#838383" stroke-width="1.0" />
<path d="M638.3 197H642.3M640.3 197V202" stroke="#303030" stroke-width="1.0" fill="none" />
<rect x="545.3" y="202.6" width="115.2" height="6.8" stroke="#444444" stroke-width="0.9" fill="#fff" />
<line x1="545.3" y1="206.0" x2="660.5" y2="206.0" stroke="#838383" stroke-width="0.9" />
<line x1="548.3" y1="200.8" x2="548.3" y2="208.0" stroke="#000000" stroke-width="1.2" />
<polygon points="546.2,205.4 550.4,205.4 548.3,209.0" stroke="#000000" stroke-width="0.3" fill="#222" />
<line x1="555.1" y1="200.8" x2="555.1" y2="208.0" stroke="#000000" stroke-width="1.2" />
<polygon points="553.0,205.4 557.2,205.4 555.1,209.0" stroke="#000000" stroke-width="0.3" fill="#222" />
<line x1="562.0" y1="200.8" x2="562.0" y2="208.0" stroke="#000000" stroke-width="1.2" />
<polygon points="559.9,205.4 564.1,205.4 562.0,209.0" stroke="#000000" stroke-width="0.3" fill="#222" />
<line x1="568.8" y1="200.8" x2="568.8" y2="208.0" stroke="#000000" stroke-width="1.2" />
<polygon points="566.7,205.4 570.9,205.4 568.8,209.0" stroke="#000000" stroke-width="0.3" fill="#222" />
<line x1="575.7" y1="200.8" x2="575.7" y2="208.0" stroke="#000000" stroke-width="1.2" />
<polygon points="573.6,205.4 577.8,205.4 575.7,209.0" stroke="#000000" stroke-width="0.3" fill="#222" />
<line x1="582.5" y1="200.8" x2="582.5" y2="208.0" stroke="#000000" stroke-width="1.2" />
<polygon points="580.4,205.4 584.6,205.4 582.5,209.0" stroke="#000000" stroke-width="0.3" fill="#222" />
<line x1="589.4" y1="200.8" x2="589.4" y2="208.0" stroke="#000000" stroke-width="1.2" />
<polygon points="587.3,205.4 591.5,205.4 589.4,209.0" stroke="#000000" stroke-width="0.3" fill="#222" />
<line x1="596.2" y1="200.8" x2="596.2" y2="208.0" stroke="#000000" stroke-width="1.2" />
<polygon points="594.1,205.4 598.4,205.4 596.2,209.0" stroke="#000000" stroke-width="0.3" fill="#222" />
<line x1="603.1" y1="200.8" x2="603.1" y2="208.0" stroke="#000000" stroke-width="1.2" />
<polygon points="601.0,205.4 605.2,205.4 603.1,209.0" stroke="#000000" stroke-width="0.3" fill="#222" />
<line x1="609.9" y1="200.8" x2="609.9" y2="208.0" stroke="#000000" stroke-width="1.2" />
<polygon points="607.8,205.4 612.0,205.4 609.9,209.0" stroke="#000000" stroke-width="0.3" fill="#222" />
<line x1="616.8" y1="200.8" x2="616.8" y2="208.0" stroke="#000000" stroke-width="1.2" />
<polygon points="614.7,205.4 618.9,205.4 616.8,209.0" stroke="#000000" stroke-width="0.3" fill="#222" />
<line x1="623.6" y1="200.8" x2="623.6" y2="208.0" stroke="#000000" stroke-width="1.2" />
<polygon points="621.5,205.4 625.8,205.4 623.6,209.0" stroke="#000000" stroke-width="0.3" fill="#222" />
<line x1="630.5" y1="200.8" x2="630.5" y2="208.0" stroke="#000000" stroke-width="1.2" />
<polygon points="628.4,205.4 632.6,205.4 630.5,209.0" stroke="#000000" stroke-width="0.3" fill="#222" />
<line x1="637.3" y1="200.8" x2="637.3" y2="208.0" stroke="#000000" stroke-width="1.2" />
<polygon points="635.2,205.4 639.4,205.4 637.3,209.0" stroke="#000000" stroke-width="0.3" fill="#222" />
<line x1="644.2" y1="200.8" x2="644.2" y2="208.0" stroke="#000000" stroke-width="1.2" />
<polygon points="642.1,205.4 646.3,205.4 644.2,209.0" stroke="#000000" stroke-width="0.3" fill="#222" />
<line x1="651.0" y1="200.8" x2="651.0" y2="208.0" stroke="#000000" stroke-width="1.2" />
<polygon points="648.9,205.4 653.1,205.4 651.0,209.0" stroke="#000000" stroke-width="0.3" fill="#222" />
<line x1="657.9" y1="200.8" x2="657.9" y2="208.0" stroke="#000000" stroke-width="1.2" />
<polygon points="655.8,205.4 660.0,205.4 657.9,209.0" stroke="#000000" stroke-width="0.3" fill="#222" />
<path d="M545.3 209.4L538.4 213.5M660.5 209.4L667.9 213.5" stroke="#444444" stroke-width="0.9" fill="none" />
<circle cx="545.0" cy="211.4" r="1.4" stroke="#444444" stroke-width="0.7" fill="none" />
<circle cx="661.0" cy="211.4" r="1.4" stroke="#444444" stroke-width="0.7" fill="none" />
<rect x="538.4" y="212.4" width="129.5" height="49.6" stroke="#303030" stroke-width="1.0" fill="#fff" />
<line x1="538.4" y1="214.9" x2="667.9" y2="214.9" stroke="#060606" stroke-width="1.6" />
<rect x="538.4" y="230.2" width="129.5" height="3.0" stroke="#595959" stroke-width="0.8" fill="#ccc" />
<rect x="538.4" y="242.6" width="129.5" height="5.0" stroke="none" stroke-width="0" fill="#ccc" />
<line x1="538.4" y1="245.3" x2="667.9" y2="245.3" stroke="#000000" stroke-width="1.4" />
<rect x="538.4" y="257.6" width="129.5" height="5.6" stroke="#838383" stroke-width="0.7" fill="#d4d4d4" />
<line x1="592.6" y1="213.0" x2="592.6" y2="268.0" stroke="#000000" stroke-width="1.5" />
<line x1="633.7" y1="213.0" x2="633.7" y2="268.0" stroke="#000000" stroke-width="1.5" />
<line x1="571.6" y1="213.0" x2="571.6" y2="268.0" stroke="#979797" stroke-width="1.6" />
<line x1="613.7" y1="213.0" x2="613.7" y2="268.0" stroke="#979797" stroke-width="1.6" />
<line x1="602.6" y1="213.0" x2="602.6" y2="268.0" stroke="#303030" stroke-width="0.9" />
<line x1="551.0" y1="202.6" x2="551.0" y2="278.0" stroke="#060606" stroke-width="1.0" />
<line x1="553.4" y1="202.6" x2="553.4" y2="278.0" stroke="#060606" stroke-width="1.0" />
<line x1="652.4" y1="202.6" x2="652.4" y2="278.0" stroke="#060606" stroke-width="1.0" />
<line x1="654.6" y1="202.6" x2="654.6" y2="278.0" stroke="#060606" stroke-width="1.0" />
<line x1="538.4" y1="230.4" x2="551.0" y2="230.4" stroke="#060606" stroke-width="1.3" />
<line x1="654.6" y1="230.4" x2="667.9" y2="230.4" stroke="#060606" stroke-width="1.3" />
<line x1="538.4" y1="245.3" x2="551.0" y2="245.3" stroke="#060606" stroke-width="1.3" />
<line x1="654.6" y1="245.3" x2="667.9" y2="245.3" stroke="#060606" stroke-width="1.3" />
<line x1="538.4" y1="260.4" x2="551.0" y2="260.4" stroke="#060606" stroke-width="1.3" />
<line x1="654.6" y1="260.4" x2="667.9" y2="260.4" stroke="#060606" stroke-width="1.3" />
<path d="M543.2 223H546.8M545.0 219.8V226.2" stroke="#303030" stroke-width="0.9" fill="none" />
<polygon points="543.1,223.0 545.0,221.5 546.9,223.0 545.0,224.5" stroke="#595959" stroke-width="0.4" fill="#888" />
<path d="M543.2 238.2H546.8M545.0 235.0V241.39999999999998" stroke="#303030" stroke-width="0.9" fill="none" />
<polygon points="543.1,238.2 545.0,236.7 546.9,238.2 545.0,239.7" stroke="#595959" stroke-width="0.4" fill="#888" />
<path d="M543.2 252.5H546.8M545.0 249.3V255.7" stroke="#303030" stroke-width="0.9" fill="none" />
<polygon points="543.1,252.5 545.0,251.0 546.9,252.5 545.0,254.0" stroke="#595959" stroke-width="0.4" fill="#888" />
<circle cx="545.9" cy="264.6" r="1.5" stroke="#444444" stroke-width="0.8" fill="none" />
<path d="M659.4 223H663.0M661.2 219.8V226.2" stroke="#303030" stroke-width="0.9" fill="none" />
<polygon points="659.3,223.0 661.2,221.5 663.1,223.0 661.2,224.5" stroke="#595959" stroke-width="0.4" fill="#888" />
<path d="M659.4 238.2H663.0M661.2 235.0V241.39999999999998" stroke="#303030" stroke-width="0.9" fill="none" />
<polygon points="659.3,238.2 661.2,236.7 663.1,238.2 661.2,239.7" stroke="#595959" stroke-width="0.4" fill="#888" />
<path d="M659.4 252.5H663.0M661.2 249.3V255.7" stroke="#303030" stroke-width="0.9" fill="none" />
<polygon points="659.3,252.5 661.2,251.0 663.1,252.5 661.2,254.0" stroke="#595959" stroke-width="0.4" fill="#888" />
<circle cx="660.3" cy="264.6" r="1.5" stroke="#444444" stroke-width="0.8" fill="none" />
<polygon points="538.0,228.8 540.6,230.4 538.0,232.0" stroke="#000000" stroke-width="0.3" fill="#222" />
<polygon points="667.5,228.8 665.7,230.4 667.5,232.0" stroke="#000000" stroke-width="0.3" fill="#222" />
<polygon points="538.0,243.7 540.6,245.3 538.0,246.9" stroke="#000000" stroke-width="0.3" fill="#222" />
<polygon points="667.5,243.7 665.7,245.3 667.5,246.9" stroke="#000000" stroke-width="0.3" fill="#222" />
<polygon points="538.0,259.0 540.6,260.6 538.0,262.2" stroke="#000000" stroke-width="0.3" fill="#222" />
<polygon points="667.5,259.0 665.7,260.6 667.5,262.2" stroke="#000000" stroke-width="0.3" fill="#222" />
<path d="M538.4 262L545 269M667.9 262L661.2 269" stroke="#444444" stroke-width="0.9" fill="none" />
<rect x="545.0" y="266.4" width="116.2" height="11.5" stroke="#444444" stroke-width="0.9" fill="#fff" />
<line x1="545.0" y1="271.2" x2="661.2" y2="271.2" stroke="#979797" stroke-width="0.8" />
<line x1="548.3" y1="267.6" x2="548.3" y2="274.6" stroke="#000000" stroke-width="1.2" />
<polygon points="546.2,272.0 550.4,272.0 548.3,275.6" stroke="#000000" stroke-width="0.3" fill="#222" />
<line x1="555.1" y1="267.6" x2="555.1" y2="274.6" stroke="#000000" stroke-width="1.2" />
<polygon points="553.0,272.0 557.2,272.0 555.1,275.6" stroke="#000000" stroke-width="0.3" fill="#222" />
<line x1="562.0" y1="267.6" x2="562.0" y2="274.6" stroke="#000000" stroke-width="1.2" />
<polygon points="559.9,272.0 564.1,272.0 562.0,275.6" stroke="#000000" stroke-width="0.3" fill="#222" />
<line x1="568.8" y1="267.6" x2="568.8" y2="274.6" stroke="#000000" stroke-width="1.2" />
<polygon points="566.7,272.0 570.9,272.0 568.8,275.6" stroke="#000000" stroke-width="0.3" fill="#222" />
<line x1="575.7" y1="267.6" x2="575.7" y2="274.6" stroke="#000000" stroke-width="1.2" />
<polygon points="573.6,272.0 577.8,272.0 575.7,275.6" stroke="#000000" stroke-width="0.3" fill="#222" />
<line x1="582.5" y1="267.6" x2="582.5" y2="274.6" stroke="#000000" stroke-width="1.2" />
<polygon points="580.4,272.0 584.6,272.0 582.5,275.6" stroke="#000000" stroke-width="0.3" fill="#222" />
<line x1="589.4" y1="267.6" x2="589.4" y2="274.6" stroke="#000000" stroke-width="1.2" />
<polygon points="587.3,272.0 591.5,272.0 589.4,275.6" stroke="#000000" stroke-width="0.3" fill="#222" />
<line x1="596.2" y1="267.6" x2="596.2" y2="274.6" stroke="#000000" stroke-width="1.2" />
<polygon points="594.1,272.0 598.4,272.0 596.2,275.6" stroke="#000000" stroke-width="0.3" fill="#222" />
<line x1="603.1" y1="267.6" x2="603.1" y2="274.6" stroke="#000000" stroke-width="1.2" />
<polygon points="601.0,272.0 605.2,272.0 603.1,275.6" stroke="#000000" stroke-width="0.3" fill="#222" />
<line x1="609.9" y1="267.6" x2="609.9" y2="274.6" stroke="#000000" stroke-width="1.2" />
<polygon points="607.8,272.0 612.0,272.0 609.9,275.6" stroke="#000000" stroke-width="0.3" fill="#222" />
<line x1="616.8" y1="267.6" x2="616.8" y2="274.6" stroke="#000000" stroke-width="1.2" />
<polygon points="614.7,272.0 618.9,272.0 616.8,275.6" stroke="#000000" stroke-width="0.3" fill="#222" />
<line x1="623.6" y1="267.6" x2="623.6" y2="274.6" stroke="#000000" stroke-width="1.2" />
<polygon points="621.5,272.0 625.8,272.0 623.6,275.6" stroke="#000000" stroke-width="0.3" fill="#222" />
<line x1="630.5" y1="267.6" x2="630.5" y2="274.6" stroke="#000000" stroke-width="1.2" />
<polygon points="628.4,272.0 632.6,272.0 630.5,275.6" stroke="#000000" stroke-width="0.3" fill="#222" />
<line x1="637.3" y1="267.6" x2="637.3" y2="274.6" stroke="#000000" stroke-width="1.2" />
<polygon points="635.2,272.0 639.4,272.0 637.3,275.6" stroke="#000000" stroke-width="0.3" fill="#222" />
<line x1="644.2" y1="267.6" x2="644.2" y2="274.6" stroke="#000000" stroke-width="1.2" />
<polygon points="642.1,272.0 646.3,272.0 644.2,275.6" stroke="#000000" stroke-width="0.3" fill="#222" />
<line x1="651.0" y1="267.6" x2="651.0" y2="274.6" stroke="#000000" stroke-width="1.2" />
<polygon points="648.9,272.0 653.1,272.0 651.0,275.6" stroke="#000000" stroke-width="0.3" fill="#222" />
<line x1="657.9" y1="267.6" x2="657.9" y2="274.6" stroke="#000000" stroke-width="1.2" />
<polygon points="655.8,272.0 660.0,272.0 657.9,275.6" stroke="#000000" stroke-width="0.3" fill="#222" />
<line x1="545.0" y1="277.9" x2="661.2" y2="277.9" stroke="#444444" stroke-width="1.5" />
<path d="M545 268.6V370.8M661.2 370.8V268.6" stroke="#1b1b1b" stroke-width="1.5" fill="none" />
<line x1="545.0" y1="370.8" x2="661.2" y2="370.8" stroke="#838383" stroke-width="1.0" />
<line x1="572.0" y1="278.0" x2="572.0" y2="289.5" stroke="#060606" stroke-width="1.6" />
<line x1="572.0" y1="358.0" x2="572.0" y2="371.0" stroke="#000000" stroke-width="1.6" />
<line x1="592.6" y1="278.0" x2="592.6" y2="289.5" stroke="#060606" stroke-width="1.6" />
<line x1="592.6" y1="358.0" x2="592.6" y2="371.0" stroke="#000000" stroke-width="1.6" />
<line x1="613.7" y1="278.0" x2="613.7" y2="289.5" stroke="#060606" stroke-width="1.6" />
<line x1="613.7" y1="358.0" x2="613.7" y2="371.0" stroke="#000000" stroke-width="1.6" />
<line x1="633.5" y1="278.0" x2="633.5" y2="289.5" stroke="#060606" stroke-width="1.6" />
<line x1="633.5" y1="358.0" x2="633.5" y2="371.0" stroke="#000000" stroke-width="1.6" />
<line x1="545.0" y1="299.6" x2="560.5" y2="299.6" stroke="#1b1b1b" stroke-width="1.3" />
<line x1="644.8" y1="299.6" x2="661.2" y2="299.6" stroke="#1b1b1b" stroke-width="1.3" />
<line x1="545.0" y1="316.1" x2="560.5" y2="316.1" stroke="#1b1b1b" stroke-width="1.3" />
<line x1="644.8" y1="316.1" x2="661.2" y2="316.1" stroke="#1b1b1b" stroke-width="1.3" />
<line x1="545.0" y1="332.6" x2="560.5" y2="332.6" stroke="#1b1b1b" stroke-width="1.3" />
<line x1="644.8" y1="332.6" x2="661.2" y2="332.6" stroke="#1b1b1b" stroke-width="1.3" />
<line x1="545.0" y1="349.2" x2="560.5" y2="349.2" stroke="#1b1b1b" stroke-width="1.3" />
<line x1="644.8" y1="349.2" x2="661.2" y2="349.2" stroke="#1b1b1b" stroke-width="1.3" />
<rect x="553.0" y="282.6" width="100.2" height="82.6" stroke="#444444" stroke-width="0.8" fill="none" />
<rect x="559.6" y="288.2" width="86.0" height="72.4" stroke="#838383" stroke-width="0.8" fill="none" />
<line x1="555.0" y1="283.6" x2="555.0" y2="288.0" stroke="#1b1b1b" stroke-width="0.8" />
<circle cx="555.0" cy="285.8" r="0.9" stroke="#000000" stroke-width="0.3" fill="#222" />
<line x1="555.0" y1="360.8" x2="555.0" y2="365.2" stroke="#1b1b1b" stroke-width="0.8" />
<circle cx="555.0" cy="363.0" r="0.9" stroke="#000000" stroke-width="0.3" fill="#222" />
<line x1="561.9" y1="283.6" x2="561.9" y2="288.0" stroke="#1b1b1b" stroke-width="0.8" />
<circle cx="561.9" cy="285.8" r="0.9" stroke="#000000" stroke-width="0.3" fill="#222" />
<line x1="561.9" y1="360.8" x2="561.9" y2="365.2" stroke="#1b1b1b" stroke-width="0.8" />
<circle cx="561.9" cy="363.0" r="0.9" stroke="#000000" stroke-width="0.3" fill="#222" />
<line x1="568.7" y1="283.6" x2="568.7" y2="288.0" stroke="#1b1b1b" stroke-width="0.8" />
<circle cx="568.7" cy="285.8" r="0.9" stroke="#000000" stroke-width="0.3" fill="#222" />
<line x1="568.7" y1="360.8" x2="568.7" y2="365.2" stroke="#1b1b1b" stroke-width="0.8" />
<circle cx="568.7" cy="363.0" r="0.9" stroke="#000000" stroke-width="0.3" fill="#222" />
<line x1="575.5" y1="283.6" x2="575.5" y2="288.0" stroke="#1b1b1b" stroke-width="0.8" />
<circle cx="575.5" cy="285.8" r="0.9" stroke="#000000" stroke-width="0.3" fill="#222" />
<line x1="575.5" y1="360.8" x2="575.5" y2="365.2" stroke="#1b1b1b" stroke-width="0.8" />
<circle cx="575.5" cy="363.0" r="0.9" stroke="#000000" stroke-width="0.3" fill="#222" />
<line x1="582.4" y1="283.6" x2="582.4" y2="288.0" stroke="#1b1b1b" stroke-width="0.8" />
<circle cx="582.4" cy="285.8" r="0.9" stroke="#000000" stroke-width="0.3" fill="#222" />
<line x1="582.4" y1="360.8" x2="582.4" y2="365.2" stroke="#1b1b1b" stroke-width="0.8" />
<circle cx="582.4" cy="363.0" r="0.9" stroke="#000000" stroke-width="0.3" fill="#222" />
<line x1="589.2" y1="283.6" x2="589.2" y2="288.0" stroke="#1b1b1b" stroke-width="0.8" />
<circle cx="589.2" cy="285.8" r="0.9" stroke="#000000" stroke-width="0.3" fill="#222" />
<line x1="589.2" y1="360.8" x2="589.2" y2="365.2" stroke="#1b1b1b" stroke-width="0.8" />
<circle cx="589.2" cy="363.0" r="0.9" stroke="#000000" stroke-width="0.3" fill="#222" />
<line x1="596.1" y1="283.6" x2="596.1" y2="288.0" stroke="#1b1b1b" stroke-width="0.8" />
<circle cx="596.1" cy="285.8" r="0.9" stroke="#000000" stroke-width="0.3" fill="#222" />
<line x1="596.1" y1="360.8" x2="596.1" y2="365.2" stroke="#1b1b1b" stroke-width="0.8" />
<circle cx="596.1" cy="363.0" r="0.9" stroke="#000000" stroke-width="0.3" fill="#222" />
<line x1="603.0" y1="283.6" x2="603.0" y2="288.0" stroke="#1b1b1b" stroke-width="0.8" />
<circle cx="603.0" cy="285.8" r="0.9" stroke="#000000" stroke-width="0.3" fill="#222" />
<line x1="603.0" y1="360.8" x2="603.0" y2="365.2" stroke="#1b1b1b" stroke-width="0.8" />
<circle cx="603.0" cy="363.0" r="0.9" stroke="#000000" stroke-width="0.3" fill="#222" />
<line x1="609.8" y1="283.6" x2="609.8" y2="288.0" stroke="#1b1b1b" stroke-width="0.8" />
<circle cx="609.8" cy="285.8" r="0.9" stroke="#000000" stroke-width="0.3" fill="#222" />
<line x1="609.8" y1="360.8" x2="609.8" y2="365.2" stroke="#1b1b1b" stroke-width="0.8" />
<circle cx="609.8" cy="363.0" r="0.9" stroke="#000000" stroke-width="0.3" fill="#222" />
<line x1="616.6" y1="283.6" x2="616.6" y2="288.0" stroke="#1b1b1b" stroke-width="0.8" />
<circle cx="616.6" cy="285.8" r="0.9" stroke="#000000" stroke-width="0.3" fill="#222" />
<line x1="616.6" y1="360.8" x2="616.6" y2="365.2" stroke="#1b1b1b" stroke-width="0.8" />
<circle cx="616.6" cy="363.0" r="0.9" stroke="#000000" stroke-width="0.3" fill="#222" />
<line x1="623.5" y1="283.6" x2="623.5" y2="288.0" stroke="#1b1b1b" stroke-width="0.8" />
<circle cx="623.5" cy="285.8" r="0.9" stroke="#000000" stroke-width="0.3" fill="#222" />
<line x1="623.5" y1="360.8" x2="623.5" y2="365.2" stroke="#1b1b1b" stroke-width="0.8" />
<circle cx="623.5" cy="363.0" r="0.9" stroke="#000000" stroke-width="0.3" fill="#222" />
<line x1="630.4" y1="283.6" x2="630.4" y2="288.0" stroke="#1b1b1b" stroke-width="0.8" />
<circle cx="630.4" cy="285.8" r="0.9" stroke="#000000" stroke-width="0.3" fill="#222" />
<line x1="630.4" y1="360.8" x2="630.4" y2="365.2" stroke="#1b1b1b" stroke-width="0.8" />
<circle cx="630.4" cy="363.0" r="0.9" stroke="#000000" stroke-width="0.3" fill="#222" />
<line x1="637.2" y1="283.6" x2="637.2" y2="288.0" stroke="#1b1b1b" stroke-width="0.8" />
<circle cx="637.2" cy="285.8" r="0.9" stroke="#000000" stroke-width="0.3" fill="#222" />
<line x1="637.2" y1="360.8" x2="637.2" y2="365.2" stroke="#1b1b1b" stroke-width="0.8" />
<circle cx="637.2" cy="363.0" r="0.9" stroke="#000000" stroke-width="0.3" fill="#222" />
<line x1="644.0" y1="283.6" x2="644.0" y2="288.0" stroke="#1b1b1b" stroke-width="0.8" />
<circle cx="644.0" cy="285.8" r="0.9" stroke="#000000" stroke-width="0.3" fill="#222" />
<line x1="644.0" y1="360.8" x2="644.0" y2="365.2" stroke="#1b1b1b" stroke-width="0.8" />
<circle cx="644.0" cy="363.0" r="0.9" stroke="#000000" stroke-width="0.3" fill="#222" />
<line x1="650.9" y1="283.6" x2="650.9" y2="288.0" stroke="#1b1b1b" stroke-width="0.8" />
<circle cx="650.9" cy="285.8" r="0.9" stroke="#000000" stroke-width="0.3" fill="#222" />
<line x1="650.9" y1="360.8" x2="650.9" y2="365.2" stroke="#1b1b1b" stroke-width="0.8" />
<circle cx="650.9" cy="363.0" r="0.9" stroke="#000000" stroke-width="0.3" fill="#222" />
<line x1="553.8" y1="292.5" x2="558.2" y2="292.5" stroke="#1b1b1b" stroke-width="0.8" />
<circle cx="556.0" cy="292.5" r="0.9" stroke="#000000" stroke-width="0.3" fill="#222" />
<line x1="647.2" y1="292.5" x2="651.6" y2="292.5" stroke="#1b1b1b" stroke-width="0.8" />
<circle cx="649.4" cy="292.5" r="0.9" stroke="#000000" stroke-width="0.3" fill="#222" />
<line x1="553.8" y1="299.4" x2="558.2" y2="299.4" stroke="#1b1b1b" stroke-width="0.8" />
<circle cx="556.0" cy="299.4" r="0.9" stroke="#000000" stroke-width="0.3" fill="#222" />
<line x1="647.2" y1="299.4" x2="651.6" y2="299.4" stroke="#1b1b1b" stroke-width="0.8" />
<circle cx="649.4" cy="299.4" r="0.9" stroke="#000000" stroke-width="0.3" fill="#222" />
<line x1="553.8" y1="306.3" x2="558.2" y2="306.3" stroke="#1b1b1b" stroke-width="0.8" />
<circle cx="556.0" cy="306.3" r="0.9" stroke="#000000" stroke-width="0.3" fill="#222" />
<line x1="647.2" y1="306.3" x2="651.6" y2="306.3" stroke="#1b1b1b" stroke-width="0.8" />
<circle cx="649.4" cy="306.3" r="0.9" stroke="#000000" stroke-width="0.3" fill="#222" />
<line x1="553.8" y1="313.2" x2="558.2" y2="313.2" stroke="#1b1b1b" stroke-width="0.8" />
<circle cx="556.0" cy="313.2" r="0.9" stroke="#000000" stroke-width="0.3" fill="#222" />
<line x1="647.2" y1="313.2" x2="651.6" y2="313.2" stroke="#1b1b1b" stroke-width="0.8" />
<circle cx="649.4" cy="313.2" r="0.9" stroke="#000000" stroke-width="0.3" fill="#222" />
<line x1="553.8" y1="320.1" x2="558.2" y2="320.1" stroke="#1b1b1b" stroke-width="0.8" />
<circle cx="556.0" cy="320.1" r="0.9" stroke="#000000" stroke-width="0.3" fill="#222" />
<line x1="647.2" y1="320.1" x2="651.6" y2="320.1" stroke="#1b1b1b" stroke-width="0.8" />
<circle cx="649.4" cy="320.1" r="0.9" stroke="#000000" stroke-width="0.3" fill="#222" />
<line x1="553.8" y1="327.0" x2="558.2" y2="327.0" stroke="#1b1b1b" stroke-width="0.8" />
<circle cx="556.0" cy="327.0" r="0.9" stroke="#000000" stroke-width="0.3" fill="#222" />
<line x1="647.2" y1="327.0" x2="651.6" y2="327.0" stroke="#1b1b1b" stroke-width="0.8" />
<circle cx="649.4" cy="327.0" r="0.9" stroke="#000000" stroke-width="0.3" fill="#222" />
<line x1="553.8" y1="333.9" x2="558.2" y2="333.9" stroke="#1b1b1b" stroke-width="0.8" />
<circle cx="556.0" cy="333.9" r="0.9" stroke="#000000" stroke-width="0.3" fill="#222" />
<line x1="647.2" y1="333.9" x2="651.6" y2="333.9" stroke="#1b1b1b" stroke-width="0.8" />
<circle cx="649.4" cy="333.9" r="0.9" stroke="#000000" stroke-width="0.3" fill="#222" />
<line x1="553.8" y1="340.8" x2="558.2" y2="340.8" stroke="#1b1b1b" stroke-width="0.8" />
<circle cx="556.0" cy="340.8" r="0.9" stroke="#000000" stroke-width="0.3" fill="#222" />
<line x1="647.2" y1="340.8" x2="651.6" y2="340.8" stroke="#1b1b1b" stroke-width="0.8" />
<circle cx="649.4" cy="340.8" r="0.9" stroke="#000000" stroke-width="0.3" fill="#222" />
<line x1="553.8" y1="347.7" x2="558.2" y2="347.7" stroke="#1b1b1b" stroke-width="0.8" />
<circle cx="556.0" cy="347.7" r="0.9" stroke="#000000" stroke-width="0.3" fill="#222" />
<line x1="647.2" y1="347.7" x2="651.6" y2="347.7" stroke="#1b1b1b" stroke-width="0.8" />
<circle cx="649.4" cy="347.7" r="0.9" stroke="#000000" stroke-width="0.3" fill="#222" />
<line x1="553.8" y1="354.6" x2="558.2" y2="354.6" stroke="#1b1b1b" stroke-width="0.8" />
<circle cx="556.0" cy="354.6" r="0.9" stroke="#000000" stroke-width="0.3" fill="#222" />
<line x1="647.2" y1="354.6" x2="651.6" y2="354.6" stroke="#1b1b1b" stroke-width="0.8" />
<circle cx="649.4" cy="354.6" r="0.9" stroke="#000000" stroke-width="0.3" fill="#222" />
<line x1="556.0" y1="284.0" x2="556.0" y2="364.0" stroke="#6e6e6e" stroke-width="0.7" />
<line x1="649.4" y1="284.0" x2="649.4" y2="364.0" stroke="#6e6e6e" stroke-width="0.7" />
<line x1="555.0" y1="285.8" x2="651.0" y2="285.8" stroke="#838383" stroke-width="0.6" />
<line x1="555.0" y1="363.0" x2="651.0" y2="363.0" stroke="#838383" stroke-width="0.6" />
<rect x="561.6" y="289.8" width="82.0" height="68.2" stroke="#060606" stroke-width="1.5" fill="#fff" />
<line x1="545.0" y1="324.5" x2="663.0" y2="324.5" stroke="#6e6e6e" stroke-width="1.4" />
<line x1="602.6" y1="268.0" x2="602.6" y2="373.0" stroke="#303030" stroke-width="0.9" />
<path d="M562.6 354L578.6 305.2" stroke="#1b1b1b" stroke-width="1.0" fill="none" />
<path d="M578.6 305.2L643 291.2" stroke="#1b1b1b" stroke-width="1.0" fill="none" stroke-dasharray="5 1.5 1.5 1.5"/>
<path d="M520.4 195V318.2A9.3 9.3 0 0 0 529.7 327.4H541Q542.8 327.4 542.8 325.6V323.3Q542.8 321.6 541 321.6H532A3.5 3.5 0 0 1 528.5 318.1V195" stroke="#1b1b1b" stroke-width="1.1" fill="none" />
<line x1="520.4" y1="318.2" x2="528.5" y2="318.2" stroke="#1b1b1b" stroke-width="1.0" />
<line x1="524.4" y1="196.0" x2="524.4" y2="318.0" stroke="#838383" stroke-width="0.7" />
<line x1="533.0" y1="321.6" x2="533.0" y2="327.4" stroke="#595959" stroke-width="0.8" />
<path d="M517.6 195.2Q517.6 188 524.4 188T531.2 195.2" stroke="#1b1b1b" stroke-width="1.1" fill="#fff" />
<path d="M518.6 195.2H530.4" stroke="#303030" stroke-width="1.0" fill="none" />
<path d="M519.5 193Q524.4 189.5 529.4 193" stroke="#6e6e6e" stroke-width="0.8" fill="none" />
<rect x="523.2" y="183.6" width="2.6" height="4.4" stroke="#303030" stroke-width="0.5" fill="#555" />
<rect x="562.4" y="104.5" width="2.6" height="85.0" stroke="none" stroke-width="0" fill="#8c8c8c" />
<rect x="567.4" y="104.5" width="4.9" height="85.0" stroke="none" stroke-width="0" fill="#262626" />
<line x1="568.1" y1="189.0" x2="568.1" y2="200.0" stroke="#000000" stroke-width="1.5" />
<line x1="569.9" y1="109" x2="569.9" y2="188" stroke="#fff" stroke-width="1.3" stroke-dasharray="2.8 1.3"/>
<line x1="562.0" y1="104.8" x2="572.4" y2="104.8" stroke="#000000" stroke-width="1.3" />
<line x1="562.4" y1="108.0" x2="568.0" y2="108.0" stroke="#1b1b1b" stroke-width="0.9" />
<line x1="562.4" y1="176.5" x2="572.0" y2="176.5" stroke="#060606" stroke-width="1.0" />
<path d="M562.6 189.5V185Q563.6 183.5 564.6 185V189.5M570.2 189.5V185Q571 183.5 572 185V188.5" stroke="#000000" stroke-width="1.0" fill="none" />
</g>
</g>
</svg></body></html>
